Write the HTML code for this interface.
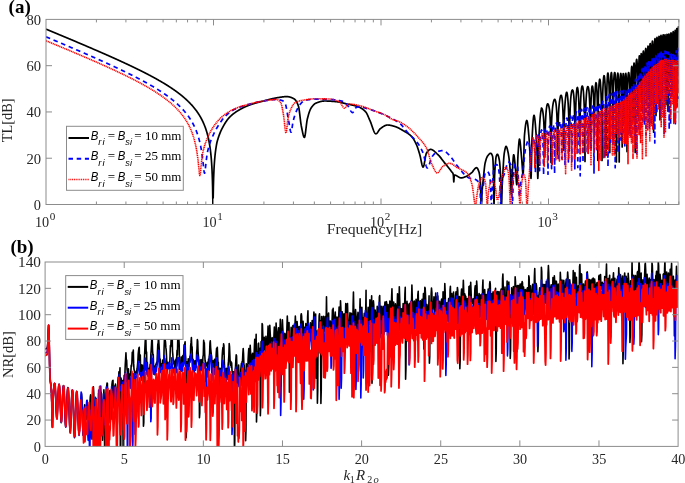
<!DOCTYPE html>
<html><head><meta charset="utf-8"><style>html,body{margin:0;padding:0;background:#fff;overflow:hidden}svg{display:block}</style></head><body>
<svg width="685" height="483" viewBox="0 0 685 483">
<defs><clipPath id="ca"><rect x="46.0" y="19.4" width="632.9" height="185.1"/></clipPath>
<clipPath id="cb"><rect x="45.1" y="262.0" width="633.0" height="184.4"/></clipPath></defs>
<rect width="685" height="483" fill="#fff"/>
<g clip-path="url(#ca)" fill="none" stroke-linejoin="round">
<polyline stroke="#000" stroke-width="1.7" points="46.00,29.09 46.20,29.17 46.40,29.26 46.60,29.34 46.80,29.42 47.00,29.51 47.20,29.59 47.40,29.67 47.60,29.76 47.80,29.84 48.00,29.92 48.20,30.01 48.40,30.09 48.60,30.17 48.80,30.26 49.00,30.34 49.20,30.42 49.40,30.51 49.60,30.59 49.80,30.67 50.00,30.76 50.20,30.84 50.40,30.92 50.60,31.01 50.80,31.09 51.00,31.17 51.20,31.26 51.40,31.34 51.60,31.42 51.80,31.51 52.00,31.59 52.20,31.67 52.40,31.76 52.60,31.84 52.80,31.92 53.00,32.01 53.20,32.09 53.40,32.17 53.60,32.26 53.80,32.34 54.00,32.42 54.20,32.51 54.40,32.59 54.60,32.67 54.80,32.76 55.00,32.84 55.20,32.92 55.40,33.01 55.60,33.09 55.80,33.18 56.00,33.26 56.20,33.34 56.40,33.43 56.60,33.51 56.80,33.59 57.00,33.68 57.20,33.76 57.40,33.84 57.60,33.93 57.80,34.01 58.00,34.09 58.20,34.18 58.40,34.26 58.60,34.35 58.80,34.43 59.00,34.51 59.20,34.60 59.40,34.68 59.60,34.76 59.80,34.85 60.00,34.93 60.20,35.02 60.40,35.10 60.60,35.18 60.80,35.27 61.00,35.35 61.20,35.43 61.40,35.52 61.60,35.60 61.80,35.69 62.00,35.77 62.20,35.85 62.40,35.94 62.60,36.02 62.80,36.10 63.00,36.19 63.20,36.27 63.40,36.36 63.60,36.44 63.80,36.52 64.00,36.61 64.20,36.69 64.40,36.78 64.60,36.86 64.80,36.94 65.00,37.03 65.20,37.11 65.40,37.20 65.60,37.28 65.80,37.36 66.00,37.45 66.20,37.53 66.40,37.62 66.60,37.70 66.80,37.78 67.00,37.87 67.20,37.95 67.40,38.04 67.60,38.12 67.80,38.20 68.00,38.29 68.20,38.37 68.40,38.46 68.60,38.54 68.80,38.63 69.00,38.71 69.20,38.79 69.40,38.88 69.60,38.96 69.80,39.05 70.00,39.13 70.20,39.22 70.40,39.30 70.60,39.38 70.80,39.47 71.00,39.55 71.20,39.64 71.40,39.72 71.60,39.81 71.80,39.89 72.00,39.97 72.20,40.06 72.40,40.14 72.60,40.23 72.80,40.31 73.00,40.40 73.20,40.48 73.40,40.57 73.60,40.65 73.80,40.73 74.00,40.82 74.20,40.90 74.40,40.99 74.60,41.07 74.80,41.16 75.00,41.24 75.20,41.33 75.40,41.41 75.60,41.50 75.80,41.58 76.00,41.66 76.20,41.75 76.40,41.83 76.60,41.92 76.80,42.00 77.00,42.09 77.20,42.17 77.40,42.26 77.60,42.34 77.80,42.43 78.00,42.51 78.20,42.60 78.40,42.68 78.60,42.77 78.80,42.85 79.00,42.94 79.20,43.02 79.40,43.11 79.60,43.19 79.80,43.28 80.00,43.36 80.20,43.45 80.40,43.53 80.60,43.62 80.80,43.70 81.00,43.79 81.20,43.87 81.40,43.96 81.60,44.04 81.80,44.13 82.00,44.21 82.20,44.30 82.40,44.38 82.60,44.47 82.80,44.55 83.00,44.64 83.20,44.72 83.40,44.81 83.60,44.89 83.80,44.98 84.00,45.06 84.20,45.15 84.40,45.23 84.60,45.32 84.80,45.41 85.00,45.49 85.20,45.58 85.40,45.66 85.60,45.75 85.80,45.83 86.00,45.92 86.20,46.00 86.40,46.09 86.60,46.18 86.80,46.26 87.00,46.35 87.20,46.43 87.40,46.52 87.60,46.60 87.80,46.69 88.00,46.77 88.20,46.86 88.40,46.95 88.60,47.03 88.80,47.12 89.00,47.20 89.20,47.29 89.40,47.38 89.60,47.46 89.80,47.55 90.00,47.63 90.20,47.72 90.40,47.80 90.60,47.89 90.80,47.98 91.00,48.06 91.20,48.15 91.40,48.24 91.60,48.32 91.80,48.41 92.00,48.49 92.20,48.58 92.40,48.67 92.60,48.75 92.80,48.84 93.00,48.92 93.20,49.01 93.40,49.10 93.60,49.18 93.80,49.27 94.00,49.36 94.20,49.44 94.40,49.53 94.60,49.62 94.80,49.70 95.00,49.79 95.20,49.88 95.40,49.96 95.60,50.05 95.80,50.14 96.00,50.22 96.20,50.31 96.40,50.40 96.60,50.48 96.80,50.57 97.00,50.66 97.20,50.74 97.40,50.83 97.60,50.92 97.80,51.00 98.00,51.09 98.20,51.18 98.40,51.26 98.60,51.35 98.80,51.44 99.00,51.52 99.20,51.61 99.40,51.70 99.60,51.79 99.80,51.87 100.00,51.96 100.20,52.05 100.40,52.14 100.60,52.22 100.80,52.31 101.00,52.40 101.20,52.48 101.40,52.57 101.60,52.66 101.80,52.75 102.00,52.83 102.20,52.92 102.40,53.01 102.60,53.10 102.80,53.18 103.00,53.27 103.20,53.36 103.40,53.45 103.60,53.54 103.80,53.62 104.00,53.71 104.20,53.80 104.40,53.89 104.60,53.98 104.80,54.06 105.00,54.15 105.20,54.24 105.40,54.33 105.60,54.42 105.80,54.50 106.00,54.59 106.20,54.68 106.40,54.77 106.60,54.86 106.80,54.94 107.00,55.03 107.20,55.12 107.40,55.21 107.60,55.30 107.80,55.39 108.00,55.48 108.20,55.56 108.40,55.65 108.60,55.74 108.80,55.83 109.00,55.92 109.20,56.01 109.40,56.10 109.60,56.19 109.80,56.27 110.00,56.36 110.20,56.45 110.40,56.54 110.60,56.63 110.80,56.72 111.00,56.81 111.20,56.90 111.40,56.99 111.60,57.08 111.80,57.17 112.00,57.26 112.20,57.34 112.40,57.43 112.60,57.52 112.80,57.61 113.00,57.70 113.20,57.79 113.40,57.88 113.60,57.97 113.80,58.06 114.00,58.15 114.20,58.24 114.40,58.33 114.60,58.42 114.80,58.51 115.00,58.60 115.20,58.69 115.40,58.78 115.60,58.87 115.80,58.96 116.00,59.05 116.20,59.14 116.40,59.23 116.60,59.32 116.80,59.41 117.00,59.50 117.20,59.59 117.40,59.69 117.60,59.78 117.80,59.87 118.00,59.96 118.20,60.05 118.40,60.14 118.60,60.23 118.80,60.32 119.00,60.41 119.20,60.50 119.40,60.59 119.60,60.69 119.80,60.78 120.00,60.87 120.20,60.96 120.40,61.05 120.60,61.14 120.80,61.23 121.00,61.33 121.20,61.42 121.40,61.51 121.60,61.60 121.80,61.69 122.00,61.78 122.20,61.88 122.40,61.97 122.60,62.06 122.80,62.15 123.00,62.24 123.20,62.34 123.40,62.43 123.60,62.52 123.80,62.61 124.00,62.71 124.20,62.80 124.40,62.89 124.60,62.98 124.80,63.08 125.00,63.17 125.20,63.26 125.40,63.36 125.60,63.45 125.80,63.54 126.00,63.64 126.20,63.73 126.40,63.82 126.60,63.91 126.80,64.01 127.00,64.10 127.20,64.20 127.40,64.29 127.60,64.38 127.80,64.48 128.00,64.57 128.20,64.66 128.40,64.76 128.60,64.85 128.80,64.95 129.00,65.04 129.20,65.13 129.40,65.23 129.60,65.32 129.80,65.42 130.00,65.51 130.20,65.61 130.40,65.70 130.60,65.80 130.80,65.89 131.00,65.99 131.20,66.08 131.40,66.18 131.60,66.27 131.80,66.37 132.00,66.46 132.20,66.56 132.40,66.65 132.60,66.75 132.80,66.85 133.00,66.94 133.20,67.04 133.40,67.13 133.60,67.23 133.80,67.33 134.00,67.42 134.20,67.52 134.40,67.61 134.60,67.71 134.80,67.81 135.00,67.90 135.20,68.00 135.40,68.10 135.60,68.19 135.80,68.29 136.00,68.39 136.20,68.49 136.40,68.58 136.60,68.68 136.80,68.78 137.00,68.88 137.20,68.97 137.40,69.07 137.60,69.17 137.80,69.27 138.00,69.37 138.20,69.46 138.40,69.56 138.60,69.66 138.80,69.76 139.00,69.86 139.20,69.96 139.40,70.05 139.60,70.15 139.80,70.25 140.00,70.35 140.20,70.45 140.40,70.55 140.60,70.65 140.80,70.75 141.00,70.85 141.20,70.95 141.40,71.05 141.60,71.15 141.80,71.25 142.00,71.35 142.20,71.45 142.40,71.55 142.60,71.65 142.80,71.75 143.00,71.85 143.20,71.95 143.40,72.06 143.60,72.16 143.80,72.26 144.00,72.36 144.20,72.46 144.40,72.56 144.60,72.66 144.80,72.77 145.00,72.87 145.20,72.97 145.40,73.07 145.60,73.18 145.80,73.28 146.00,73.38 146.20,73.48 146.40,73.59 146.60,73.69 146.80,73.79 147.00,73.90 147.20,74.00 147.40,74.10 147.60,74.21 147.80,74.31 148.00,74.42 148.20,74.52 148.40,74.63 148.60,74.73 148.80,74.84 149.00,74.94 149.20,75.05 149.40,75.15 149.60,75.26 149.80,75.36 150.00,75.47 150.20,75.57 150.40,75.68 150.60,75.79 150.80,75.89 151.00,76.00 151.20,76.11 151.40,76.21 151.60,76.32 151.80,76.43 152.00,76.53 152.20,76.64 152.40,76.75 152.60,76.86 152.80,76.96 153.00,77.07 153.20,77.18 153.40,77.29 153.60,77.40 153.80,77.51 154.00,77.62 154.20,77.73 154.40,77.84 154.60,77.95 154.80,78.06 155.00,78.17 155.20,78.28 155.40,78.39 155.60,78.50 155.80,78.61 156.00,78.72 156.20,78.83 156.40,78.94 156.60,79.05 156.80,79.17 157.00,79.28 157.20,79.39 157.40,79.50 157.60,79.62 157.80,79.73 158.00,79.84 158.20,79.96 158.40,80.07 158.60,80.18 158.80,80.30 159.00,80.41 159.20,80.53 159.40,80.64 159.60,80.76 159.80,80.87 160.00,80.99 160.20,81.10 160.40,81.22 160.60,81.33 160.80,81.45 161.00,81.57 161.20,81.68 161.40,81.80 161.60,81.92 161.80,82.04 162.00,82.15 162.20,82.27 162.40,82.39 162.60,82.51 162.80,82.63 163.00,82.75 163.20,82.87 163.40,82.99 163.60,83.11 163.80,83.23 164.00,83.35 164.20,83.47 164.40,83.59 164.60,83.71 164.80,83.84 165.00,83.96 165.20,84.08 165.40,84.20 165.60,84.33 165.80,84.45 166.00,84.57 166.20,84.70 166.40,84.82 166.60,84.95 166.80,85.07 167.00,85.20 167.20,85.32 167.40,85.45 167.60,85.58 167.80,85.70 168.00,85.83 168.20,85.96 168.40,86.08 168.60,86.21 168.80,86.34 169.00,86.47 169.20,86.60 169.40,86.73 169.60,86.86 169.80,86.99 170.00,87.12 170.20,87.25 170.40,87.38 170.60,87.51 170.80,87.65 171.00,87.78 171.20,87.91 171.40,88.05 171.60,88.18 171.80,88.31 172.00,88.45 172.20,88.58 172.40,88.72 172.60,88.86 172.80,88.99 173.00,89.13 173.20,89.27 173.40,89.40 173.60,89.54 173.80,89.68 174.00,89.82 174.20,89.96 174.40,90.10 174.60,90.24 174.80,90.38 175.00,90.53 175.20,90.67 175.40,90.81 175.60,90.95 175.80,91.10 176.00,91.24 176.20,91.39 176.40,91.53 176.60,91.68 176.80,91.83 177.00,91.97 177.20,92.12 177.40,92.27 177.60,92.42 177.80,92.57 178.00,92.72 178.20,92.87 178.40,93.02 178.60,93.17 178.80,93.32 179.00,93.48 179.20,93.63 179.40,93.79 179.60,93.94 179.80,94.10 180.00,94.25 180.20,94.41 180.40,94.57 180.60,94.73 180.80,94.89 181.00,95.05 181.20,95.21 181.40,95.37 181.60,95.53 181.80,95.69 182.00,95.86 182.20,96.02 182.40,96.19 182.60,96.35 182.80,96.52 183.00,96.69 183.20,96.86 183.40,97.03 183.60,97.20 183.80,97.37 184.00,97.54 184.20,97.71 184.40,97.89 184.60,98.06 184.80,98.24 185.00,98.42 185.20,98.59 185.40,98.77 185.60,98.95 185.80,99.13 186.00,99.32 186.20,99.50 186.40,99.68 186.60,99.87 186.80,100.05 187.00,100.24 187.20,100.43 187.40,100.62 187.60,100.81 187.80,101.00 188.00,101.20 188.20,101.39 188.40,101.59 188.60,101.78 188.80,101.98 189.00,102.18 189.20,102.38 189.40,102.59 189.60,102.79 189.80,102.99 190.00,103.20 190.20,103.41 190.40,103.62 190.60,103.83 190.80,104.04 191.00,104.26 191.20,104.47 191.40,104.69 191.60,104.91 191.80,105.13 192.00,105.35 192.20,105.58 192.40,105.80 192.60,106.03 192.80,106.26 193.00,106.49 193.20,106.73 193.40,106.96 193.60,107.20 193.80,107.44 194.00,107.68 194.20,107.93 194.40,108.18 194.60,108.42 194.80,108.68 195.00,108.93 195.20,109.18 195.40,109.44 195.60,109.70 195.80,109.97 196.00,110.23 196.20,110.50 196.40,110.78 196.60,111.05 196.80,111.33 197.00,111.61 197.20,111.89 197.40,112.18 197.60,112.47 197.80,112.76 198.00,113.06 198.20,113.36 198.40,113.66 198.60,113.97 198.80,114.28 199.00,114.60 199.20,114.92 199.40,115.24 199.60,115.57 199.80,115.90 200.00,116.24 200.20,116.58 200.40,116.93 200.60,117.28 200.80,117.64 201.00,118.00 201.20,118.37 201.40,118.74 201.60,119.12 201.80,119.51 202.00,119.90 202.20,120.30 202.40,120.70 202.60,121.12 202.80,121.54 203.00,121.96 203.20,122.40 203.40,122.84 203.60,123.30 203.80,123.76 204.00,124.23 204.20,124.71 204.40,125.20 204.60,125.70 204.80,126.22 205.00,126.74 205.20,127.28 205.40,127.83 205.60,128.40 205.80,128.98 206.00,129.57 206.20,130.18 206.40,130.81 206.60,131.46 206.80,132.13 207.00,132.82 207.20,133.53 207.40,134.26 207.60,135.02 207.80,135.81 208.00,136.63 208.20,137.48 208.40,138.36 208.60,139.28 208.80,140.25 209.00,141.26 209.20,142.32 209.40,143.43 209.60,144.61 209.80,145.86 210.00,147.18 210.20,148.60 210.40,150.12 210.60,151.76 210.80,153.53 211.00,155.48 211.20,157.62 211.40,160.01 211.60,162.72 211.80,165.83 212.00,169.49 212.20,173.94 212.40,179.58 212.60,187.23 212.80,198.40 213.00,208.30 213.20,197.01 213.40,186.36 213.60,179.05 213.80,173.62 214.00,169.33 214.20,165.79 214.40,162.78 214.60,160.17 214.80,157.86 215.00,155.79 215.20,153.92 215.40,152.22 215.60,150.65 215.80,149.19 216.00,147.84 216.20,146.58 216.40,145.39 216.60,144.27 216.80,143.22 217.00,142.22 217.20,141.48 217.40,140.77 217.60,140.07 217.80,139.40 218.00,138.74 218.20,138.10 218.40,137.48 218.60,136.87 218.80,136.29 219.00,135.71 219.20,135.16 219.40,134.62 219.60,134.09 219.80,133.58 220.00,133.08 220.20,132.59 220.40,132.11 220.60,131.65 220.80,131.20 221.00,130.75 221.20,130.32 221.40,129.90 221.60,129.48 221.80,129.08 222.00,128.68 222.20,128.29 222.40,127.90 222.60,127.53 222.80,127.15 223.00,126.78 223.20,126.42 223.40,126.06 223.60,125.70 223.80,125.35 224.00,125.00 224.20,124.65 224.40,124.31 224.60,123.97 224.80,123.64 225.00,123.31 225.20,122.99 225.40,122.68 225.60,122.37 225.80,122.06 226.00,121.76 226.20,121.46 226.40,121.17 226.60,120.89 226.80,120.61 227.00,120.33 227.20,120.06 227.40,119.80 227.60,119.54 227.80,119.28 228.00,119.03 228.20,118.79 228.40,118.54 228.60,118.31 228.80,118.08 229.00,117.85 229.20,117.63 229.40,117.42 229.60,117.21 229.80,117.00 230.00,116.80 230.20,116.60 230.40,116.40 230.60,116.21 230.80,116.02 231.00,115.83 231.20,115.65 231.40,115.46 231.60,115.29 231.80,115.11 232.00,114.93 232.20,114.76 232.40,114.59 232.60,114.43 232.80,114.26 233.00,114.10 233.20,113.94 233.40,113.78 233.60,113.63 233.80,113.47 234.00,113.32 234.20,113.17 234.40,113.03 234.60,112.88 234.80,112.74 235.00,112.59 235.20,112.45 235.40,112.32 235.60,112.18 235.80,112.04 236.00,111.91 236.20,111.78 236.40,111.65 236.60,111.52 236.80,111.39 237.00,111.26 237.20,111.14 237.40,111.01 237.60,110.89 237.80,110.77 238.00,110.64 238.20,110.52 238.40,110.40 238.60,110.28 238.80,110.16 239.00,110.04 239.20,109.93 239.40,109.81 239.60,109.69 239.80,109.58 240.00,109.47 240.20,109.35 240.40,109.24 240.60,109.13 240.80,109.02 241.00,108.91 241.20,108.80 241.40,108.69 241.60,108.58 241.80,108.48 242.00,108.37 242.20,108.27 242.40,108.16 242.60,108.06 242.80,107.96 243.00,107.86 243.20,107.76 243.40,107.66 243.60,107.56 243.80,107.46 244.00,107.36 244.20,107.27 244.40,107.17 244.60,107.08 244.80,106.98 245.00,106.89 245.20,106.80 245.40,106.71 245.60,106.62 245.80,106.53 246.00,106.44 246.20,106.35 246.40,106.27 246.60,106.18 246.80,106.10 247.00,106.01 247.20,105.93 247.40,105.85 247.60,105.77 247.80,105.69 248.00,105.61 248.20,105.53 248.40,105.45 248.60,105.38 248.80,105.30 249.00,105.23 249.20,105.15 249.40,105.08 249.60,105.01 249.80,104.93 250.00,104.86 250.20,104.79 250.40,104.72 250.60,104.65 250.80,104.58 251.00,104.51 251.20,104.45 251.40,104.38 251.60,104.31 251.80,104.25 252.00,104.18 252.20,104.12 252.40,104.05 252.60,103.99 252.80,103.92 253.00,103.86 253.20,103.80 253.40,103.74 253.60,103.67 253.80,103.61 254.00,103.55 254.20,103.49 254.40,103.43 254.60,103.37 254.80,103.31 255.00,103.26 255.20,103.20 255.40,103.14 255.60,103.08 255.80,103.02 256.00,102.97 256.20,102.91 256.40,102.85 256.60,102.80 256.80,102.74 257.00,102.69 257.20,102.63 257.40,102.58 257.60,102.52 257.80,102.47 258.00,102.41 258.20,102.36 258.40,102.31 258.60,102.25 258.80,102.20 259.00,102.15 259.20,102.09 259.40,102.04 259.60,101.99 259.80,101.94 260.00,101.88 260.20,101.83 260.40,101.78 260.60,101.73 260.80,101.67 261.00,101.62 261.20,101.57 261.40,101.52 261.60,101.47 261.80,101.41 262.00,101.36 262.20,101.31 262.40,101.26 262.60,101.21 262.80,101.16 263.00,101.10 263.20,101.05 263.40,101.00 263.60,100.95 263.80,100.90 264.00,100.84 264.20,100.79 264.40,100.74 264.60,100.69 264.80,100.63 265.00,100.58 265.20,100.53 265.40,100.47 265.60,100.42 265.80,100.37 266.00,100.31 266.20,100.26 266.40,100.21 266.60,100.16 266.80,100.10 267.00,100.05 267.20,100.00 267.40,99.94 267.60,99.89 267.80,99.84 268.00,99.79 268.20,99.73 268.40,99.68 268.60,99.63 268.80,99.58 269.00,99.53 269.20,99.47 269.40,99.42 269.60,99.37 269.80,99.32 270.00,99.27 270.20,99.22 270.40,99.17 270.60,99.12 270.80,99.07 271.00,99.02 271.20,98.97 271.40,98.93 271.60,98.88 271.80,98.83 272.00,98.78 272.20,98.74 272.40,98.69 272.60,98.64 272.80,98.60 273.00,98.55 273.20,98.51 273.40,98.46 273.60,98.42 273.80,98.37 274.00,98.33 274.20,98.29 274.40,98.25 274.60,98.21 274.80,98.17 275.00,98.13 275.20,98.09 275.40,98.05 275.60,98.01 275.80,97.97 276.00,97.93 276.20,97.90 276.40,97.86 276.60,97.83 276.80,97.79 277.00,97.76 277.20,97.72 277.40,97.69 277.60,97.66 277.80,97.63 278.00,97.60 278.20,97.57 278.40,97.54 278.60,97.51 278.80,97.48 279.00,97.45 279.20,97.42 279.40,97.39 279.60,97.35 279.80,97.32 280.00,97.29 280.20,97.26 280.40,97.23 280.60,97.20 280.80,97.17 281.00,97.14 281.20,97.11 281.40,97.08 281.60,97.05 281.80,97.02 282.00,96.99 282.20,96.96 282.40,96.94 282.60,96.91 282.80,96.88 283.00,96.86 283.20,96.84 283.40,96.81 283.60,96.79 283.80,96.77 284.00,96.75 284.20,96.73 284.40,96.71 284.60,96.69 284.80,96.68 285.00,96.66 285.20,96.65 285.40,96.64 285.60,96.63 285.80,96.62 286.00,96.61 286.20,96.61 286.40,96.60 286.60,96.60 286.80,96.60 287.00,96.60 287.20,96.61 287.40,96.62 287.60,96.63 287.80,96.65 288.00,96.67 288.20,96.70 288.40,96.73 288.60,96.76 288.80,96.80 289.00,96.84 289.20,96.88 289.40,96.93 289.60,96.98 289.80,97.03 290.00,97.09 290.20,97.15 290.40,97.21 290.60,97.28 290.80,97.34 291.00,97.42 291.20,97.49 291.40,97.57 291.60,97.65 291.80,97.73 292.00,97.82 292.20,97.90 292.40,97.99 292.60,98.09 292.80,98.18 293.00,98.28 293.20,98.38 293.40,98.48 293.60,98.59 293.80,98.69 294.00,98.80 294.20,98.92 294.40,99.06 294.60,99.21 294.80,99.39 295.00,99.59 295.20,99.81 295.40,100.04 295.60,100.30 295.80,100.58 296.00,100.87 296.20,101.19 296.40,101.53 296.60,101.88 296.80,102.26 297.00,102.65 297.20,103.07 297.40,103.51 297.60,103.97 297.80,104.44 298.00,104.94 298.20,105.46 298.40,106.00 298.60,106.68 298.80,107.60 299.00,108.73 299.20,110.04 299.40,111.48 299.60,113.04 299.80,114.67 300.00,116.34 300.20,118.03 300.40,119.69 300.60,121.29 300.80,122.81 301.00,124.21 301.20,125.45 301.40,126.50 301.60,127.47 301.80,128.46 302.00,129.46 302.20,130.45 302.40,131.43 302.60,132.39 302.80,133.30 303.00,134.15 303.20,134.93 303.40,135.63 303.60,136.23 303.80,136.72 304.00,137.09 304.20,137.32 304.40,137.40 304.60,137.20 304.80,136.65 305.00,135.79 305.20,134.66 305.40,133.33 305.60,131.82 305.80,130.20 306.00,128.51 306.20,126.80 306.40,125.12 306.60,123.52 306.80,122.04 307.00,120.73 307.20,119.65 307.40,118.79 307.60,117.99 307.80,117.21 308.00,116.45 308.20,115.71 308.40,115.00 308.60,114.30 308.80,113.63 309.00,112.99 309.20,112.38 309.40,111.79 309.60,111.23 309.80,110.70 310.00,110.20 310.20,109.73 310.40,109.30 310.60,108.90 310.80,108.53 311.00,108.20 311.20,107.89 311.40,107.59 311.60,107.30 311.80,107.02 312.00,106.74 312.20,106.47 312.40,106.21 312.60,105.96 312.80,105.72 313.00,105.48 313.20,105.26 313.40,105.04 313.60,104.83 313.80,104.63 314.00,104.44 314.20,104.26 314.40,104.09 314.60,103.93 314.80,103.78 315.00,103.64 315.20,103.51 315.40,103.39 315.60,103.29 315.80,103.19 316.00,103.10 316.20,103.02 316.40,102.94 316.60,102.86 316.80,102.78 317.00,102.70 317.20,102.63 317.40,102.55 317.60,102.48 317.80,102.41 318.00,102.33 318.20,102.26 318.40,102.20 318.60,102.13 318.80,102.06 319.00,102.00 319.20,101.94 319.40,101.88 319.60,101.82 319.80,101.76 320.00,101.70 320.20,101.65 320.40,101.60 320.60,101.55 320.80,101.50 321.00,101.45 321.20,101.41 321.40,101.37 321.60,101.33 321.80,101.29 322.00,101.25 322.20,101.22 322.40,101.19 322.60,101.16 322.80,101.13 323.00,101.11 323.20,101.09 323.40,101.07 323.60,101.05 323.80,101.03 324.00,101.02 324.20,101.01 324.40,101.01 324.60,101.00 324.80,101.00 325.00,101.00 325.20,101.00 325.40,101.00 325.60,101.00 325.80,101.01 326.00,101.01 326.20,101.01 326.40,101.02 326.60,101.02 326.80,101.03 327.00,101.03 327.20,101.04 327.40,101.05 327.60,101.05 327.80,101.06 328.00,101.07 328.20,101.08 328.40,101.09 328.60,101.09 328.80,101.10 329.00,101.11 329.20,101.12 329.40,101.14 329.60,101.15 329.80,101.16 330.00,101.17 330.20,101.18 330.40,101.19 330.60,101.21 330.80,101.22 331.00,101.23 331.20,101.25 331.40,101.26 331.60,101.28 331.80,101.29 332.00,101.31 332.20,101.32 332.40,101.34 332.60,101.35 332.80,101.37 333.00,101.39 333.20,101.40 333.40,101.42 333.60,101.44 333.80,101.45 334.00,101.47 334.20,101.49 334.40,101.51 334.60,101.52 334.80,101.54 335.00,101.56 335.20,101.58 335.40,101.60 335.60,101.62 335.80,101.63 336.00,101.65 336.20,101.67 336.40,101.69 336.60,101.71 336.80,101.73 337.00,101.75 337.20,101.78 337.40,101.80 337.60,101.83 337.80,101.86 338.00,101.89 338.20,101.92 338.40,101.95 338.60,101.99 338.80,102.02 339.00,102.06 339.20,102.10 339.40,102.14 339.60,102.18 339.80,102.22 340.00,102.26 340.20,102.30 340.40,102.35 340.60,102.39 340.80,102.44 341.00,102.48 341.20,102.53 341.40,102.58 341.60,102.63 341.80,102.68 342.00,102.73 342.20,102.77 342.40,102.82 342.60,102.88 342.80,102.93 343.00,102.98 343.20,103.03 343.40,103.08 343.60,103.13 343.80,103.18 344.00,103.23 344.20,103.28 344.40,103.34 344.60,103.39 344.80,103.44 345.00,103.49 345.20,103.54 345.40,103.59 345.60,103.64 345.80,103.69 346.00,103.73 346.20,103.78 346.40,103.83 346.60,103.88 346.80,103.92 347.00,103.97 347.20,104.01 347.40,104.06 347.60,104.10 347.80,104.14 348.00,104.19 348.20,104.23 348.40,104.27 348.60,104.31 348.80,104.35 349.00,104.40 349.20,104.44 349.40,104.48 349.60,104.52 349.80,104.56 350.00,104.60 350.20,104.64 350.40,104.68 350.60,104.72 350.80,104.76 351.00,104.80 351.20,104.84 351.40,104.89 351.60,104.93 351.80,104.97 352.00,105.01 352.20,105.06 352.40,105.10 352.60,105.14 352.80,105.19 353.00,105.23 353.20,105.28 353.40,105.32 353.60,105.37 353.80,105.42 354.00,105.47 354.20,105.51 354.40,105.56 354.60,105.61 354.80,105.67 355.00,105.72 355.20,105.77 355.40,105.83 355.60,105.88 355.80,105.94 356.00,106.00 356.20,106.06 356.40,106.12 356.60,106.18 356.80,106.24 357.00,106.31 357.20,106.37 357.40,106.44 357.60,106.51 357.80,106.58 358.00,106.65 358.20,106.72 358.40,106.80 358.60,106.88 358.80,106.96 359.00,107.04 359.20,107.13 359.40,107.22 359.60,107.31 359.80,107.40 360.00,107.50 360.20,107.60 360.40,107.71 360.60,107.81 360.80,107.93 361.00,108.04 361.20,108.16 361.40,108.28 361.60,108.41 361.80,108.54 362.00,108.67 362.20,108.81 362.40,108.95 362.60,109.09 362.80,109.24 363.00,109.40 363.20,109.55 363.40,109.72 363.60,109.88 363.80,110.05 364.00,110.23 364.20,110.41 364.40,110.59 364.60,110.78 364.80,110.97 365.00,111.17 365.20,111.37 365.40,111.58 365.60,111.79 365.80,112.01 366.00,112.26 366.20,112.54 366.40,112.85 366.60,113.19 366.80,113.55 367.00,113.93 367.20,114.33 367.40,114.75 367.60,115.18 367.80,115.63 368.00,116.08 368.20,116.55 368.40,117.02 368.60,117.49 368.80,117.96 369.00,118.44 369.20,118.90 369.40,119.37 369.60,119.82 369.80,120.27 370.00,120.70 370.20,121.14 370.40,121.61 370.60,122.11 370.80,122.63 371.00,123.17 371.20,123.72 371.40,124.29 371.60,124.87 371.80,125.46 372.00,126.05 372.20,126.64 372.40,127.23 372.60,127.82 372.80,128.39 373.00,128.96 373.20,129.50 373.40,130.03 373.60,130.54 373.80,131.03 374.00,131.48 374.20,131.91 374.40,132.29 374.60,132.65 374.80,132.96 375.00,133.23 375.20,133.45 375.40,133.62 375.60,133.73 375.80,133.79 376.00,133.79 376.20,133.75 376.40,133.65 376.60,133.52 376.80,133.35 377.00,133.15 377.20,132.92 377.40,132.67 377.60,132.40 377.80,132.11 378.00,131.81 378.20,131.49 378.40,131.18 378.60,130.86 378.80,130.55 379.00,130.24 379.20,129.95 379.40,129.67 379.60,129.41 379.80,129.17 380.00,128.96 380.20,128.78 380.40,128.63 380.60,128.48 380.80,128.33 381.00,128.19 381.20,128.04 381.40,127.89 381.60,127.75 381.80,127.61 382.00,127.46 382.20,127.32 382.40,127.18 382.60,127.04 382.80,126.91 383.00,126.77 383.20,126.64 383.40,126.52 383.60,126.39 383.80,126.27 384.00,126.16 384.20,126.04 384.40,125.94 384.60,125.83 384.80,125.73 385.00,125.64 385.20,125.55 385.40,125.47 385.60,125.39 385.80,125.32 386.00,125.26 386.20,125.20 386.40,125.15 386.60,125.10 386.80,125.07 387.00,125.04 387.20,125.02 387.40,125.00 387.60,125.00 387.80,125.00 388.00,125.01 388.20,125.02 388.40,125.03 388.60,125.04 388.80,125.06 389.00,125.08 389.20,125.11 389.40,125.13 389.60,125.16 389.80,125.19 390.00,125.23 390.20,125.26 390.40,125.30 390.60,125.34 390.80,125.38 391.00,125.43 391.20,125.48 391.40,125.52 391.60,125.57 391.80,125.62 392.00,125.67 392.20,125.73 392.40,125.78 392.60,125.84 392.80,125.89 393.00,125.95 393.20,126.01 393.40,126.06 393.60,126.12 393.80,126.18 394.00,126.24 394.20,126.30 394.40,126.35 394.60,126.41 394.80,126.47 395.00,126.53 395.20,126.59 395.40,126.65 395.60,126.72 395.80,126.79 396.00,126.86 396.20,126.94 396.40,127.02 396.60,127.10 396.80,127.18 397.00,127.27 397.20,127.36 397.40,127.45 397.60,127.54 397.80,127.63 398.00,127.73 398.20,127.83 398.40,127.93 398.60,128.03 398.80,128.13 399.00,128.24 399.20,128.34 399.40,128.45 399.60,128.56 399.80,128.67 400.00,128.78 400.20,128.89 400.40,129.01 400.60,129.12 400.80,129.24 401.00,129.35 401.20,129.47 401.40,129.59 401.60,129.70 401.80,129.82 402.00,129.94 402.20,130.05 402.40,130.17 402.60,130.29 402.80,130.41 403.00,130.52 403.20,130.64 403.40,130.76 403.60,130.87 403.80,130.99 404.00,131.10 404.20,131.22 404.40,131.33 404.60,131.45 404.80,131.56 405.00,131.67 405.20,131.79 405.40,131.90 405.60,132.02 405.80,132.13 406.00,132.25 406.20,132.37 406.40,132.49 406.60,132.61 406.80,132.73 407.00,132.85 407.20,132.98 407.40,133.11 407.60,133.24 407.80,133.37 408.00,133.50 408.20,133.64 408.40,133.78 408.60,133.92 408.80,134.07 409.00,134.22 409.20,134.37 409.40,134.52 409.60,134.68 409.80,134.85 410.00,135.01 410.20,135.18 410.40,135.36 410.60,135.54 410.80,135.72 411.00,135.91 411.20,136.10 411.40,136.30 411.60,136.50 411.80,136.71 412.00,136.94 412.20,137.17 412.40,137.43 412.60,137.69 412.80,137.96 413.00,138.25 413.20,138.55 413.40,138.85 413.60,139.17 413.80,139.50 414.00,139.84 414.20,140.19 414.40,140.55 414.60,140.92 414.80,141.29 415.00,141.68 415.20,142.07 415.40,142.47 415.60,142.88 415.80,143.29 416.00,143.72 416.20,144.15 416.40,144.58 416.60,145.02 416.80,145.49 417.00,145.99 417.20,146.52 417.40,147.06 417.60,147.63 417.80,148.22 418.00,148.82 418.20,149.44 418.40,150.07 418.60,150.72 418.80,151.37 419.00,152.03 419.20,152.69 419.40,153.36 419.60,154.03 419.80,154.70 420.00,155.42 420.20,156.23 420.40,157.12 420.60,158.06 420.80,159.05 421.00,160.05 421.20,161.05 421.40,162.03 421.60,162.98 421.80,163.88 422.00,164.70 422.20,165.43 422.40,166.05 422.60,166.55 422.80,166.89 423.00,167.08 423.20,167.07 423.40,166.83 423.60,166.37 423.80,165.72 424.00,164.92 424.20,163.98 424.40,162.95 424.60,161.84 424.80,160.68 425.00,159.50 425.20,158.34 425.40,157.22 425.60,156.16 425.80,155.20 426.00,154.36 426.20,153.68 426.40,153.18 426.60,152.85 426.80,152.56 427.00,152.28 427.20,152.01 427.40,151.74 427.60,151.49 427.80,151.25 428.00,151.01 428.20,150.79 428.40,150.59 428.60,150.40 428.80,150.22 429.00,150.05 429.20,149.91 429.40,149.78 429.60,149.67 429.80,149.57 430.00,149.50 430.20,149.44 430.40,149.41 430.60,149.40 430.80,149.41 431.00,149.43 431.20,149.46 431.40,149.50 431.60,149.56 431.80,149.62 432.00,149.70 432.20,149.79 432.40,149.89 432.60,149.99 432.80,150.11 433.00,150.23 433.20,150.36 433.40,150.50 433.60,150.65 433.80,150.80 434.00,150.96 434.20,151.12 434.40,151.29 434.60,151.47 434.80,151.64 435.00,151.83 435.20,152.01 435.40,152.20 435.60,152.39 435.80,152.58 436.00,152.78 436.20,152.97 436.40,153.17 436.60,153.36 436.80,153.56 437.00,153.75 437.20,153.95 437.40,154.14 437.60,154.33 437.80,154.52 438.00,154.70 438.20,154.89 438.40,155.08 438.60,155.28 438.80,155.49 439.00,155.70 439.20,155.92 439.40,156.15 439.60,156.38 439.80,156.61 440.00,156.85 440.20,157.10 440.40,157.34 440.60,157.60 440.80,157.85 441.00,158.11 441.20,158.37 441.40,158.63 441.60,158.90 441.80,159.17 442.00,159.43 442.20,159.70 442.40,159.97 442.60,160.24 442.80,160.51 443.00,160.78 443.20,161.05 443.40,161.32 443.60,161.58 443.80,161.84 444.00,162.11 444.20,162.37 444.40,162.62 444.60,162.87 444.80,163.12 445.00,163.37 445.20,163.62 445.40,163.86 445.60,164.11 445.80,164.35 446.00,164.59 446.20,164.83 446.40,165.07 446.60,165.31 446.80,165.55 447.00,165.79 447.20,166.03 447.40,166.27 447.60,166.51 447.80,166.75 448.00,166.99 448.20,167.24 448.40,167.48 448.60,167.73 448.80,167.98 449.00,168.23 449.20,168.48 449.40,168.73 449.60,168.99 449.80,169.25 450.00,169.51 450.20,169.78 450.40,170.05 450.60,170.32 450.80,170.59 451.00,170.87 451.20,171.16 451.40,171.44 451.60,171.67 451.80,171.88 452.00,172.08 452.20,172.28 452.40,172.52 452.60,172.81 452.80,173.17 453.00,173.61 453.20,174.17 453.40,175.50 453.60,179.53 453.80,182.00 454.00,179.54 454.20,175.73 454.40,175.00 454.60,175.02 454.80,175.04 455.00,175.08 455.20,175.14 455.40,175.20 455.60,175.27 455.80,175.35 456.00,175.44 456.20,175.54 456.40,175.64 456.60,175.75 456.80,175.87 457.00,175.98 457.20,176.11 457.40,176.23 457.60,176.36 457.80,176.48 458.00,176.61 458.20,176.73 458.40,176.85 458.60,176.98 458.80,177.09 459.00,177.20 459.20,177.31 459.40,177.41 459.60,177.50 459.80,177.59 460.00,177.67 460.20,177.73 460.40,177.79 460.60,177.84 460.80,177.87 461.00,177.89 461.20,177.90 461.40,177.90 461.60,177.88 461.80,177.87 462.00,177.84 462.20,177.81 462.40,177.77 462.60,177.73 462.80,177.68 463.00,177.63 463.20,177.57 463.40,177.51 463.60,177.44 463.80,177.37 464.00,177.30 464.20,177.23 464.40,177.15 464.60,177.07 464.80,176.99 465.00,176.91 465.20,176.83 465.40,176.75 465.60,176.66 465.80,176.58 466.00,176.50 466.20,176.42 466.40,176.33 466.60,176.23 466.80,176.13 467.00,176.03 467.20,175.92 467.40,175.80 467.60,175.68 467.80,175.56 468.00,175.43 468.20,175.30 468.40,175.17 468.60,175.03 468.80,174.89 469.00,174.75 469.20,174.60 469.40,174.45 469.60,174.30 469.80,174.15 470.00,174.00 470.20,173.84 470.40,173.68 470.60,173.52 470.80,173.36 471.00,173.20 471.20,173.04 471.40,172.88 471.60,172.72 471.80,172.53 472.00,172.33 472.20,172.12 472.40,171.89 472.60,171.64 472.80,171.39 473.00,171.13 473.20,170.87 473.40,170.60 473.60,170.33 473.80,170.06 474.00,169.80 474.20,169.54 474.40,169.29 474.60,169.05 474.80,168.83 475.00,168.61 475.20,168.42 475.40,168.24 475.60,168.08 475.80,167.95 476.00,167.84 476.20,167.77 476.40,167.72 476.60,167.70 476.80,167.74 477.00,167.86 477.20,168.04 477.40,168.30 477.60,168.61 477.80,168.98 478.00,169.40 478.20,169.87 478.40,170.38 478.60,170.92 478.80,171.50 479.00,172.10 479.20,172.82 479.40,173.76 479.60,174.93 479.80,176.34 480.00,178.00 480.20,179.93 480.40,182.59 480.60,188.02 480.80,194.88 481.00,201.29 481.20,205.40 481.40,205.58 481.60,202.71 481.80,198.25 482.00,193.57 482.20,190.00 482.40,187.64 482.60,185.60 482.80,183.75 483.00,181.93 483.20,180.04 483.40,178.03 483.60,175.96 483.80,173.87 484.00,171.82 484.20,169.84 484.40,167.99 484.60,166.31 484.80,164.86 485.00,163.68 485.20,162.77 485.40,161.95 485.60,161.18 485.80,160.46 486.00,159.78 486.20,159.15 486.40,158.57 486.60,158.03 486.80,157.53 487.00,157.08 487.20,156.67 487.40,156.31 487.60,155.98 487.80,155.70 488.00,155.44 488.20,155.18 488.40,154.93 488.60,154.69 488.80,154.46 489.00,154.24 489.20,154.04 489.40,153.86 489.60,153.70 489.80,153.56 490.00,153.45 490.20,153.37 490.40,153.32 490.60,153.30 490.80,153.33 491.00,153.42 491.20,153.56 491.40,153.77 491.60,154.04 491.80,154.38 492.00,154.78 492.20,155.25 492.40,155.79 492.60,156.40 492.80,157.87 493.00,160.80 493.20,164.93 493.40,170.00 493.60,181.75 493.80,197.88 494.00,206.00 494.20,199.30 494.40,185.93 494.60,176.00 494.80,171.84 495.00,168.72 495.20,166.19 495.40,163.79 495.60,161.37 495.80,159.18 496.00,157.44 496.20,156.40 496.40,155.82 496.60,155.31 496.80,154.89 497.00,154.57 497.20,154.37 497.40,154.30 497.60,154.38 497.80,154.60 498.00,154.97 498.20,155.46 498.40,156.07 498.60,156.79 498.80,157.60 499.00,158.49 499.20,159.46 499.40,160.50 499.60,161.88 499.80,163.87 500.00,166.41 500.20,169.45 500.40,172.92 500.60,176.79 500.80,181.00 501.00,188.18 501.20,197.76 501.40,204.88 501.60,205.10 501.80,199.32 502.00,191.37 502.20,185.00 502.40,181.25 502.60,178.00 502.80,174.57 503.00,170.96 503.20,167.32 503.40,163.80 503.60,160.53 503.80,157.66 504.00,155.34 504.20,153.70 504.40,152.48 504.60,151.31 504.80,150.22 505.00,149.23 505.20,148.36 505.40,147.63 505.60,147.05 505.80,146.64 506.00,146.43 506.20,146.42 506.40,146.61 506.60,146.95 506.80,147.44 507.00,148.04 507.20,148.74 507.40,149.50 507.60,150.32 507.80,151.16 508.00,152.00 508.20,152.93 508.40,154.02 508.60,155.28 508.80,156.67 509.00,158.18 509.20,159.80 509.40,161.53 509.60,163.43 509.80,165.53 510.00,167.86 510.20,170.48 510.40,173.41 510.60,177.12 510.80,183.25 511.00,189.83 511.20,194.32 511.40,194.48 511.60,190.96 511.80,185.46 512.00,179.60 512.20,175.00 512.40,171.43 512.60,167.75 512.80,164.15 513.00,160.85 513.20,158.06 513.40,155.99 513.60,154.85 513.80,154.78 514.00,155.38 514.20,156.49 514.40,158.00 514.60,159.80 514.80,161.81 515.00,163.91 515.20,166.01 515.40,168.00 515.60,170.32 515.80,173.25 516.00,176.44 516.20,179.52 516.40,182.17 516.60,184.01 516.80,184.70 517.00,182.92 517.20,178.34 517.40,172.11 517.60,165.38 517.80,159.29 518.00,155.00 518.20,151.96 518.40,148.97 518.60,146.15 518.80,143.63 519.00,141.55 519.20,140.03 519.40,139.21 519.60,139.18 519.80,139.77 520.00,140.88 520.20,142.41 520.40,144.28 520.60,146.40 520.80,148.69 521.00,151.06 521.20,153.43 521.40,155.70 521.60,157.80 521.80,160.09 522.00,162.82 522.20,165.75 522.40,168.60 522.60,171.12 522.80,173.06 523.00,174.15 523.20,173.80 523.40,170.21 523.60,164.09 523.80,156.55 524.00,148.70 524.20,141.65 524.40,136.51 524.60,133.93 524.80,131.86 525.00,129.92 525.20,128.11 525.40,126.46 525.60,124.97 525.80,123.67 526.00,122.57 526.20,121.69 526.40,121.04 526.60,120.64 526.80,120.50 527.00,120.70 527.20,121.26 527.40,122.17 527.60,123.37 527.80,124.85 528.00,126.57 528.20,128.49 528.40,130.58 528.60,132.81 528.80,135.15 529.00,137.55 529.20,140.00 529.40,142.96 529.60,146.74 529.80,151.04 530.00,155.56 530.20,160.00 530.40,165.31 530.60,171.40 530.80,176.42 531.00,178.50 531.20,175.13 531.40,166.85 531.60,156.41 531.80,146.54 532.00,140.00 532.20,136.10 532.40,132.35 532.60,128.83 532.80,125.59 533.00,122.69 533.20,120.19 533.40,118.14 533.60,116.60 533.80,115.63 534.00,115.30 534.20,115.54 534.40,116.21 534.60,117.30 534.80,118.74 535.00,120.51 535.20,122.56 535.40,124.85 535.60,127.35 535.80,130.00 536.00,132.78 536.20,135.64 536.40,138.55 536.60,141.56 536.80,145.28 537.00,149.77 537.20,155.00 537.40,163.57 537.60,173.65 537.80,178.50 538.00,175.13 538.20,166.84 538.40,156.39 538.60,146.53 538.80,140.00 539.00,136.12 539.20,132.38 539.40,128.82 539.60,125.47 539.80,122.37 540.00,119.54 540.20,117.02 540.40,114.84 540.60,113.04 540.80,111.63 541.00,110.66 541.20,110.16 541.40,108.07 541.60,108.14 541.80,108.32 542.00,108.61 542.20,109.00 542.40,109.57 542.60,110.46 542.80,111.52 543.00,112.85 543.20,114.46 543.40,116.32 543.60,118.80 543.80,122.04 544.00,126.37 544.20,131.53 544.40,138.75 544.60,151.34 544.80,157.33 545.00,139.70 545.20,130.52 545.40,124.36 545.60,119.80 545.80,115.96 546.00,113.06 546.20,110.72 546.40,108.76 546.60,107.31 546.80,106.18 547.00,105.25 547.20,104.54 547.40,104.09 547.60,103.87 547.80,103.83 548.00,103.98 548.20,104.27 548.40,104.70 548.60,105.32 548.80,106.11 549.00,107.03 549.20,108.05 549.40,109.22 549.60,110.88 549.80,112.94 550.00,115.72 550.20,119.59 550.40,125.00 550.60,132.51 550.80,144.90 551.00,162.28 551.20,139.34 551.40,128.68 551.60,122.27 551.80,117.56 552.00,114.27 552.20,111.57 552.40,109.20 552.60,107.26 552.80,105.64 553.00,104.35 553.20,103.18 553.40,102.25 553.60,101.50 553.80,100.76 554.00,100.17 554.20,99.78 554.40,99.51 554.60,99.36 554.80,99.37 555.00,99.53 555.20,99.90 555.40,100.51 555.60,101.26 555.80,102.25 556.00,103.66 556.20,105.44 556.40,107.40 556.60,110.12 556.80,113.37 557.00,117.97 557.20,124.47 557.40,135.05 557.60,154.18 557.80,148.13 558.00,132.23 558.20,122.27 558.40,116.39 558.60,112.17 558.80,108.93 559.00,106.36 559.20,104.15 559.40,102.32 559.60,100.83 559.80,99.49 560.00,98.37 560.20,97.33 560.40,96.48 560.60,95.85 560.80,95.44 561.00,95.24 561.20,95.25 561.40,95.54 561.60,96.10 561.80,96.90 562.00,97.97 562.20,99.37 562.40,101.44 562.60,104.26 562.80,108.24 563.00,112.99 563.20,119.71 563.40,129.69 563.60,150.52 563.80,146.07 564.00,128.90 564.20,119.91 564.40,114.37 564.60,110.58 564.80,107.19 565.00,104.31 565.20,101.72 565.40,99.39 565.60,97.29 565.80,95.65 566.00,94.40 566.20,93.34 566.40,92.60 566.60,92.25 566.80,92.33 567.00,92.81 567.20,93.58 567.40,94.82 567.60,96.51 567.80,98.69 568.00,101.21 568.20,104.34 568.40,107.90 568.60,112.46 568.80,118.77 569.00,129.97 569.20,151.18 569.40,145.19 569.60,128.77 569.80,119.69 570.00,113.28 570.20,108.04 570.40,103.79 570.60,100.43 570.80,97.98 571.00,95.92 571.20,94.29 571.40,92.92 571.60,91.76 571.80,90.94 572.00,90.41 572.20,90.08 572.40,89.94 572.60,89.99 572.80,90.21 573.00,90.68 573.20,91.44 573.40,92.54 573.60,94.20 573.80,96.18 574.00,98.93 574.20,102.44 574.40,106.84 574.60,113.12 574.80,122.96 575.00,141.43 575.20,147.02 575.40,125.32 575.60,113.71 575.80,106.45 576.00,100.94 576.20,96.92 576.40,93.69 576.60,91.26 576.80,89.43 577.00,88.24 577.20,87.63 577.40,87.50 577.60,87.87 577.80,88.73 578.00,90.19 578.20,92.10 578.40,94.75 578.60,97.80 578.80,101.97 579.00,107.50 579.20,114.80 579.40,125.04 579.60,143.28 579.80,145.43 580.00,124.74 580.20,114.75 580.40,107.55 580.60,102.13 580.80,97.81 581.00,94.30 581.20,91.54 581.40,89.46 581.60,87.89 581.80,86.92 582.00,86.30 582.20,86.04 582.40,86.11 582.60,86.50 582.80,87.16 583.00,88.17 583.20,89.63 583.40,91.45 583.60,94.02 583.80,97.18 584.00,101.21 584.20,105.92 584.40,112.14 584.60,120.29 584.80,132.88 585.00,161.46 585.20,133.42 585.40,119.38 585.60,111.64 585.80,105.93 586.00,101.38 586.20,97.97 586.40,94.79 586.60,92.33 586.80,90.44 587.00,89.08 587.20,88.11 587.40,87.30 587.60,86.82 587.80,86.58 588.00,86.60 588.20,86.90 588.40,87.46 588.60,88.40 588.80,89.69 589.00,91.58 589.20,94.08 589.40,97.37 589.60,101.33 589.80,106.31 590.00,114.79 590.20,129.87 590.40,148.70 590.60,121.02 590.80,110.00 591.00,102.37 591.20,96.98 591.40,92.87 591.60,89.90 591.80,87.96 592.00,86.73 592.20,86.06 592.40,86.00 592.60,86.56 592.80,87.55 593.00,89.08 593.20,91.22 593.40,94.28 593.60,98.50 593.80,105.28 594.00,115.54 594.20,136.92 594.40,133.35 594.60,112.89 594.80,102.12 595.00,95.13 595.20,90.23 595.40,86.86 595.60,84.68 595.80,83.32 596.00,82.73 596.20,82.97 596.40,84.00 596.60,85.93 596.80,89.02 597.00,92.89 597.20,98.40 597.40,107.26 597.60,121.43 597.80,160.30 598.00,122.97 598.20,107.63 598.40,98.36 598.60,92.69 598.80,88.18 599.00,84.62 599.20,82.26 599.40,80.45 599.60,79.47 599.80,79.17 600.00,79.58 600.20,80.58 600.40,82.34 600.60,85.10 600.80,88.37 601.00,92.66 601.20,97.93 601.40,104.92 601.60,113.11 601.80,124.91 602.00,160.40 602.20,124.82 602.40,109.38 602.60,98.90 602.80,91.45 603.00,86.48 603.20,82.86 603.40,79.91 603.60,77.68 603.80,76.32 604.00,75.70 604.20,75.82 604.40,76.58 604.60,77.99 604.80,80.27 605.00,83.56 605.20,87.76 605.40,93.05 605.60,99.75 605.80,108.42 606.00,124.07 606.20,155.35 606.40,116.78 606.60,101.38 606.80,91.89 607.00,84.80 607.20,79.77 607.40,76.31 607.60,74.02 607.80,73.08 608.00,73.16 608.20,73.96 608.40,75.37 608.60,77.83 608.80,81.09 609.00,85.15 609.20,91.55 609.40,99.71 609.60,113.58 609.80,152.57 610.00,110.62 610.20,95.55 610.40,87.17 610.60,81.16 610.80,77.04 611.00,74.46 611.20,72.91 611.40,72.53 611.60,73.37 611.80,75.32 612.00,78.75 612.20,83.92 612.40,91.57 612.60,104.85 612.80,138.88 613.00,117.47 613.20,99.83 613.40,90.73 613.60,84.47 613.80,79.81 614.00,76.55 614.20,74.44 614.40,73.20 614.60,72.59 614.80,72.56 615.00,73.09 615.20,74.50 615.40,77.04 615.60,80.68 615.80,85.90 616.00,94.70 616.20,111.26 616.40,161.97 616.60,110.73 616.80,94.61 617.00,85.49 617.20,79.81 617.40,76.11 617.60,73.87 617.80,73.10 618.00,73.67 618.20,75.68 618.40,79.10 618.60,84.64 618.80,93.35 619.00,109.14 619.20,162.00 619.40,112.18 619.60,96.77 619.80,88.35 620.00,82.24 620.20,77.75 620.40,75.08 620.60,73.81 620.80,73.51 621.00,74.20 621.20,76.09 621.40,79.29 621.60,84.93 621.80,93.94 622.00,110.77 622.20,146.93 622.40,102.29 622.60,87.63 622.80,79.93 623.00,75.73 623.20,73.64 623.40,73.70 623.60,75.85 623.80,79.87 624.00,86.65 624.20,98.24 624.40,122.58 624.60,121.95 624.80,97.30 625.00,86.17 625.20,79.73 625.40,76.10 625.60,73.82 625.80,73.28 626.00,74.42 626.20,77.40 626.40,82.68 626.60,91.63 626.80,106.80 627.00,151.57 627.20,109.46 627.40,94.20 627.60,86.10 627.80,80.67 628.00,76.91 628.20,74.60 628.40,73.21 628.60,72.64 628.80,72.88 629.00,73.89 629.20,75.77 629.40,79.00 629.60,83.73 629.80,90.14 630.00,100.64 630.20,120.44 630.40,128.58 630.60,102.11 630.80,87.72 631.00,78.80 631.20,73.21 631.40,69.50 631.60,67.14 631.80,66.40 632.00,67.53 632.20,70.82 632.40,76.89 632.60,87.40 632.80,109.40 633.00,117.97 633.20,87.87 633.40,75.75 633.60,68.96 633.80,65.13 634.00,63.12 634.20,63.25 634.40,65.81 634.60,71.51 634.80,80.40 635.00,96.57 635.20,152.42 635.40,96.51 635.60,79.19 635.80,70.77 636.00,65.92 636.20,62.55 636.40,60.52 636.60,59.38 636.80,59.61 637.00,61.14 637.20,64.07 637.40,68.73 637.60,76.77 637.80,89.50 638.00,115.83 638.20,108.97 638.40,85.75 638.60,73.99 638.80,65.89 639.00,60.04 639.20,56.77 639.40,55.78 639.60,57.40 639.80,62.71 640.00,74.17 640.20,100.45 640.40,97.23 640.60,72.39 640.80,61.45 641.00,55.97 641.20,53.65 641.40,53.93 641.60,56.89 641.80,63.15 642.00,75.73 642.20,107.44 642.40,91.88 642.60,71.12 642.80,60.75 643.00,54.88 643.20,51.73 643.40,51.12 643.60,52.63 643.80,56.56 644.00,63.99 644.20,77.08 644.40,107.00 644.60,96.13 644.80,72.60 645.00,61.82 645.20,55.18 645.40,51.24 645.60,49.01 645.80,48.47 646.00,49.90 646.20,53.91 646.40,61.64 646.60,74.72 646.80,104.83 647.00,92.24 647.20,68.34 647.40,57.16 647.60,51.31 647.80,47.70 648.00,46.04 648.20,46.41 648.40,49.07 648.60,54.85 648.80,66.24 649.00,88.97 649.20,96.49 649.40,66.68 649.60,53.91 649.80,47.45 650.00,44.24 650.20,43.59 650.40,45.45 650.60,49.80 650.80,58.31 651.00,72.48 651.20,104.60 651.40,86.38 651.60,64.50 651.80,53.33 652.00,46.37 652.20,42.72 652.40,41.02 652.60,41.41 652.80,44.60 653.00,51.29 653.20,60.66 653.40,75.99 653.60,132.24 653.80,79.87 654.00,61.97 654.20,51.61 654.40,45.95 654.60,42.30 654.80,39.64 655.00,38.62 655.20,40.11 655.40,44.13 655.60,52.12 655.80,67.13 656.00,115.57 656.20,67.32 656.40,50.20 656.60,42.56 656.80,38.67 657.00,37.28 657.20,38.37 657.40,42.55 657.60,50.87 657.80,65.25 658.00,100.46 658.20,79.40 658.40,55.86 658.60,44.71 658.80,38.73 659.00,36.29 659.20,36.70 659.40,40.40 659.60,48.47 659.80,63.82 660.00,119.80 660.20,65.18 660.40,47.95 660.60,39.95 660.80,36.27 661.00,35.31 661.20,36.42 661.40,40.13 661.60,46.81 661.80,59.91 662.00,95.13 662.20,73.38 662.40,54.49 662.60,44.33 662.80,38.25 663.00,35.43 663.20,34.81 663.40,36.72 663.60,41.61 663.80,51.05 664.00,74.92 664.20,74.80 664.40,50.08 664.60,39.91 664.80,35.20 665.00,34.79 665.20,37.37 665.40,43.37 665.60,54.04 665.80,73.06 666.00,104.70 666.20,63.09 666.40,48.99 666.60,41.41 666.80,36.83 667.00,34.38 667.20,34.68 667.40,38.04 667.60,45.63 667.80,61.02 668.00,111.23 668.20,59.08 668.40,43.71 668.60,36.76 668.80,33.99 669.00,34.18 669.20,36.76 669.40,42.48 669.60,53.74 669.80,77.42 670.00,76.78 670.20,53.31 670.40,42.96 670.60,37.44 670.80,34.11 671.00,32.83 671.20,33.26 671.40,35.20 671.60,38.88 671.80,45.07 672.00,56.55 672.20,90.95 672.40,62.20 672.60,44.91 672.80,36.54 673.00,32.60 673.20,31.56 673.40,32.87 673.60,36.52 673.80,42.99 674.00,55.27 674.20,86.96 674.40,67.83 674.60,48.46 674.80,38.62 675.00,32.93 675.20,30.23 675.40,30.71 675.60,35.34 675.80,46.03 676.00,78.15 676.20,58.33 676.40,39.28 676.60,30.79 676.80,28.59 677.00,31.95 677.20,42.32 677.40,64.63 677.60,75.09 677.80,46.89 678.00,35.28 678.20,29.23 678.40,26.84 678.60,26.99 678.80,29.57"/>
<polyline stroke="#0000ff" stroke-width="1.7" stroke-dasharray="4.5 3.7" points="46.00,36.78 46.20,36.87 46.40,36.95 46.60,37.03 46.80,37.12 47.00,37.20 47.20,37.29 47.40,37.37 47.60,37.46 47.80,37.54 48.00,37.63 48.20,37.71 48.40,37.80 48.60,37.88 48.80,37.97 49.00,38.05 49.20,38.13 49.40,38.22 49.60,38.30 49.80,38.39 50.00,38.47 50.20,38.56 50.40,38.64 50.60,38.73 50.80,38.81 51.00,38.90 51.20,38.98 51.40,39.07 51.60,39.15 51.80,39.24 52.00,39.32 52.20,39.41 52.40,39.49 52.60,39.58 52.80,39.66 53.00,39.75 53.20,39.83 53.40,39.92 53.60,40.00 53.80,40.09 54.00,40.17 54.20,40.26 54.40,40.34 54.60,40.43 54.80,40.51 55.00,40.60 55.20,40.68 55.40,40.77 55.60,40.85 55.80,40.94 56.00,41.02 56.20,41.11 56.40,41.19 56.60,41.28 56.80,41.36 57.00,41.45 57.20,41.53 57.40,41.62 57.60,41.70 57.80,41.79 58.00,41.87 58.20,41.96 58.40,42.04 58.60,42.13 58.80,42.21 59.00,42.30 59.20,42.38 59.40,42.47 59.60,42.55 59.80,42.64 60.00,42.72 60.20,42.81 60.40,42.89 60.60,42.98 60.80,43.07 61.00,43.15 61.20,43.24 61.40,43.32 61.60,43.41 61.80,43.49 62.00,43.58 62.20,43.66 62.40,43.75 62.60,43.83 62.80,43.92 63.00,44.00 63.20,44.09 63.40,44.18 63.60,44.26 63.80,44.35 64.00,44.43 64.20,44.52 64.40,44.60 64.60,44.69 64.80,44.77 65.00,44.86 65.20,44.95 65.40,45.03 65.60,45.12 65.80,45.20 66.00,45.29 66.20,45.37 66.40,45.46 66.60,45.54 66.80,45.63 67.00,45.72 67.20,45.80 67.40,45.89 67.60,45.97 67.80,46.06 68.00,46.15 68.20,46.23 68.40,46.32 68.60,46.40 68.80,46.49 69.00,46.57 69.20,46.66 69.40,46.75 69.60,46.83 69.80,46.92 70.00,47.00 70.20,47.09 70.40,47.18 70.60,47.26 70.80,47.35 71.00,47.43 71.20,47.52 71.40,47.61 71.60,47.69 71.80,47.78 72.00,47.86 72.20,47.95 72.40,48.04 72.60,48.12 72.80,48.21 73.00,48.30 73.20,48.38 73.40,48.47 73.60,48.55 73.80,48.64 74.00,48.73 74.20,48.81 74.40,48.90 74.60,48.99 74.80,49.07 75.00,49.16 75.20,49.24 75.40,49.33 75.60,49.42 75.80,49.50 76.00,49.59 76.20,49.68 76.40,49.76 76.60,49.85 76.80,49.94 77.00,50.02 77.20,50.11 77.40,50.20 77.60,50.28 77.80,50.37 78.00,50.46 78.20,50.54 78.40,50.63 78.60,50.72 78.80,50.80 79.00,50.89 79.20,50.98 79.40,51.06 79.60,51.15 79.80,51.24 80.00,51.32 80.20,51.41 80.40,51.50 80.60,51.58 80.80,51.67 81.00,51.76 81.20,51.85 81.40,51.93 81.60,52.02 81.80,52.11 82.00,52.19 82.20,52.28 82.40,52.37 82.60,52.46 82.80,52.54 83.00,52.63 83.20,52.72 83.40,52.80 83.60,52.89 83.80,52.98 84.00,53.07 84.20,53.15 84.40,53.24 84.60,53.33 84.80,53.42 85.00,53.50 85.20,53.59 85.40,53.68 85.60,53.77 85.80,53.85 86.00,53.94 86.20,54.03 86.40,54.12 86.60,54.20 86.80,54.29 87.00,54.38 87.20,54.47 87.40,54.55 87.60,54.64 87.80,54.73 88.00,54.82 88.20,54.91 88.40,54.99 88.60,55.08 88.80,55.17 89.00,55.26 89.20,55.34 89.40,55.43 89.60,55.52 89.80,55.61 90.00,55.70 90.20,55.79 90.40,55.87 90.60,55.96 90.80,56.05 91.00,56.14 91.20,56.23 91.40,56.31 91.60,56.40 91.80,56.49 92.00,56.58 92.20,56.67 92.40,56.76 92.60,56.84 92.80,56.93 93.00,57.02 93.20,57.11 93.40,57.20 93.60,57.29 93.80,57.38 94.00,57.47 94.20,57.55 94.40,57.64 94.60,57.73 94.80,57.82 95.00,57.91 95.20,58.00 95.40,58.09 95.60,58.18 95.80,58.26 96.00,58.35 96.20,58.44 96.40,58.53 96.60,58.62 96.80,58.71 97.00,58.80 97.20,58.89 97.40,58.98 97.60,59.07 97.80,59.16 98.00,59.25 98.20,59.34 98.40,59.42 98.60,59.51 98.80,59.60 99.00,59.69 99.20,59.78 99.40,59.87 99.60,59.96 99.80,60.05 100.00,60.14 100.20,60.23 100.40,60.32 100.60,60.41 100.80,60.50 101.00,60.59 101.20,60.68 101.40,60.77 101.60,60.86 101.80,60.95 102.00,61.04 102.20,61.13 102.40,61.22 102.60,61.31 102.80,61.40 103.00,61.49 103.20,61.58 103.40,61.67 103.60,61.76 103.80,61.85 104.00,61.95 104.20,62.04 104.40,62.13 104.60,62.22 104.80,62.31 105.00,62.40 105.20,62.49 105.40,62.58 105.60,62.67 105.80,62.76 106.00,62.85 106.20,62.94 106.40,63.04 106.60,63.13 106.80,63.22 107.00,63.31 107.20,63.40 107.40,63.49 107.60,63.58 107.80,63.67 108.00,63.77 108.20,63.86 108.40,63.95 108.60,64.04 108.80,64.13 109.00,64.22 109.20,64.32 109.40,64.41 109.60,64.50 109.80,64.59 110.00,64.68 110.20,64.78 110.40,64.87 110.60,64.96 110.80,65.05 111.00,65.14 111.20,65.24 111.40,65.33 111.60,65.42 111.80,65.51 112.00,65.61 112.20,65.70 112.40,65.79 112.60,65.88 112.80,65.98 113.00,66.07 113.20,66.16 113.40,66.26 113.60,66.35 113.80,66.44 114.00,66.54 114.20,66.63 114.40,66.72 114.60,66.82 114.80,66.91 115.00,67.00 115.20,67.10 115.40,67.19 115.60,67.28 115.80,67.38 116.00,67.47 116.20,67.56 116.40,67.66 116.60,67.75 116.80,67.85 117.00,67.94 117.20,68.03 117.40,68.13 117.60,68.22 117.80,68.32 118.00,68.41 118.20,68.51 118.40,68.60 118.60,68.69 118.80,68.79 119.00,68.88 119.20,68.98 119.40,69.07 119.60,69.17 119.80,69.26 120.00,69.36 120.20,69.45 120.40,69.55 120.60,69.64 120.80,69.74 121.00,69.84 121.20,69.93 121.40,70.03 121.60,70.12 121.80,70.22 122.00,70.31 122.20,70.41 122.40,70.51 122.60,70.60 122.80,70.70 123.00,70.79 123.20,70.89 123.40,70.99 123.60,71.08 123.80,71.18 124.00,71.28 124.20,71.37 124.40,71.47 124.60,71.57 124.80,71.66 125.00,71.76 125.20,71.86 125.40,71.96 125.60,72.05 125.80,72.15 126.00,72.25 126.20,72.35 126.40,72.44 126.60,72.54 126.80,72.64 127.00,72.74 127.20,72.84 127.40,72.93 127.60,73.03 127.80,73.13 128.00,73.23 128.20,73.33 128.40,73.43 128.60,73.52 128.80,73.62 129.00,73.72 129.20,73.82 129.40,73.92 129.60,74.02 129.80,74.12 130.00,74.22 130.20,74.32 130.40,74.42 130.60,74.52 130.80,74.62 131.00,74.72 131.20,74.82 131.40,74.92 131.60,75.02 131.80,75.12 132.00,75.22 132.20,75.32 132.40,75.42 132.60,75.52 132.80,75.62 133.00,75.72 133.20,75.82 133.40,75.93 133.60,76.03 133.80,76.13 134.00,76.23 134.20,76.33 134.40,76.43 134.60,76.54 134.80,76.64 135.00,76.74 135.20,76.84 135.40,76.94 135.60,77.05 135.80,77.15 136.00,77.25 136.20,77.36 136.40,77.46 136.60,77.56 136.80,77.67 137.00,77.77 137.20,77.87 137.40,77.98 137.60,78.08 137.80,78.18 138.00,78.29 138.20,78.39 138.40,78.50 138.60,78.60 138.80,78.71 139.00,78.81 139.20,78.92 139.40,79.02 139.60,79.13 139.80,79.23 140.00,79.34 140.20,79.44 140.40,79.55 140.60,79.66 140.80,79.76 141.00,79.87 141.20,79.98 141.40,80.08 141.60,80.19 141.80,80.30 142.00,80.40 142.20,80.51 142.40,80.62 142.60,80.73 142.80,80.83 143.00,80.94 143.20,81.05 143.40,81.16 143.60,81.27 143.80,81.38 144.00,81.48 144.20,81.59 144.40,81.70 144.60,81.81 144.80,81.92 145.00,82.03 145.20,82.14 145.40,82.25 145.60,82.36 145.80,82.47 146.00,82.58 146.20,82.69 146.40,82.80 146.60,82.92 146.80,83.03 147.00,83.14 147.20,83.25 147.40,83.36 147.60,83.48 147.80,83.59 148.00,83.70 148.20,83.81 148.40,83.93 148.60,84.04 148.80,84.15 149.00,84.27 149.20,84.38 149.40,84.49 149.60,84.61 149.80,84.72 150.00,84.84 150.20,84.95 150.40,85.07 150.60,85.18 150.80,85.30 151.00,85.42 151.20,85.53 151.40,85.65 151.60,85.77 151.80,85.88 152.00,86.00 152.20,86.12 152.40,86.23 152.60,86.35 152.80,86.47 153.00,86.59 153.20,86.71 153.40,86.83 153.60,86.95 153.80,87.06 154.00,87.18 154.20,87.30 154.40,87.42 154.60,87.54 154.80,87.67 155.00,87.79 155.20,87.91 155.40,88.03 155.60,88.15 155.80,88.27 156.00,88.40 156.20,88.52 156.40,88.64 156.60,88.77 156.80,88.89 157.00,89.01 157.20,89.14 157.40,89.26 157.60,89.39 157.80,89.51 158.00,89.64 158.20,89.76 158.40,89.89 158.60,90.02 158.80,90.14 159.00,90.27 159.20,90.40 159.40,90.53 159.60,90.65 159.80,90.78 160.00,90.91 160.20,91.04 160.40,91.17 160.60,91.30 160.80,91.43 161.00,91.56 161.20,91.69 161.40,91.82 161.60,91.96 161.80,92.09 162.00,92.22 162.20,92.35 162.40,92.49 162.60,92.62 162.80,92.76 163.00,92.89 163.20,93.03 163.40,93.16 163.60,93.30 163.80,93.43 164.00,93.57 164.20,93.71 164.40,93.85 164.60,93.98 164.80,94.12 165.00,94.26 165.20,94.40 165.40,94.54 165.60,94.68 165.80,94.82 166.00,94.96 166.20,95.11 166.40,95.25 166.60,95.39 166.80,95.53 167.00,95.68 167.20,95.82 167.40,95.97 167.60,96.11 167.80,96.26 168.00,96.41 168.20,96.55 168.40,96.70 168.60,96.85 168.80,97.00 169.00,97.15 169.20,97.30 169.40,97.45 169.60,97.60 169.80,97.75 170.00,97.90 170.20,98.06 170.40,98.21 170.60,98.37 170.80,98.52 171.00,98.68 171.20,98.83 171.40,98.99 171.60,99.15 171.80,99.31 172.00,99.47 172.20,99.63 172.40,99.79 172.60,99.95 172.80,100.11 173.00,100.27 173.20,100.44 173.40,100.60 173.60,100.76 173.80,100.93 174.00,101.10 174.20,101.26 174.40,101.43 174.60,101.60 174.80,101.77 175.00,101.94 175.20,102.11 175.40,102.29 175.60,102.46 175.80,102.63 176.00,102.81 176.20,102.99 176.40,103.16 176.60,103.34 176.80,103.52 177.00,103.70 177.20,103.88 177.40,104.06 177.60,104.25 177.80,104.43 178.00,104.62 178.20,104.80 178.40,104.99 178.60,105.18 178.80,105.37 179.00,105.56 179.20,105.75 179.40,105.94 179.60,106.14 179.80,106.33 180.00,106.53 180.20,106.73 180.40,106.93 180.60,107.13 180.80,107.33 181.00,107.54 181.20,107.74 181.40,107.95 181.60,108.16 181.80,108.36 182.00,108.58 182.20,108.79 182.40,109.00 182.60,109.22 182.80,109.43 183.00,109.65 183.20,109.87 183.40,110.10 183.60,110.32 183.80,110.54 184.00,110.77 184.20,111.00 184.40,111.23 184.60,111.47 184.80,111.70 185.00,111.94 185.20,112.18 185.40,112.42 185.60,112.66 185.80,112.91 186.00,113.15 186.20,113.40 186.40,113.66 186.60,113.91 186.80,114.17 187.00,114.43 187.20,114.69 187.40,114.95 187.60,115.22 187.80,115.49 188.00,115.76 188.20,116.04 188.40,116.32 188.60,116.60 188.80,116.88 189.00,117.17 189.20,117.46 189.40,117.76 189.60,118.06 189.80,118.36 190.00,118.66 190.20,118.97 190.40,119.28 190.60,119.60 190.80,119.92 191.00,120.24 191.20,120.57 191.40,120.90 191.60,121.24 191.80,121.58 192.00,121.93 192.20,122.28 192.40,122.64 192.60,123.00 192.80,123.37 193.00,123.74 193.20,124.12 193.40,124.51 193.60,124.90 193.80,125.30 194.00,125.70 194.20,126.12 194.40,126.54 194.60,126.96 194.80,127.40 195.00,127.84 195.20,128.29 195.40,128.75 195.60,129.22 195.80,129.70 196.00,130.19 196.20,130.69 196.40,131.20 196.60,131.72 196.80,132.25 197.00,132.80 197.20,133.36 197.40,133.93 197.60,134.52 197.80,135.12 198.00,135.74 198.20,136.38 198.40,137.04 198.60,137.71 198.80,138.41 199.00,139.13 199.20,139.87 199.40,140.64 199.60,141.43 199.80,142.25 200.00,143.10 200.20,143.99 200.40,144.91 200.60,145.87 200.80,146.87 201.00,147.92 201.20,149.02 201.40,150.17 201.60,151.37 201.80,152.64 202.00,153.98 202.20,155.40 202.40,156.89 202.60,158.46 202.80,160.13 203.00,161.87 203.20,163.70 203.40,165.58 203.60,167.48 203.80,169.31 204.00,170.97 204.20,172.29 204.40,173.08 204.60,173.21 204.80,172.67 205.00,171.55 205.20,170.04 205.40,168.30 205.60,166.46 205.80,164.63 206.00,162.84 206.20,161.12 206.40,159.49 206.60,157.94 206.80,156.48 207.00,155.10 207.20,153.79 207.40,152.56 207.60,151.53 207.80,150.67 208.00,149.85 208.20,149.05 208.40,148.28 208.60,147.54 208.80,146.81 209.00,146.12 209.20,145.44 209.40,144.79 209.60,144.15 209.80,143.54 210.00,142.94 210.20,142.36 210.40,141.80 210.60,141.26 210.80,140.72 211.00,140.21 211.20,139.70 211.40,139.20 211.60,138.72 211.80,138.25 212.00,137.78 212.20,137.32 212.40,136.87 212.60,136.42 212.80,135.98 213.00,135.54 213.20,135.10 213.40,134.67 213.60,134.23 213.80,133.80 214.00,133.37 214.20,132.94 214.40,132.53 214.60,132.12 214.80,131.72 215.00,131.32 215.20,130.93 215.40,130.55 215.60,130.18 215.80,129.81 216.00,129.44 216.20,129.08 216.40,128.73 216.60,128.38 216.80,128.04 217.00,127.70 217.20,127.37 217.40,127.03 217.60,126.71 217.80,126.38 218.00,126.06 218.20,125.75 218.40,125.43 218.60,125.12 218.80,124.81 219.00,124.51 219.20,124.20 219.40,123.90 219.60,123.60 219.80,123.30 220.00,123.00 220.20,122.70 220.40,122.41 220.60,122.11 220.80,121.82 221.00,121.53 221.20,121.24 221.40,120.95 221.60,120.67 221.80,120.39 222.00,120.11 222.20,119.84 222.40,119.57 222.60,119.30 222.80,119.04 223.00,118.78 223.20,118.53 223.40,118.28 223.60,118.04 223.80,117.80 224.00,117.57 224.20,117.34 224.40,117.12 224.60,116.91 224.80,116.70 225.00,116.50 225.20,116.30 225.40,116.11 225.60,115.92 225.80,115.72 226.00,115.53 226.20,115.35 226.40,115.16 226.60,114.97 226.80,114.79 227.00,114.61 227.20,114.43 227.40,114.25 227.60,114.08 227.80,113.90 228.00,113.73 228.20,113.56 228.40,113.40 228.60,113.23 228.80,113.07 229.00,112.90 229.20,112.74 229.40,112.59 229.60,112.43 229.80,112.28 230.00,112.13 230.20,111.98 230.40,111.83 230.60,111.69 230.80,111.55 231.00,111.41 231.20,111.27 231.40,111.13 231.60,111.00 231.80,110.87 232.00,110.74 232.20,110.62 232.40,110.49 232.60,110.37 232.80,110.25 233.00,110.14 233.20,110.03 233.40,109.92 233.60,109.81 233.80,109.70 234.00,109.60 234.20,109.50 234.40,109.40 234.60,109.31 234.80,109.21 235.00,109.12 235.20,109.02 235.40,108.93 235.60,108.84 235.80,108.75 236.00,108.66 236.20,108.57 236.40,108.48 236.60,108.40 236.80,108.31 237.00,108.23 237.20,108.15 237.40,108.06 237.60,107.98 237.80,107.90 238.00,107.82 238.20,107.74 238.40,107.67 238.60,107.59 238.80,107.51 239.00,107.44 239.20,107.36 239.40,107.29 239.60,107.22 239.80,107.15 240.00,107.07 240.20,107.00 240.40,106.93 240.60,106.86 240.80,106.80 241.00,106.73 241.20,106.66 241.40,106.59 241.60,106.53 241.80,106.46 242.00,106.40 242.20,106.33 242.40,106.27 242.60,106.21 242.80,106.14 243.00,106.08 243.20,106.02 243.40,105.96 243.60,105.89 243.80,105.83 244.00,105.77 244.20,105.71 244.40,105.65 244.60,105.59 244.80,105.54 245.00,105.48 245.20,105.42 245.40,105.36 245.60,105.30 245.80,105.25 246.00,105.19 246.20,105.13 246.40,105.07 246.60,105.02 246.80,104.96 247.00,104.90 247.20,104.85 247.40,104.79 247.60,104.74 247.80,104.68 248.00,104.62 248.20,104.57 248.40,104.51 248.60,104.46 248.80,104.40 249.00,104.34 249.20,104.29 249.40,104.23 249.60,104.18 249.80,104.12 250.00,104.07 250.20,104.01 250.40,103.96 250.60,103.90 250.80,103.85 251.00,103.79 251.20,103.74 251.40,103.68 251.60,103.63 251.80,103.57 252.00,103.52 252.20,103.47 252.40,103.41 252.60,103.36 252.80,103.31 253.00,103.25 253.20,103.20 253.40,103.15 253.60,103.10 253.80,103.04 254.00,102.99 254.20,102.94 254.40,102.89 254.60,102.84 254.80,102.79 255.00,102.74 255.20,102.69 255.40,102.64 255.60,102.59 255.80,102.54 256.00,102.49 256.20,102.44 256.40,102.40 256.60,102.35 256.80,102.30 257.00,102.25 257.20,102.21 257.40,102.16 257.60,102.12 257.80,102.07 258.00,102.03 258.20,101.98 258.40,101.94 258.60,101.89 258.80,101.85 259.00,101.81 259.20,101.77 259.40,101.73 259.60,101.68 259.80,101.64 260.00,101.60 260.20,101.56 260.40,101.52 260.60,101.48 260.80,101.45 261.00,101.41 261.20,101.37 261.40,101.34 261.60,101.30 261.80,101.26 262.00,101.23 262.20,101.19 262.40,101.16 262.60,101.13 262.80,101.09 263.00,101.06 263.20,101.03 263.40,101.00 263.60,100.97 263.80,100.94 264.00,100.91 264.20,100.88 264.40,100.84 264.60,100.81 264.80,100.78 265.00,100.75 265.20,100.72 265.40,100.69 265.60,100.65 265.80,100.62 266.00,100.59 266.20,100.56 266.40,100.53 266.60,100.50 266.80,100.46 267.00,100.43 267.20,100.40 267.40,100.37 267.60,100.34 267.80,100.31 268.00,100.28 268.20,100.25 268.40,100.22 268.60,100.19 268.80,100.16 269.00,100.13 269.20,100.10 269.40,100.08 269.60,100.05 269.80,100.02 270.00,99.99 270.20,99.97 270.40,99.94 270.60,99.92 270.80,99.89 271.00,99.87 271.20,99.84 271.40,99.82 271.60,99.80 271.80,99.78 272.00,99.75 272.20,99.73 272.40,99.71 272.60,99.70 272.80,99.68 273.00,99.66 273.20,99.64 273.40,99.63 273.60,99.61 273.80,99.60 274.00,99.58 274.20,99.57 274.40,99.56 274.60,99.55 274.80,99.54 275.00,99.53 275.20,99.52 275.40,99.52 275.60,99.51 275.80,99.51 276.00,99.50 276.20,99.50 276.40,99.50 276.60,99.50 276.80,99.50 277.00,99.51 277.20,99.52 277.40,99.53 277.60,99.55 277.80,99.57 278.00,99.59 278.20,99.61 278.40,99.64 278.60,99.67 278.80,99.70 279.00,99.73 279.20,99.77 279.40,99.81 279.60,99.85 279.80,99.90 280.00,99.94 280.20,99.99 280.40,100.04 280.60,100.09 280.80,100.14 281.00,100.20 281.20,100.26 281.40,100.32 281.60,100.38 281.80,100.44 282.00,100.50 282.20,100.57 282.40,100.65 282.60,100.75 282.80,100.86 283.00,100.98 283.20,101.12 283.40,101.27 283.60,101.43 283.80,101.61 284.00,101.80 284.20,102.01 284.40,102.23 284.60,102.47 284.80,102.73 285.00,103.00 285.20,103.36 285.40,103.86 285.60,104.49 285.80,105.25 286.00,106.11 286.20,107.05 286.40,108.08 286.60,109.17 286.80,110.30 287.00,111.48 287.20,112.67 287.40,113.87 287.60,115.07 287.80,116.24 288.00,117.38 288.20,118.48 288.40,119.51 288.60,120.50 288.80,121.58 289.00,122.75 289.20,123.99 289.40,125.24 289.60,126.50 289.80,127.71 290.00,128.84 290.20,129.87 290.40,130.77 290.60,131.48 290.80,131.99 291.00,132.26 291.20,132.24 291.40,131.78 291.60,130.95 291.80,129.83 292.00,128.51 292.20,127.08 292.40,125.63 292.60,124.24 292.80,123.00 293.00,122.00 293.20,121.16 293.40,120.35 293.60,119.56 293.80,118.80 294.00,118.06 294.20,117.35 294.40,116.67 294.60,116.02 294.80,115.39 295.00,114.78 295.20,114.21 295.40,113.66 295.60,113.14 295.80,112.63 296.00,112.13 296.20,111.63 296.40,111.14 296.60,110.66 296.80,110.20 297.00,109.74 297.20,109.29 297.40,108.85 297.60,108.43 297.80,108.02 298.00,107.62 298.20,107.24 298.40,106.87 298.60,106.51 298.80,106.17 299.00,105.85 299.20,105.54 299.40,105.25 299.60,104.97 299.80,104.72 300.00,104.48 300.20,104.25 300.40,104.02 300.60,103.79 300.80,103.56 301.00,103.34 301.20,103.13 301.40,102.91 301.60,102.71 301.80,102.51 302.00,102.31 302.20,102.12 302.40,101.94 302.60,101.76 302.80,101.60 303.00,101.44 303.20,101.29 303.40,101.15 303.60,101.01 303.80,100.89 304.00,100.78 304.20,100.68 304.40,100.59 304.60,100.52 304.80,100.45 305.00,100.40 305.20,100.35 305.40,100.31 305.60,100.27 305.80,100.22 306.00,100.18 306.20,100.14 306.40,100.10 306.60,100.06 306.80,100.02 307.00,99.98 307.20,99.95 307.40,99.91 307.60,99.87 307.80,99.84 308.00,99.81 308.20,99.77 308.40,99.74 308.60,99.71 308.80,99.68 309.00,99.65 309.20,99.62 309.40,99.59 309.60,99.57 309.80,99.54 310.00,99.52 310.20,99.49 310.40,99.47 310.60,99.45 310.80,99.42 311.00,99.40 311.20,99.38 311.40,99.37 311.60,99.35 311.80,99.33 312.00,99.32 312.20,99.30 312.40,99.29 312.60,99.27 312.80,99.26 313.00,99.25 313.20,99.24 313.40,99.23 313.60,99.23 313.80,99.22 314.00,99.21 314.20,99.21 314.40,99.20 314.60,99.20 314.80,99.20 315.00,99.20 315.20,99.20 315.40,99.20 315.60,99.20 315.80,99.20 316.00,99.20 316.20,99.20 316.40,99.20 316.60,99.20 316.80,99.21 317.00,99.21 317.20,99.21 317.40,99.21 317.60,99.21 317.80,99.21 318.00,99.21 318.20,99.22 318.40,99.22 318.60,99.22 318.80,99.22 319.00,99.22 319.20,99.23 319.40,99.23 319.60,99.23 319.80,99.23 320.00,99.24 320.20,99.24 320.40,99.24 320.60,99.25 320.80,99.25 321.00,99.25 321.20,99.26 321.40,99.26 321.60,99.26 321.80,99.27 322.00,99.27 322.20,99.28 322.40,99.28 322.60,99.28 322.80,99.29 323.00,99.29 323.20,99.30 323.40,99.30 323.60,99.31 323.80,99.31 324.00,99.32 324.20,99.32 324.40,99.33 324.60,99.33 324.80,99.34 325.00,99.34 325.20,99.35 325.40,99.35 325.60,99.36 325.80,99.36 326.00,99.37 326.20,99.38 326.40,99.38 326.60,99.39 326.80,99.39 327.00,99.40 327.20,99.41 327.40,99.41 327.60,99.42 327.80,99.42 328.00,99.43 328.20,99.44 328.40,99.44 328.60,99.45 328.80,99.46 329.00,99.46 329.20,99.47 329.40,99.48 329.60,99.49 329.80,99.49 330.00,99.50 330.20,99.51 330.40,99.52 330.60,99.52 330.80,99.53 331.00,99.54 331.20,99.55 331.40,99.56 331.60,99.57 331.80,99.59 332.00,99.60 332.20,99.61 332.40,99.63 332.60,99.64 332.80,99.66 333.00,99.67 333.20,99.69 333.40,99.70 333.60,99.72 333.80,99.74 334.00,99.76 334.20,99.78 334.40,99.80 334.60,99.82 334.80,99.84 335.00,99.86 335.20,99.89 335.40,99.91 335.60,99.94 335.80,99.96 336.00,99.99 336.20,100.01 336.40,100.04 336.60,100.07 336.80,100.10 337.00,100.13 337.20,100.16 337.40,100.19 337.60,100.23 337.80,100.26 338.00,100.29 338.20,100.33 338.40,100.36 338.60,100.40 338.80,100.44 339.00,100.48 339.20,100.52 339.40,100.56 339.60,100.60 339.80,100.64 340.00,100.69 340.20,100.73 340.40,100.78 340.60,100.82 340.80,100.87 341.00,100.92 341.20,100.97 341.40,101.02 341.60,101.07 341.80,101.12 342.00,101.17 342.20,101.23 342.40,101.28 342.60,101.34 342.80,101.40 343.00,101.46 343.20,101.51 343.40,101.58 343.60,101.64 343.80,101.70 344.00,101.78 344.20,101.87 344.40,101.99 344.60,102.13 344.80,102.28 345.00,102.45 345.20,102.64 345.40,102.84 345.60,103.05 345.80,103.28 346.00,103.51 346.20,103.75 346.40,103.99 346.60,104.24 346.80,104.50 347.00,104.75 347.20,105.01 347.40,105.26 347.60,105.51 347.80,105.76 348.00,106.00 348.20,106.25 348.40,106.54 348.60,106.85 348.80,107.18 349.00,107.53 349.20,107.89 349.40,108.27 349.60,108.65 349.80,109.04 350.00,109.42 350.20,109.80 350.40,110.17 350.60,110.53 350.80,110.87 351.00,111.19 351.20,111.49 351.40,111.76 351.60,112.00 351.80,112.21 352.00,112.37 352.20,112.50 352.40,112.57 352.60,112.60 352.80,112.55 353.00,112.39 353.20,112.16 353.40,111.85 353.60,111.48 353.80,111.08 354.00,110.65 354.20,110.20 354.40,109.76 354.60,109.34 354.80,108.94 355.00,108.59 355.20,108.30 355.40,108.08 355.60,107.93 355.80,107.81 356.00,107.68 356.20,107.56 356.40,107.44 356.60,107.33 356.80,107.23 357.00,107.14 357.20,107.06 357.40,106.98 357.60,106.92 357.80,106.87 358.00,106.83 358.20,106.81 358.40,106.80 358.60,106.80 358.80,106.81 359.00,106.81 359.20,106.82 359.40,106.83 359.60,106.85 359.80,106.87 360.00,106.89 360.20,106.91 360.40,106.93 360.60,106.96 360.80,106.99 361.00,107.02 361.20,107.05 361.40,107.09 361.60,107.12 361.80,107.16 362.00,107.20 362.20,107.24 362.40,107.29 362.60,107.33 362.80,107.38 363.00,107.43 363.20,107.48 363.40,107.53 363.60,107.58 363.80,107.63 364.00,107.69 364.20,107.74 364.40,107.80 364.60,107.86 364.80,107.91 365.00,107.97 365.20,108.03 365.40,108.09 365.60,108.15 365.80,108.21 366.00,108.28 366.20,108.34 366.40,108.40 366.60,108.46 366.80,108.53 367.00,108.59 367.20,108.65 367.40,108.71 367.60,108.78 367.80,108.84 368.00,108.90 368.20,108.96 368.40,109.03 368.60,109.09 368.80,109.15 369.00,109.21 369.20,109.27 369.40,109.33 369.60,109.39 369.80,109.44 370.00,109.50 370.20,109.56 370.40,109.61 370.60,109.67 370.80,109.73 371.00,109.79 371.20,109.85 371.40,109.91 371.60,109.97 371.80,110.03 372.00,110.10 372.20,110.16 372.40,110.23 372.60,110.29 372.80,110.36 373.00,110.42 373.20,110.49 373.40,110.55 373.60,110.62 373.80,110.69 374.00,110.76 374.20,110.83 374.40,110.90 374.60,110.97 374.80,111.04 375.00,111.11 375.20,111.18 375.40,111.25 375.60,111.32 375.80,111.40 376.00,111.47 376.20,111.54 376.40,111.62 376.60,111.69 376.80,111.77 377.00,111.84 377.20,111.92 377.40,111.99 377.60,112.07 377.80,112.15 378.00,112.22 378.20,112.30 378.40,112.38 378.60,112.45 378.80,112.53 379.00,112.61 379.20,112.69 379.40,112.76 379.60,112.84 379.80,112.92 380.00,113.00 380.20,113.08 380.40,113.16 380.60,113.24 380.80,113.32 381.00,113.40 381.20,113.48 381.40,113.56 381.60,113.64 381.80,113.72 382.00,113.81 382.20,113.89 382.40,113.97 382.60,114.06 382.80,114.14 383.00,114.22 383.20,114.31 383.40,114.39 383.60,114.48 383.80,114.57 384.00,114.65 384.20,114.74 384.40,114.83 384.60,114.92 384.80,115.01 385.00,115.09 385.20,115.18 385.40,115.27 385.60,115.37 385.80,115.46 386.00,115.55 386.20,115.64 386.40,115.73 386.60,115.83 386.80,115.92 387.00,116.01 387.20,116.11 387.40,116.21 387.60,116.30 387.80,116.40 388.00,116.50 388.20,116.59 388.40,116.69 388.60,116.79 388.80,116.89 389.00,116.99 389.20,117.09 389.40,117.19 389.60,117.29 389.80,117.40 390.00,117.50 390.20,117.60 390.40,117.71 390.60,117.81 390.80,117.91 391.00,118.02 391.20,118.12 391.40,118.22 391.60,118.33 391.80,118.43 392.00,118.54 392.20,118.64 392.40,118.75 392.60,118.85 392.80,118.96 393.00,119.07 393.20,119.18 393.40,119.28 393.60,119.39 393.80,119.50 394.00,119.61 394.20,119.73 394.40,119.84 394.60,119.95 394.80,120.07 395.00,120.18 395.20,120.30 395.40,120.42 395.60,120.54 395.80,120.66 396.00,120.78 396.20,120.91 396.40,121.03 396.60,121.16 396.80,121.29 397.00,121.42 397.20,121.55 397.40,121.68 397.60,121.82 397.80,121.95 398.00,122.09 398.20,122.23 398.40,122.38 398.60,122.52 398.80,122.67 399.00,122.82 399.20,122.97 399.40,123.12 399.60,123.28 399.80,123.44 400.00,123.60 400.20,123.77 400.40,123.94 400.60,124.12 400.80,124.31 401.00,124.50 401.20,124.70 401.40,124.91 401.60,125.12 401.80,125.34 402.00,125.56 402.20,125.79 402.40,126.02 402.60,126.26 402.80,126.50 403.00,126.74 403.20,126.99 403.40,127.24 403.60,127.49 403.80,127.74 404.00,128.00 404.20,128.25 404.40,128.51 404.60,128.77 404.80,129.03 405.00,129.29 405.20,129.55 405.40,129.81 405.60,130.06 405.80,130.32 406.00,130.58 406.20,130.83 406.40,131.08 406.60,131.33 406.80,131.58 407.00,131.82 407.20,132.06 407.40,132.30 407.60,132.53 407.80,132.76 408.00,132.98 408.20,133.20 408.40,133.41 408.60,133.62 408.80,133.83 409.00,134.03 409.20,134.23 409.40,134.43 409.60,134.62 409.80,134.81 410.00,135.00 410.20,135.19 410.40,135.37 410.60,135.56 410.80,135.74 411.00,135.92 411.20,136.10 411.40,136.28 411.60,136.46 411.80,136.64 412.00,136.82 412.20,137.00 412.40,137.18 412.60,137.37 412.80,137.55 413.00,137.73 413.20,137.92 413.40,138.11 413.60,138.30 413.80,138.50 414.00,138.69 414.20,138.90 414.40,139.10 414.60,139.31 414.80,139.52 415.00,139.73 415.20,139.95 415.40,140.17 415.60,140.40 415.80,140.64 416.00,140.88 416.20,141.12 416.40,141.37 416.60,141.63 416.80,141.89 417.00,142.15 417.20,142.42 417.40,142.69 417.60,142.97 417.80,143.24 418.00,143.53 418.20,143.82 418.40,144.11 418.60,144.41 418.80,144.71 419.00,145.02 419.20,145.34 419.40,145.66 419.60,145.99 419.80,146.33 420.00,146.67 420.20,147.02 420.40,147.37 420.60,147.74 420.80,148.11 421.00,148.49 421.20,148.87 421.40,149.27 421.60,149.67 421.80,150.09 422.00,150.51 422.20,150.94 422.40,151.38 422.60,151.83 422.80,152.29 423.00,152.76 423.20,153.25 423.40,153.84 423.60,154.52 423.80,155.28 424.00,156.11 424.20,156.99 424.40,157.91 424.60,158.86 424.80,159.83 425.00,160.80 425.20,161.76 425.40,162.70 425.60,163.60 425.80,164.45 426.00,165.25 426.20,165.96 426.40,166.59 426.60,167.12 426.80,167.54 427.00,167.83 427.20,167.98 427.40,167.99 427.60,167.90 427.80,167.73 428.00,167.49 428.20,167.18 428.40,166.81 428.60,166.38 428.80,165.90 429.00,165.38 429.20,164.82 429.40,164.24 429.60,163.63 429.80,163.00 430.00,162.37 430.20,161.73 430.40,161.09 430.60,160.46 430.80,159.85 431.00,159.26 431.20,158.70 431.40,158.17 431.60,157.68 431.80,157.25 432.00,156.86 432.20,156.54 432.40,156.27 432.60,156.02 432.80,155.77 433.00,155.52 433.20,155.28 433.40,155.04 433.60,154.80 433.80,154.57 434.00,154.35 434.20,154.13 434.40,153.92 434.60,153.71 434.80,153.51 435.00,153.32 435.20,153.13 435.40,152.95 435.60,152.78 435.80,152.61 436.00,152.45 436.20,152.31 436.40,152.17 436.60,152.04 436.80,151.91 437.00,151.80 437.20,151.70 437.40,151.61 437.60,151.53 437.80,151.46 438.00,151.40 438.20,151.35 438.40,151.30 438.60,151.24 438.80,151.19 439.00,151.15 439.20,151.10 439.40,151.05 439.60,151.01 439.80,150.97 440.00,150.93 440.20,150.89 440.40,150.85 440.60,150.82 440.80,150.78 441.00,150.75 441.20,150.73 441.40,150.70 441.60,150.68 441.80,150.66 442.00,150.64 442.20,150.63 442.40,150.61 442.60,150.61 442.80,150.60 443.00,150.60 443.20,150.61 443.40,150.63 443.60,150.67 443.80,150.72 444.00,150.78 444.20,150.86 444.40,150.94 444.60,151.04 444.80,151.15 445.00,151.27 445.20,151.40 445.40,151.54 445.60,151.69 445.80,151.84 446.00,152.00 446.20,152.17 446.40,152.35 446.60,152.53 446.80,152.71 447.00,152.90 447.20,153.10 447.40,153.29 447.60,153.49 447.80,153.69 448.00,153.89 448.20,154.10 448.40,154.30 448.60,154.51 448.80,154.71 449.00,154.91 449.20,155.11 449.40,155.31 449.60,155.50 449.80,155.70 450.00,155.90 450.20,156.12 450.40,156.35 450.60,156.58 450.80,156.82 451.00,157.07 451.20,157.32 451.40,157.59 451.60,157.85 451.80,158.13 452.00,158.40 452.20,158.69 452.40,158.97 452.60,159.26 452.80,159.55 453.00,159.85 453.20,160.15 453.40,160.44 453.60,160.74 453.80,161.04 454.00,161.34 454.20,161.64 454.40,161.93 454.60,162.23 454.80,162.52 455.00,162.81 455.20,163.10 455.40,163.38 455.60,163.66 455.80,163.94 456.00,164.21 456.20,164.47 456.40,164.73 456.60,164.99 456.80,165.24 457.00,165.50 457.20,165.75 457.40,166.01 457.60,166.27 457.80,166.52 458.00,166.77 458.20,167.03 458.40,167.28 458.60,167.53 458.80,167.78 459.00,168.03 459.20,168.28 459.40,168.53 459.60,168.78 459.80,169.03 460.00,169.28 460.20,169.53 460.40,169.77 460.60,170.02 460.80,170.26 461.00,170.50 461.20,170.75 461.40,170.99 461.60,171.23 461.80,171.47 462.00,171.71 462.20,171.94 462.40,172.18 462.60,172.42 462.80,172.65 463.00,172.88 463.20,173.12 463.40,173.35 463.60,173.58 463.80,173.81 464.00,174.04 464.20,174.26 464.40,174.49 464.60,174.71 464.80,174.95 465.00,175.18 465.20,175.42 465.40,175.64 465.60,175.85 465.80,176.04 466.00,176.20 466.20,176.34 466.40,176.49 466.60,176.62 466.80,176.76 467.00,176.88 467.20,177.01 467.40,177.13 467.60,177.25 467.80,177.36 468.00,177.47 468.20,177.57 468.40,177.67 468.60,177.76 468.80,177.85 469.00,177.93 469.20,178.01 469.40,178.09 469.60,178.15 469.80,178.22 470.00,178.27 470.20,178.32 470.40,178.37 470.60,178.41 470.80,178.45 471.00,178.49 471.20,178.52 471.40,178.55 471.60,178.57 471.80,178.60 472.00,178.62 472.20,178.65 472.40,178.67 472.60,178.70 472.80,178.73 473.00,178.76 473.20,178.79 473.40,178.82 473.60,178.86 473.80,178.90 474.00,178.95 474.20,179.00 474.40,179.06 474.60,179.12 474.80,179.19 475.00,179.27 475.20,179.36 475.40,179.45 475.60,179.55 475.80,179.66 476.00,179.77 476.20,179.90 476.40,180.03 476.60,180.17 476.80,180.32 477.00,180.48 477.20,180.64 477.40,180.82 477.60,181.00 477.80,181.19 478.00,181.40 478.20,181.64 478.40,181.90 478.60,182.21 478.80,182.56 479.00,182.98 479.20,183.46 479.40,184.01 479.60,184.65 479.80,185.66 480.00,188.48 480.20,192.62 480.40,197.25 480.60,201.57 480.80,204.76 481.00,206.00 481.20,204.98 481.40,202.37 481.60,198.88 481.80,195.19 482.00,192.00 482.20,190.00 482.40,189.01 482.60,188.28 482.80,187.65 483.00,186.93 483.20,185.99 483.40,184.75 483.60,183.31 483.80,181.72 484.00,180.08 484.20,178.45 484.40,176.93 484.60,175.58 484.80,174.49 485.00,173.73 485.20,173.33 485.40,173.00 485.60,172.69 485.80,172.41 486.00,172.16 486.20,171.94 486.40,171.75 486.60,171.60 486.80,171.49 487.00,171.42 487.20,171.40 487.40,171.43 487.60,171.53 487.80,171.69 488.00,171.91 488.20,172.18 488.40,172.50 488.60,172.87 488.80,173.28 489.00,173.72 489.20,174.20 489.40,174.84 489.60,175.77 489.80,177.00 490.00,178.54 490.20,180.38 490.40,182.53 490.60,185.00 490.80,190.50 491.00,198.70 491.20,205.00 491.40,205.60 491.60,202.85 491.80,198.53 492.00,193.84 492.20,190.00 492.40,186.88 492.60,183.63 492.80,180.37 493.00,177.21 493.20,174.28 493.40,171.70 493.60,169.60 493.80,168.09 494.00,167.30 494.20,166.92 494.40,166.57 494.60,166.25 494.80,165.95 495.00,165.68 495.20,165.45 495.40,165.24 495.60,165.06 495.80,164.91 496.00,164.79 496.20,164.70 496.40,164.63 496.60,164.60 496.80,164.61 497.00,164.73 497.20,164.96 497.40,165.29 497.60,165.72 497.80,166.24 498.00,166.84 498.20,167.53 498.40,168.29 498.60,169.11 498.80,170.00 499.00,171.31 499.20,173.32 499.40,175.91 499.60,178.96 499.80,182.35 500.00,185.96 500.20,190.17 500.40,196.78 500.60,203.15 500.80,206.00 501.00,204.14 501.20,199.70 501.40,194.42 501.60,190.00 501.80,186.43 502.00,183.13 502.20,181.00 502.40,179.85 502.60,178.88 502.80,178.07 503.00,177.38 503.20,176.79 503.40,176.26 503.60,175.76 503.80,175.27 504.00,174.76 504.20,174.20 504.40,173.63 504.60,173.09 504.80,172.56 505.00,172.00 505.20,171.37 505.40,170.66 505.60,169.88 505.80,169.06 506.00,168.21 506.20,167.35 506.40,166.49 506.60,165.66 506.80,164.88 507.00,164.15 507.20,163.50 507.40,162.94 507.60,162.50 507.80,162.19 508.00,162.02 508.20,162.00 508.40,162.02 508.60,162.07 508.80,162.14 509.00,162.24 509.20,162.37 509.40,162.53 509.60,162.73 509.80,162.96 510.00,163.23 510.20,163.53 510.40,163.88 510.60,164.27 510.80,164.71 511.00,165.19 511.20,165.72 511.40,167.35 511.60,175.07 511.80,186.36 512.00,197.54 512.20,204.91 512.40,205.47 512.60,201.71 512.80,195.55 513.00,188.35 513.20,181.52 513.40,176.44 513.60,174.02 513.80,172.15 514.00,170.42 514.20,168.85 514.40,167.46 514.60,166.27 514.80,165.31 515.00,164.60 515.20,164.15 515.40,164.00 515.60,164.02 515.80,164.07 516.00,164.16 516.20,164.28 516.40,164.44 516.60,164.64 516.80,164.87 517.00,165.15 517.20,165.46 517.40,165.81 517.60,166.42 517.80,168.43 518.00,171.61 518.20,175.47 518.40,179.55 518.60,183.35 518.80,186.69 519.00,190.60 519.20,194.28 519.40,196.65 519.60,196.74 519.80,194.92 520.00,192.02 520.20,188.79 520.40,186.00 520.60,184.21 520.80,182.77 521.00,181.48 521.20,180.32 521.40,179.25 521.60,178.24 521.80,177.26 522.00,176.27 522.20,175.24 522.40,174.15 522.60,172.95 522.80,171.61 523.00,170.12 523.20,168.49 523.40,166.76 523.60,164.94 523.80,163.07 524.00,161.17 524.20,159.28 524.40,157.41 524.60,155.59 524.80,153.86 525.00,152.24 525.20,150.76 525.40,149.44 525.60,148.31 525.80,147.40 526.00,146.61 526.20,145.83 526.40,145.07 526.60,144.34 526.80,143.64 527.00,142.98 527.20,142.37 527.40,141.83 527.60,141.34 527.80,140.93 528.00,140.61 528.20,140.37 528.40,140.23 528.60,142.56 528.80,142.74 529.00,143.18 529.20,143.91 529.40,144.87 529.60,146.26 529.80,148.18 530.00,150.78 530.20,154.33 530.40,160.47 530.60,171.53 530.80,169.12 531.00,159.12 531.20,152.58 531.40,148.26 531.60,145.21 531.80,143.08 532.00,141.45 532.20,140.17 532.40,139.12 532.60,138.40 532.80,137.95 533.00,137.75 533.20,137.79 533.40,138.13 533.60,138.69 533.80,139.58 534.00,140.81 534.20,142.29 534.40,144.13 534.60,146.88 534.80,150.88 535.00,157.46 535.20,168.05 535.40,172.37 535.60,158.22 535.80,150.69 536.00,145.23 536.20,141.61 536.40,138.96 536.60,137.06 536.80,135.67 537.00,134.55 537.20,133.72 537.40,133.16 537.60,132.96 537.80,133.06 538.00,133.53 538.20,134.34 538.40,135.61 538.60,137.47 538.80,140.18 539.00,143.71 539.20,148.51 539.40,155.91 539.60,170.66 539.80,163.07 540.00,151.05 540.20,144.01 540.40,139.32 540.60,136.09 540.80,133.59 541.00,131.97 541.20,130.80 541.40,130.18 541.60,130.00 541.80,130.24 542.00,130.88 542.20,131.87 542.40,133.50 542.60,135.71 542.80,139.14 543.00,143.56 543.20,150.45 543.40,162.79 543.60,174.83 543.80,158.86 544.00,150.00 544.20,144.46 544.40,139.73 544.60,136.55 544.80,133.80 545.00,131.72 545.20,130.03 545.40,128.81 545.60,128.08 545.80,127.76 546.00,127.78 546.20,128.04 546.40,128.55 546.60,129.35 546.80,130.52 547.00,132.11 547.20,134.60 547.40,138.37 547.60,143.98 547.80,153.39 548.00,174.12 548.20,154.55 548.40,143.70 548.60,137.36 548.80,133.03 549.00,130.20 549.20,128.21 549.40,126.95 549.60,126.18 549.80,125.98 550.00,126.31 550.20,127.19 550.40,128.65 550.60,130.69 550.80,133.85 551.00,138.34 551.20,145.41 551.40,157.87 551.60,168.75 551.80,150.34 552.00,141.71 552.20,136.08 552.40,131.69 552.60,128.51 552.80,126.35 553.00,124.97 553.20,124.41 553.40,124.79 553.60,126.19 553.80,128.80 554.00,133.27 554.20,140.02 554.40,151.42 554.60,173.76 554.80,148.97 555.00,139.46 555.20,134.47 555.40,130.83 555.60,127.94 555.80,126.03 556.00,124.56 556.20,123.56 556.40,123.02 556.60,122.90 556.80,123.28 557.00,124.33 557.20,126.10 557.40,128.54 557.60,132.37 557.80,137.87 558.00,145.65 558.20,160.93 558.40,159.83 558.60,145.01 558.80,136.79 559.00,131.42 559.20,127.69 559.40,125.06 559.60,123.31 559.80,122.13 560.00,121.49 560.20,121.30 560.40,121.65 560.60,122.66 560.80,124.44 561.00,126.72 561.20,129.77 561.40,134.67 561.60,142.57 561.80,157.84 562.00,158.83 562.20,143.01 562.40,135.12 562.60,129.82 562.80,125.57 563.00,122.54 563.20,120.74 563.40,119.89 563.60,119.83 563.80,120.71 564.00,122.51 564.20,125.44 564.40,129.81 564.60,135.42 564.80,144.46 565.00,164.52 565.20,154.63 565.40,140.93 565.60,132.94 565.80,127.81 566.00,124.19 566.20,121.59 566.40,119.57 566.60,118.49 566.80,118.02 567.00,118.07 567.20,118.79 567.40,120.30 567.60,122.90 567.80,126.55 568.00,132.18 568.20,142.08 568.40,161.89 568.60,149.65 568.80,136.41 569.00,129.46 569.20,124.74 569.40,121.56 569.60,119.29 569.80,117.69 570.00,116.63 570.20,115.97 570.40,115.79 570.60,116.15 570.80,117.27 571.00,119.21 571.20,122.49 571.40,128.13 571.60,137.79 571.80,162.70 572.00,145.47 572.20,130.88 572.40,122.73 572.60,118.24 572.80,115.56 573.00,114.21 573.20,114.02 573.40,114.90 573.60,116.73 573.80,119.43 574.00,122.91 574.20,127.50 574.40,135.16 574.60,149.50 574.80,168.76 575.00,140.80 575.20,129.78 575.40,123.11 575.60,119.01 575.80,115.77 576.00,113.53 576.20,112.28 576.40,111.92 576.60,112.46 576.80,113.87 577.00,116.61 577.20,121.00 577.40,128.63 577.60,142.19 577.80,167.46 578.00,138.29 578.20,125.67 578.40,118.43 578.60,113.82 578.80,111.40 579.00,110.47 579.20,111.06 579.40,113.49 579.60,118.20 579.80,125.87 580.00,138.82 580.20,175.79 580.40,141.05 580.60,126.97 580.80,119.47 581.00,114.19 581.20,111.20 581.40,109.65 581.60,109.41 581.80,110.29 582.00,112.27 582.20,115.61 582.40,121.14 582.60,130.01 582.80,144.30 583.00,162.67 583.20,137.42 583.40,125.33 583.60,118.14 583.80,113.42 584.00,110.38 584.20,108.72 584.40,108.40 584.60,109.39 584.80,111.77 585.00,115.82 585.20,122.00 585.40,132.35 585.60,153.12 585.80,149.16 586.00,131.37 586.20,120.66 586.40,114.00 586.60,110.00 586.80,107.93 587.00,107.67 587.20,109.27 587.40,112.76 587.60,119.20 587.80,129.89 588.00,147.95 588.20,153.20 588.40,132.42 588.60,122.01 588.80,115.71 589.00,111.53 589.20,108.63 589.40,107.24 589.60,106.83 589.80,107.50 590.00,109.26 590.20,112.37 590.40,116.47 590.60,122.86 590.80,132.29 591.00,150.08 591.20,149.88 591.40,132.02 591.60,123.11 591.80,116.73 592.00,112.24 592.20,109.05 592.40,107.07 592.60,106.03 592.80,106.10 593.00,107.42 593.20,109.95 593.40,114.61 593.60,122.37 593.80,134.35 594.00,172.90 594.20,135.53 594.40,122.30 594.60,114.76 594.80,110.13 595.00,107.11 595.20,105.49 595.40,105.05 595.60,105.82 595.80,107.65 596.00,111.04 596.20,116.57 596.40,126.33 596.60,149.60 596.80,141.07 597.00,122.43 597.20,113.49 597.40,107.69 597.60,104.68 597.80,104.14 598.00,105.74 598.20,109.51 598.40,116.18 598.60,128.58 598.80,160.46 599.00,132.83 599.20,119.98 599.40,112.66 599.60,107.86 599.80,104.97 600.00,103.28 600.20,102.94 600.40,103.61 600.60,105.27 600.80,107.90 601.00,113.25 601.20,121.68 601.40,137.46 601.60,146.32 601.80,126.65 602.00,116.56 602.20,110.04 602.40,105.77 602.60,102.73 602.80,101.29 603.00,100.58 603.20,100.63 603.40,101.25 603.60,102.72 603.80,105.07 604.00,108.53 604.20,113.67 604.40,121.36 604.60,137.69 604.80,158.01 605.00,132.77 605.20,119.85 605.40,112.01 605.60,107.26 605.80,103.40 606.00,100.47 606.20,98.28 606.40,97.13 606.60,96.70 606.80,97.11 607.00,98.58 607.20,101.87 607.40,108.33 607.60,118.35 607.80,134.31 608.00,166.87 608.20,134.19 608.40,116.81 608.60,106.67 608.80,100.53 609.00,96.84 609.20,94.92 609.40,94.34 609.60,95.48 609.80,99.04 610.00,105.82 610.20,116.90 610.40,138.71 610.60,142.10 610.80,117.06 611.00,105.52 611.20,99.01 611.40,95.23 611.60,93.45 611.80,93.60 612.00,95.53 612.20,99.10 612.40,105.72 612.60,115.81 612.80,135.67 613.00,145.21 613.20,119.39 613.40,108.44 613.60,101.26 613.80,96.18 614.00,93.41 614.20,92.47 614.40,93.79 614.60,97.95 614.80,106.35 615.00,120.92 615.20,167.70 615.40,120.76 615.60,106.77 615.80,98.89 616.00,94.75 616.20,92.72 616.40,91.89 616.60,92.10 616.80,93.42 617.00,95.70 617.20,99.29 617.40,104.69 617.60,111.90 617.80,124.48 618.00,152.70 618.20,133.32 618.40,117.77 618.60,109.03 618.80,102.85 619.00,98.30 619.20,95.45 619.40,92.90 619.60,91.54 619.80,91.05 620.00,91.79 620.20,94.02 620.40,98.67 620.60,108.33 620.80,127.58 621.00,140.03 621.20,112.77 621.40,100.29 621.60,93.93 621.80,91.12 622.00,90.86 622.20,93.52 622.40,98.95 622.60,110.11 622.80,135.68 623.00,127.36 623.20,106.47 623.40,96.31 623.60,91.35 623.80,90.41 624.00,92.23 624.20,96.91 624.40,105.60 624.60,123.53 624.80,145.83 625.00,113.58 625.20,101.28 625.40,95.18 625.60,91.32 625.80,90.08 626.00,91.50 626.20,95.75 626.40,102.74 626.60,114.49 626.80,139.67 627.00,135.44 627.20,112.46 627.40,101.06 627.60,94.54 627.80,91.14 628.00,89.71 628.20,90.08 628.40,92.62 628.60,98.28 628.80,108.92 629.00,134.12 629.20,132.44 629.40,108.32 629.60,96.47 629.80,90.73 630.00,89.00 630.20,90.81 630.40,96.17 630.60,106.48 630.80,127.77 631.00,137.53 631.20,106.76 631.40,94.30 631.60,88.35 631.80,86.85 632.00,90.00 632.20,99.11 632.40,121.43 632.60,129.32 632.80,102.47 633.00,91.38 633.20,85.84 633.40,83.37 633.60,83.43 633.80,85.93 634.00,91.29 634.20,100.67 634.40,120.64 634.60,136.08 634.80,106.23 635.00,92.64 635.20,85.01 635.40,80.69 635.60,79.02 635.80,79.70 636.00,82.97 636.20,89.09 636.40,99.42 636.60,120.76 636.80,153.63 637.00,109.78 637.20,94.52 637.40,84.66 637.60,78.60 637.80,75.63 638.00,75.51 638.20,78.56 638.40,85.02 638.60,99.06 638.80,130.71 639.00,116.56 639.20,93.56 639.40,81.73 639.60,75.04 639.80,72.36 640.00,72.20 640.20,74.78 640.40,81.96 640.60,96.66 640.80,129.33 641.00,112.17 641.20,88.63 641.40,77.18 641.60,70.90 641.80,69.19 642.00,71.51 642.20,77.66 642.40,89.93 642.60,123.30 642.80,108.26 643.00,83.28 643.20,72.04 643.40,67.44 643.60,67.44 643.80,72.79 644.00,85.97 644.20,113.07 644.40,124.02 644.60,91.58 644.80,76.19 645.00,68.23 645.20,64.83 645.40,66.26 645.60,73.22 645.80,88.09 646.00,134.97 646.20,98.74 646.40,76.97 646.60,67.69 646.80,63.55 647.00,63.09 647.20,65.54 647.40,70.34 647.60,81.05 647.80,102.82 648.00,121.58 648.20,82.22 648.40,68.15 648.60,61.98 648.80,61.81 649.00,67.66 649.20,83.67 649.40,127.90 649.60,93.42 649.80,73.65 650.00,64.63 650.20,60.20 650.40,59.98 650.60,63.23 650.80,71.47 651.00,86.26 651.20,123.50 651.40,112.25 651.60,82.86 651.80,68.95 652.00,61.49 652.20,58.19 652.40,58.73 652.60,64.05 652.80,76.13 653.00,103.56 653.20,104.25 653.40,73.72 653.60,61.61 653.80,57.18 654.00,57.42 654.20,61.87 654.40,70.18 654.60,86.78 654.80,142.90 655.00,92.57 655.20,73.45 655.40,63.54 655.60,57.87 655.80,55.60 656.00,56.37 656.20,60.75 656.40,69.95 656.60,83.74 656.80,112.49 657.00,107.75 657.20,80.77 657.40,67.57 657.60,59.72 657.80,55.45 658.00,53.99 658.20,55.92 658.40,61.95 658.60,72.94 658.80,97.06 659.00,106.61 659.20,73.10 659.40,58.88 659.60,53.47 659.80,53.44 660.00,58.99 660.20,72.79 660.40,116.14 660.60,86.34 660.80,64.18 661.00,54.43 661.20,52.05 661.40,54.83 661.60,62.82 661.80,76.68 662.00,110.11 662.20,98.50 662.40,73.63 662.60,61.47 662.80,55.53 663.00,52.46 663.20,51.27 663.40,52.35 663.60,56.29 663.80,63.78 664.00,79.89 664.20,134.71 664.40,83.22 664.60,62.96 664.80,53.40 665.00,51.02 665.20,54.49 665.40,66.03 665.60,96.98 665.80,95.75 666.00,67.83 666.20,56.31 666.40,51.90 666.60,52.10 666.80,57.59 667.00,69.72 667.20,101.18 667.40,94.95 667.60,68.50 667.80,57.18 668.00,53.11 668.20,52.41 668.40,54.24 668.60,58.70 668.80,67.22 669.00,82.15 669.20,129.76 669.40,84.22 669.60,65.00 669.80,55.70 670.00,53.48 670.20,58.01 670.40,72.00 670.60,124.76 670.80,76.45 671.00,60.66 671.20,54.87 671.40,54.23 671.60,58.66 671.80,70.19 672.00,97.98 672.20,94.38 672.40,70.97 672.60,61.17 672.80,55.68 673.00,53.80 673.20,55.17 673.40,59.78 673.60,68.64 673.80,90.95 674.00,97.58 674.20,70.32 674.40,57.92 674.60,53.02 674.80,53.61 675.00,60.11 675.20,74.84 675.40,123.69 675.60,80.67 675.80,63.50 676.00,54.26 676.20,50.90 676.40,51.51 676.60,56.56 676.80,69.59 677.00,106.54 677.20,81.88 677.40,60.87 677.60,51.52 677.80,48.45 678.00,48.44 678.20,51.63 678.40,58.41 678.60,69.65 678.80,98.96"/>
<polyline stroke="#ff0000" stroke-width="1.6" stroke-dasharray="1.2 0.6" points="46.00,40.75 46.20,40.83 46.40,40.92 46.60,41.00 46.80,41.08 47.00,41.16 47.20,41.25 47.40,41.33 47.60,41.41 47.80,41.50 48.00,41.58 48.20,41.66 48.40,41.74 48.60,41.83 48.80,41.91 49.00,41.99 49.20,42.08 49.40,42.16 49.60,42.24 49.80,42.33 50.00,42.41 50.20,42.49 50.40,42.57 50.60,42.66 50.80,42.74 51.00,42.82 51.20,42.91 51.40,42.99 51.60,43.07 51.80,43.16 52.00,43.24 52.20,43.32 52.40,43.41 52.60,43.49 52.80,43.57 53.00,43.66 53.20,43.74 53.40,43.82 53.60,43.91 53.80,43.99 54.00,44.07 54.20,44.15 54.40,44.24 54.60,44.32 54.80,44.40 55.00,44.49 55.20,44.57 55.40,44.65 55.60,44.74 55.80,44.82 56.00,44.90 56.20,44.99 56.40,45.07 56.60,45.16 56.80,45.24 57.00,45.32 57.20,45.41 57.40,45.49 57.60,45.57 57.80,45.66 58.00,45.74 58.20,45.82 58.40,45.91 58.60,45.99 58.80,46.07 59.00,46.16 59.20,46.24 59.40,46.32 59.60,46.41 59.80,46.49 60.00,46.57 60.20,46.66 60.40,46.74 60.60,46.83 60.80,46.91 61.00,46.99 61.20,47.08 61.40,47.16 61.60,47.24 61.80,47.33 62.00,47.41 62.20,47.50 62.40,47.58 62.60,47.66 62.80,47.75 63.00,47.83 63.20,47.91 63.40,48.00 63.60,48.08 63.80,48.17 64.00,48.25 64.20,48.33 64.40,48.42 64.60,48.50 64.80,48.59 65.00,48.67 65.20,48.75 65.40,48.84 65.60,48.92 65.80,49.01 66.00,49.09 66.20,49.17 66.40,49.26 66.60,49.34 66.80,49.43 67.00,49.51 67.20,49.60 67.40,49.68 67.60,49.76 67.80,49.85 68.00,49.93 68.20,50.02 68.40,50.10 68.60,50.18 68.80,50.27 69.00,50.35 69.20,50.44 69.40,50.52 69.60,50.61 69.80,50.69 70.00,50.78 70.20,50.86 70.40,50.94 70.60,51.03 70.80,51.11 71.00,51.20 71.20,51.28 71.40,51.37 71.60,51.45 71.80,51.54 72.00,51.62 72.20,51.71 72.40,51.79 72.60,51.87 72.80,51.96 73.00,52.04 73.20,52.13 73.40,52.21 73.60,52.30 73.80,52.38 74.00,52.47 74.20,52.55 74.40,52.64 74.60,52.72 74.80,52.81 75.00,52.89 75.20,52.98 75.40,53.06 75.60,53.15 75.80,53.23 76.00,53.32 76.20,53.40 76.40,53.49 76.60,53.57 76.80,53.66 77.00,53.74 77.20,53.83 77.40,53.91 77.60,54.00 77.80,54.08 78.00,54.17 78.20,54.25 78.40,54.34 78.60,54.42 78.80,54.51 79.00,54.59 79.20,54.68 79.40,54.77 79.60,54.85 79.80,54.94 80.00,55.02 80.20,55.11 80.40,55.19 80.60,55.28 80.80,55.36 81.00,55.45 81.20,55.53 81.40,55.62 81.60,55.71 81.80,55.79 82.00,55.88 82.20,55.96 82.40,56.05 82.60,56.13 82.80,56.22 83.00,56.31 83.20,56.39 83.40,56.48 83.60,56.56 83.80,56.65 84.00,56.74 84.20,56.82 84.40,56.91 84.60,56.99 84.80,57.08 85.00,57.17 85.20,57.25 85.40,57.34 85.60,57.42 85.80,57.51 86.00,57.60 86.20,57.68 86.40,57.77 86.60,57.86 86.80,57.94 87.00,58.03 87.20,58.12 87.40,58.20 87.60,58.29 87.80,58.38 88.00,58.46 88.20,58.55 88.40,58.63 88.60,58.72 88.80,58.81 89.00,58.89 89.20,58.98 89.40,59.07 89.60,59.16 89.80,59.24 90.00,59.33 90.20,59.42 90.40,59.50 90.60,59.59 90.80,59.68 91.00,59.76 91.20,59.85 91.40,59.94 91.60,60.03 91.80,60.11 92.00,60.20 92.20,60.29 92.40,60.37 92.60,60.46 92.80,60.55 93.00,60.64 93.20,60.72 93.40,60.81 93.60,60.90 93.80,60.99 94.00,61.07 94.20,61.16 94.40,61.25 94.60,61.34 94.80,61.42 95.00,61.51 95.20,61.60 95.40,61.69 95.60,61.78 95.80,61.86 96.00,61.95 96.20,62.04 96.40,62.13 96.60,62.22 96.80,62.30 97.00,62.39 97.20,62.48 97.40,62.57 97.60,62.66 97.80,62.74 98.00,62.83 98.20,62.92 98.40,63.01 98.60,63.10 98.80,63.19 99.00,63.28 99.20,63.36 99.40,63.45 99.60,63.54 99.80,63.63 100.00,63.72 100.20,63.81 100.40,63.90 100.60,63.99 100.80,64.07 101.00,64.16 101.20,64.25 101.40,64.34 101.60,64.43 101.80,64.52 102.00,64.61 102.20,64.70 102.40,64.79 102.60,64.88 102.80,64.97 103.00,65.06 103.20,65.15 103.40,65.24 103.60,65.32 103.80,65.41 104.00,65.50 104.20,65.59 104.40,65.68 104.60,65.77 104.80,65.86 105.00,65.95 105.20,66.04 105.40,66.13 105.60,66.22 105.80,66.31 106.00,66.40 106.20,66.49 106.40,66.58 106.60,66.68 106.80,66.77 107.00,66.86 107.20,66.95 107.40,67.04 107.60,67.13 107.80,67.22 108.00,67.31 108.20,67.40 108.40,67.49 108.60,67.58 108.80,67.67 109.00,67.76 109.20,67.86 109.40,67.95 109.60,68.04 109.80,68.13 110.00,68.22 110.20,68.31 110.40,68.40 110.60,68.50 110.80,68.59 111.00,68.68 111.20,68.77 111.40,68.86 111.60,68.95 111.80,69.05 112.00,69.14 112.20,69.23 112.40,69.32 112.60,69.41 112.80,69.51 113.00,69.60 113.20,69.69 113.40,69.78 113.60,69.88 113.80,69.97 114.00,70.06 114.20,70.15 114.40,70.25 114.60,70.34 114.80,70.43 115.00,70.53 115.20,70.62 115.40,70.71 115.60,70.81 115.80,70.90 116.00,70.99 116.20,71.09 116.40,71.18 116.60,71.27 116.80,71.37 117.00,71.46 117.20,71.56 117.40,71.65 117.60,71.74 117.80,71.84 118.00,71.93 118.20,72.03 118.40,72.12 118.60,72.21 118.80,72.31 119.00,72.40 119.20,72.50 119.40,72.59 119.60,72.69 119.80,72.78 120.00,72.88 120.20,72.97 120.40,73.07 120.60,73.16 120.80,73.26 121.00,73.35 121.20,73.45 121.40,73.55 121.60,73.64 121.80,73.74 122.00,73.83 122.20,73.93 122.40,74.02 122.60,74.12 122.80,74.22 123.00,74.31 123.20,74.41 123.40,74.51 123.60,74.60 123.80,74.70 124.00,74.80 124.20,74.89 124.40,74.99 124.60,75.09 124.80,75.19 125.00,75.28 125.20,75.38 125.40,75.48 125.60,75.58 125.80,75.67 126.00,75.77 126.20,75.87 126.40,75.97 126.60,76.07 126.80,76.16 127.00,76.26 127.20,76.36 127.40,76.46 127.60,76.56 127.80,76.66 128.00,76.76 128.20,76.85 128.40,76.95 128.60,77.05 128.80,77.15 129.00,77.25 129.20,77.35 129.40,77.45 129.60,77.55 129.80,77.65 130.00,77.75 130.20,77.85 130.40,77.95 130.60,78.05 130.80,78.15 131.00,78.25 131.20,78.35 131.40,78.46 131.60,78.56 131.80,78.66 132.00,78.76 132.20,78.86 132.40,78.96 132.60,79.06 132.80,79.17 133.00,79.27 133.20,79.37 133.40,79.47 133.60,79.58 133.80,79.68 134.00,79.78 134.20,79.88 134.40,79.99 134.60,80.09 134.80,80.19 135.00,80.30 135.20,80.40 135.40,80.50 135.60,80.61 135.80,80.71 136.00,80.82 136.20,80.92 136.40,81.02 136.60,81.13 136.80,81.23 137.00,81.34 137.20,81.44 137.40,81.55 137.60,81.66 137.80,81.76 138.00,81.87 138.20,81.97 138.40,82.08 138.60,82.19 138.80,82.29 139.00,82.40 139.20,82.51 139.40,82.61 139.60,82.72 139.80,82.83 140.00,82.93 140.20,83.04 140.40,83.15 140.60,83.26 140.80,83.37 141.00,83.47 141.20,83.58 141.40,83.69 141.60,83.80 141.80,83.91 142.00,84.02 142.20,84.13 142.40,84.24 142.60,84.35 142.80,84.46 143.00,84.57 143.20,84.68 143.40,84.79 143.60,84.90 143.80,85.01 144.00,85.12 144.20,85.24 144.40,85.35 144.60,85.46 144.80,85.57 145.00,85.68 145.20,85.80 145.40,85.91 145.60,86.02 145.80,86.14 146.00,86.25 146.20,86.36 146.40,86.48 146.60,86.59 146.80,86.71 147.00,86.82 147.20,86.94 147.40,87.05 147.60,87.17 147.80,87.28 148.00,87.40 148.20,87.52 148.40,87.63 148.60,87.75 148.80,87.87 149.00,87.98 149.20,88.10 149.40,88.22 149.60,88.34 149.80,88.46 150.00,88.57 150.20,88.69 150.40,88.81 150.60,88.93 150.80,89.05 151.00,89.17 151.20,89.29 151.40,89.41 151.60,89.53 151.80,89.66 152.00,89.78 152.20,89.90 152.40,90.02 152.60,90.14 152.80,90.27 153.00,90.39 153.20,90.51 153.40,90.64 153.60,90.76 153.80,90.88 154.00,91.01 154.20,91.13 154.40,91.26 154.60,91.39 154.80,91.51 155.00,91.64 155.20,91.76 155.40,91.89 155.60,92.02 155.80,92.15 156.00,92.28 156.20,92.40 156.40,92.53 156.60,92.66 156.80,92.79 157.00,92.92 157.20,93.05 157.40,93.18 157.60,93.32 157.80,93.45 158.00,93.58 158.20,93.71 158.40,93.84 158.60,93.98 158.80,94.11 159.00,94.25 159.20,94.38 159.40,94.52 159.60,94.65 159.80,94.79 160.00,94.92 160.20,95.06 160.40,95.20 160.60,95.34 160.80,95.47 161.00,95.61 161.20,95.75 161.40,95.89 161.60,96.03 161.80,96.17 162.00,96.31 162.20,96.46 162.40,96.60 162.60,96.74 162.80,96.88 163.00,97.03 163.20,97.17 163.40,97.32 163.60,97.46 163.80,97.61 164.00,97.75 164.20,97.90 164.40,98.05 164.60,98.20 164.80,98.35 165.00,98.50 165.20,98.65 165.40,98.80 165.60,98.95 165.80,99.10 166.00,99.25 166.20,99.41 166.40,99.56 166.60,99.72 166.80,99.87 167.00,100.03 167.20,100.18 167.40,100.34 167.60,100.50 167.80,100.66 168.00,100.82 168.20,100.98 168.40,101.14 168.60,101.30 168.80,101.46 169.00,101.63 169.20,101.79 169.40,101.96 169.60,102.12 169.80,102.29 170.00,102.46 170.20,102.63 170.40,102.79 170.60,102.96 170.80,103.14 171.00,103.31 171.20,103.48 171.40,103.65 171.60,103.83 171.80,104.00 172.00,104.18 172.20,104.36 172.40,104.54 172.60,104.72 172.80,104.90 173.00,105.08 173.20,105.26 173.40,105.45 173.60,105.63 173.80,105.82 174.00,106.00 174.20,106.19 174.40,106.38 174.60,106.57 174.80,106.76 175.00,106.96 175.20,107.15 175.40,107.35 175.60,107.54 175.80,107.74 176.00,107.94 176.20,108.14 176.40,108.34 176.60,108.55 176.80,108.75 177.00,108.96 177.20,109.17 177.40,109.38 177.60,109.59 177.80,109.80 178.00,110.01 178.20,110.23 178.40,110.45 178.60,110.67 178.80,110.89 179.00,111.11 179.20,111.33 179.40,111.56 179.60,111.79 179.80,112.02 180.00,112.25 180.20,112.48 180.40,112.72 180.60,112.96 180.80,113.20 181.00,113.44 181.20,113.68 181.40,113.93 181.60,114.18 181.80,114.43 182.00,114.69 182.20,114.94 182.40,115.20 182.60,115.46 182.80,115.72 183.00,115.99 183.20,116.26 183.40,116.53 183.60,116.81 183.80,117.09 184.00,117.37 184.20,117.65 184.40,117.94 184.60,118.23 184.80,118.52 185.00,118.82 185.20,119.12 185.40,119.42 185.60,119.73 185.80,120.05 186.00,120.36 186.20,120.68 186.40,121.01 186.60,121.33 186.80,121.67 187.00,122.00 187.20,122.35 187.40,122.69 187.60,123.05 187.80,123.40 188.00,123.77 188.20,124.14 188.40,124.51 188.60,124.89 188.80,125.28 189.00,125.67 189.20,126.07 189.40,126.47 189.60,126.89 189.80,127.31 190.00,127.74 190.20,128.17 190.40,128.62 190.60,129.07 190.80,129.53 191.00,130.00 191.20,130.49 191.40,130.98 191.60,131.48 191.80,131.99 192.00,132.52 192.20,133.06 192.40,133.61 192.60,134.17 192.80,134.75 193.00,135.35 193.20,135.96 193.40,136.58 193.60,137.23 193.80,137.89 194.00,138.58 194.20,139.28 194.40,140.01 194.60,140.76 194.80,141.54 195.00,142.35 195.20,143.19 195.40,144.06 195.60,144.96 195.80,145.91 196.00,146.89 196.20,147.92 196.40,148.99 196.60,150.12 196.80,151.31 197.00,152.56 197.20,153.88 197.40,155.28 197.60,156.76 197.80,158.33 198.00,160.00 198.20,161.77 198.40,163.64 198.60,165.61 198.80,167.65 199.00,169.72 199.20,171.72 199.40,173.49 199.60,174.82 199.80,175.49 200.00,175.34 200.20,174.42 200.40,172.93 200.60,171.08 200.80,169.09 201.00,167.08 201.20,165.11 201.40,163.24 201.60,161.46 201.80,159.79 202.00,158.21 202.20,156.73 202.40,155.34 202.60,154.03 202.80,152.79 203.00,151.62 203.20,150.78 203.40,149.96 203.60,149.17 203.80,148.41 204.00,147.67 204.20,146.96 204.40,146.27 204.60,145.60 204.80,144.95 205.00,144.32 205.20,143.71 205.40,143.12 205.60,142.55 205.80,141.99 206.00,141.45 206.20,140.93 206.40,140.42 206.60,139.92 206.80,139.43 207.00,138.96 207.20,138.49 207.40,138.03 207.60,137.59 207.80,137.15 208.00,136.72 208.20,136.29 208.40,135.87 208.60,135.45 208.80,135.03 209.00,134.62 209.20,134.21 209.40,133.80 209.60,133.39 209.80,132.99 210.00,132.60 210.20,132.21 210.40,131.83 210.60,131.46 210.80,131.09 211.00,130.73 211.20,130.37 211.40,130.02 211.60,129.68 211.80,129.34 212.00,129.01 212.20,128.68 212.40,128.36 212.60,128.04 212.80,127.73 213.00,127.42 213.20,127.12 213.40,126.82 213.60,126.52 213.80,126.23 214.00,125.95 214.20,125.66 214.40,125.38 214.60,125.11 214.80,124.84 215.00,124.57 215.20,124.30 215.40,124.04 215.60,123.77 215.80,123.51 216.00,123.26 216.20,123.00 216.40,122.75 216.60,122.50 216.80,122.25 217.00,122.00 217.20,121.76 217.40,121.51 217.60,121.27 217.80,121.04 218.00,120.80 218.20,120.57 218.40,120.34 218.60,120.11 218.80,119.89 219.00,119.67 219.20,119.45 219.40,119.23 219.60,119.02 219.80,118.81 220.00,118.61 220.20,118.40 220.40,118.20 220.60,118.00 220.80,117.81 221.00,117.62 221.20,117.43 221.40,117.25 221.60,117.07 221.80,116.89 222.00,116.72 222.20,116.55 222.40,116.38 222.60,116.22 222.80,116.06 223.00,115.90 223.20,115.74 223.40,115.58 223.60,115.43 223.80,115.27 224.00,115.12 224.20,114.97 224.40,114.81 224.60,114.67 224.80,114.52 225.00,114.37 225.20,114.22 225.40,114.08 225.60,113.94 225.80,113.79 226.00,113.65 226.20,113.51 226.40,113.38 226.60,113.24 226.80,113.10 227.00,112.97 227.20,112.84 227.40,112.71 227.60,112.58 227.80,112.45 228.00,112.32 228.20,112.19 228.40,112.07 228.60,111.94 228.80,111.82 229.00,111.70 229.20,111.58 229.40,111.46 229.60,111.34 229.80,111.23 230.00,111.11 230.20,111.00 230.40,110.89 230.60,110.78 230.80,110.67 231.00,110.56 231.20,110.45 231.40,110.35 231.60,110.24 231.80,110.14 232.00,110.04 232.20,109.94 232.40,109.84 232.60,109.74 232.80,109.64 233.00,109.55 233.20,109.45 233.40,109.36 233.60,109.27 233.80,109.18 234.00,109.09 234.20,109.00 234.40,108.91 234.60,108.83 234.80,108.74 235.00,108.66 235.20,108.57 235.40,108.49 235.60,108.41 235.80,108.33 236.00,108.25 236.20,108.17 236.40,108.09 236.60,108.01 236.80,107.93 237.00,107.86 237.20,107.78 237.40,107.70 237.60,107.63 237.80,107.55 238.00,107.48 238.20,107.41 238.40,107.33 238.60,107.26 238.80,107.19 239.00,107.12 239.20,107.05 239.40,106.98 239.60,106.91 239.80,106.84 240.00,106.78 240.20,106.71 240.40,106.64 240.60,106.58 240.80,106.51 241.00,106.45 241.20,106.38 241.40,106.32 241.60,106.25 241.80,106.19 242.00,106.13 242.20,106.06 242.40,106.00 242.60,105.94 242.80,105.88 243.00,105.82 243.20,105.76 243.40,105.70 243.60,105.64 243.80,105.58 244.00,105.52 244.20,105.46 244.40,105.41 244.60,105.35 244.80,105.29 245.00,105.23 245.20,105.18 245.40,105.12 245.60,105.07 245.80,105.01 246.00,104.95 246.20,104.90 246.40,104.84 246.60,104.79 246.80,104.73 247.00,104.68 247.20,104.63 247.40,104.57 247.60,104.52 247.80,104.46 248.00,104.41 248.20,104.36 248.40,104.31 248.60,104.25 248.80,104.20 249.00,104.15 249.20,104.10 249.40,104.04 249.60,103.99 249.80,103.94 250.00,103.89 250.20,103.83 250.40,103.78 250.60,103.73 250.80,103.68 251.00,103.63 251.20,103.58 251.40,103.53 251.60,103.48 251.80,103.43 252.00,103.37 252.20,103.32 252.40,103.27 252.60,103.23 252.80,103.18 253.00,103.13 253.20,103.08 253.40,103.03 253.60,102.98 253.80,102.93 254.00,102.88 254.20,102.83 254.40,102.79 254.60,102.74 254.80,102.69 255.00,102.65 255.20,102.60 255.40,102.55 255.60,102.51 255.80,102.46 256.00,102.42 256.20,102.37 256.40,102.33 256.60,102.28 256.80,102.24 257.00,102.19 257.20,102.15 257.40,102.11 257.60,102.06 257.80,102.02 258.00,101.98 258.20,101.94 258.40,101.90 258.60,101.86 258.80,101.81 259.00,101.77 259.20,101.73 259.40,101.70 259.60,101.66 259.80,101.62 260.00,101.58 260.20,101.54 260.40,101.50 260.60,101.47 260.80,101.43 261.00,101.39 261.20,101.36 261.40,101.32 261.60,101.29 261.80,101.26 262.00,101.22 262.20,101.19 262.40,101.16 262.60,101.12 262.80,101.09 263.00,101.06 263.20,101.03 263.40,101.00 263.60,100.97 263.80,100.94 264.00,100.91 264.20,100.88 264.40,100.85 264.60,100.82 264.80,100.79 265.00,100.75 265.20,100.72 265.40,100.69 265.60,100.66 265.80,100.63 266.00,100.60 266.20,100.56 266.40,100.53 266.60,100.50 266.80,100.47 267.00,100.44 267.20,100.41 267.40,100.38 267.60,100.35 267.80,100.32 268.00,100.29 268.20,100.26 268.40,100.23 268.60,100.20 268.80,100.17 269.00,100.14 269.20,100.11 269.40,100.08 269.60,100.05 269.80,100.03 270.00,100.00 270.20,99.97 270.40,99.95 270.60,99.92 270.80,99.90 271.00,99.87 271.20,99.85 271.40,99.82 271.60,99.80 271.80,99.78 272.00,99.76 272.20,99.74 272.40,99.72 272.60,99.70 272.80,99.68 273.00,99.66 273.20,99.64 273.40,99.63 273.60,99.61 273.80,99.60 274.00,99.59 274.20,99.57 274.40,99.56 274.60,99.55 274.80,99.54 275.00,99.53 275.20,99.52 275.40,99.52 275.60,99.51 275.80,99.51 276.00,99.50 276.20,99.50 276.40,99.50 276.60,99.50 276.80,99.52 277.00,99.55 277.20,99.61 277.40,99.67 277.60,99.76 277.80,99.86 278.00,99.97 278.20,100.10 278.40,100.25 278.60,100.40 278.80,100.58 279.00,100.76 279.20,100.96 279.40,101.17 279.60,101.39 279.80,101.62 280.00,101.87 280.20,102.12 280.40,102.39 280.60,102.67 280.80,102.95 281.00,103.27 281.20,103.71 281.40,104.30 281.60,105.00 281.80,105.82 282.00,106.72 282.20,107.71 282.40,108.76 282.60,109.85 282.80,110.99 283.00,112.14 283.20,113.29 283.40,114.44 283.60,115.60 283.80,117.02 284.00,118.67 284.20,120.48 284.40,122.38 284.60,124.32 284.80,126.22 285.00,128.01 285.20,129.63 285.40,131.00 285.60,132.07 285.80,132.76 286.00,133.00 286.20,132.66 286.40,131.73 286.60,130.35 286.80,128.64 287.00,126.75 287.20,124.80 287.40,122.94 287.60,121.30 287.80,120.00 288.00,118.94 288.20,117.90 288.40,116.91 288.60,115.96 288.80,115.06 289.00,114.23 289.20,113.46 289.40,112.77 289.60,112.17 289.80,111.65 290.00,111.14 290.20,110.65 290.40,110.17 290.60,109.70 290.80,109.24 291.00,108.79 291.20,108.35 291.40,107.93 291.60,107.51 291.80,107.11 292.00,106.73 292.20,106.35 292.40,105.99 292.60,105.64 292.80,105.31 293.00,104.99 293.20,104.69 293.40,104.40 293.60,104.13 293.80,103.88 294.00,103.64 294.20,103.42 294.40,103.21 294.60,103.02 294.80,102.85 295.00,102.70 295.20,102.57 295.40,102.45 295.60,102.35 295.80,102.26 296.00,102.17 296.20,102.08 296.40,101.99 296.60,101.91 296.80,101.83 297.00,101.75 297.20,101.68 297.40,101.60 297.60,101.53 297.80,101.46 298.00,101.40 298.20,101.33 298.40,101.27 298.60,101.21 298.80,101.15 299.00,101.09 299.20,101.03 299.40,100.98 299.60,100.93 299.80,100.88 300.00,100.83 300.20,100.78 300.40,100.73 300.60,100.69 300.80,100.64 301.00,100.60 301.20,100.56 301.40,100.52 301.60,100.48 301.80,100.44 302.00,100.40 302.20,100.37 302.40,100.33 302.60,100.29 302.80,100.26 303.00,100.22 303.20,100.19 303.40,100.16 303.60,100.12 303.80,100.09 304.00,100.06 304.20,100.03 304.40,100.00 304.60,99.96 304.80,99.93 305.00,99.90 305.20,99.87 305.40,99.84 305.60,99.80 305.80,99.77 306.00,99.74 306.20,99.71 306.40,99.67 306.60,99.64 306.80,99.61 307.00,99.58 307.20,99.54 307.40,99.51 307.60,99.48 307.80,99.45 308.00,99.42 308.20,99.39 308.40,99.36 308.60,99.33 308.80,99.30 309.00,99.27 309.20,99.24 309.40,99.21 309.60,99.19 309.80,99.16 310.00,99.13 310.20,99.11 310.40,99.08 310.60,99.06 310.80,99.04 311.00,99.01 311.20,98.99 311.40,98.97 311.60,98.95 311.80,98.93 312.00,98.92 312.20,98.90 312.40,98.88 312.60,98.87 312.80,98.86 313.00,98.85 313.20,98.84 313.40,98.83 313.60,98.82 313.80,98.81 314.00,98.81 314.20,98.80 314.40,98.80 314.60,98.80 314.80,98.80 315.00,98.80 315.20,98.80 315.40,98.80 315.60,98.80 315.80,98.80 316.00,98.80 316.20,98.80 316.40,98.80 316.60,98.80 316.80,98.80 317.00,98.81 317.20,98.81 317.40,98.81 317.60,98.81 317.80,98.81 318.00,98.81 318.20,98.81 318.40,98.81 318.60,98.81 318.80,98.82 319.00,98.82 319.20,98.82 319.40,98.82 319.60,98.82 319.80,98.83 320.00,98.83 320.20,98.83 320.40,98.83 320.60,98.83 320.80,98.84 321.00,98.84 321.20,98.84 321.40,98.84 321.60,98.85 321.80,98.85 322.00,98.85 322.20,98.85 322.40,98.86 322.60,98.86 322.80,98.86 323.00,98.87 323.20,98.87 323.40,98.87 323.60,98.88 323.80,98.88 324.00,98.88 324.20,98.89 324.40,98.89 324.60,98.89 324.80,98.90 325.00,98.90 325.20,98.91 325.40,98.91 325.60,98.91 325.80,98.92 326.00,98.92 326.20,98.93 326.40,98.93 326.60,98.93 326.80,98.94 327.00,98.94 327.20,98.95 327.40,98.95 327.60,98.96 327.80,98.96 328.00,98.97 328.20,98.97 328.40,98.98 328.60,98.98 328.80,98.99 329.00,98.99 329.20,99.00 329.40,99.01 329.60,99.02 329.80,99.03 330.00,99.04 330.20,99.05 330.40,99.07 330.60,99.09 330.80,99.11 331.00,99.13 331.20,99.16 331.40,99.18 331.60,99.21 331.80,99.24 332.00,99.28 332.20,99.31 332.40,99.35 332.60,99.38 332.80,99.42 333.00,99.47 333.20,99.51 333.40,99.56 333.60,99.60 333.80,99.65 334.00,99.70 334.20,99.76 334.40,99.81 334.60,99.87 334.80,99.92 335.00,99.98 335.20,100.04 335.40,100.11 335.60,100.17 335.80,100.24 336.00,100.31 336.20,100.38 336.40,100.45 336.60,100.52 336.80,100.59 337.00,100.67 337.20,100.75 337.40,100.83 337.60,100.91 337.80,100.99 338.00,101.07 338.20,101.16 338.40,101.25 338.60,101.33 338.80,101.42 339.00,101.51 339.20,101.61 339.40,101.70 339.60,101.82 339.80,101.97 340.00,102.17 340.20,102.40 340.40,102.66 340.60,102.94 340.80,103.25 341.00,103.57 341.20,103.91 341.40,104.26 341.60,104.62 341.80,104.98 342.00,105.34 342.20,105.70 342.40,106.04 342.60,106.38 342.80,106.69 343.00,106.99 343.20,107.27 343.40,107.51 343.60,107.73 343.80,107.91 344.00,108.05 344.20,108.14 344.40,108.19 344.60,108.19 344.80,108.12 345.00,107.99 345.20,107.80 345.40,107.56 345.60,107.29 345.80,106.98 346.00,106.65 346.20,106.31 346.40,105.96 346.60,105.62 346.80,105.28 347.00,104.96 347.20,104.67 347.40,104.42 347.60,104.20 347.80,104.04 348.00,103.94 348.20,103.90 348.40,103.90 348.60,103.90 348.80,103.91 349.00,103.91 349.20,103.92 349.40,103.93 349.60,103.94 349.80,103.95 350.00,103.96 350.20,103.98 350.40,103.99 350.60,104.01 350.80,104.03 351.00,104.05 351.20,104.07 351.40,104.09 351.60,104.12 351.80,104.14 352.00,104.17 352.20,104.19 352.40,104.22 352.60,104.25 352.80,104.28 353.00,104.31 353.20,104.34 353.40,104.38 353.60,104.41 353.80,104.44 354.00,104.48 354.20,104.52 354.40,104.55 354.60,104.59 354.80,104.63 355.00,104.67 355.20,104.71 355.40,104.75 355.60,104.79 355.80,104.83 356.00,104.87 356.20,104.92 356.40,104.96 356.60,105.00 356.80,105.05 357.00,105.09 357.20,105.14 357.40,105.18 357.60,105.23 357.80,105.28 358.00,105.32 358.20,105.37 358.40,105.42 358.60,105.46 358.80,105.51 359.00,105.56 359.20,105.60 359.40,105.65 359.60,105.70 359.80,105.75 360.00,105.79 360.20,105.84 360.40,105.89 360.60,105.94 360.80,105.98 361.00,106.03 361.20,106.08 361.40,106.12 361.60,106.17 361.80,106.22 362.00,106.27 362.20,106.33 362.40,106.38 362.60,106.44 362.80,106.50 363.00,106.56 363.20,106.62 363.40,106.68 363.60,106.74 363.80,106.81 364.00,106.87 364.20,106.94 364.40,107.01 364.60,107.08 364.80,107.15 365.00,107.22 365.20,107.30 365.40,107.37 365.60,107.44 365.80,107.52 366.00,107.59 366.20,107.67 366.40,107.75 366.60,107.83 366.80,107.91 367.00,107.99 367.20,108.07 367.40,108.15 367.60,108.23 367.80,108.31 368.00,108.39 368.20,108.47 368.40,108.55 368.60,108.64 368.80,108.72 369.00,108.80 369.20,108.88 369.40,108.97 369.60,109.05 369.80,109.13 370.00,109.21 370.20,109.30 370.40,109.38 370.60,109.46 370.80,109.54 371.00,109.62 371.20,109.70 371.40,109.78 371.60,109.86 371.80,109.94 372.00,110.02 372.20,110.10 372.40,110.17 372.60,110.25 372.80,110.33 373.00,110.40 373.20,110.47 373.40,110.55 373.60,110.62 373.80,110.69 374.00,110.76 374.20,110.84 374.40,110.91 374.60,110.98 374.80,111.05 375.00,111.12 375.20,111.19 375.40,111.26 375.60,111.33 375.80,111.40 376.00,111.47 376.20,111.54 376.40,111.60 376.60,111.67 376.80,111.74 377.00,111.81 377.20,111.88 377.40,111.95 377.60,112.02 377.80,112.09 378.00,112.16 378.20,112.23 378.40,112.30 378.60,112.37 378.80,112.44 379.00,112.51 379.20,112.58 379.40,112.65 379.60,112.72 379.80,112.79 380.00,112.87 380.20,112.94 380.40,113.01 380.60,113.09 380.80,113.16 381.00,113.24 381.20,113.32 381.40,113.39 381.60,113.47 381.80,113.55 382.00,113.63 382.20,113.71 382.40,113.79 382.60,113.87 382.80,113.96 383.00,114.04 383.20,114.13 383.40,114.21 383.60,114.30 383.80,114.39 384.00,114.48 384.20,114.57 384.40,114.66 384.60,114.75 384.80,114.85 385.00,114.95 385.20,115.05 385.40,115.16 385.60,115.27 385.80,115.38 386.00,115.50 386.20,115.62 386.40,115.74 386.60,115.86 386.80,115.99 387.00,116.12 387.20,116.25 387.40,116.38 387.60,116.51 387.80,116.65 388.00,116.78 388.20,116.91 388.40,117.05 388.60,117.18 388.80,117.32 389.00,117.45 389.20,117.58 389.40,117.71 389.60,117.84 389.80,117.97 390.00,118.10 390.20,118.22 390.40,118.34 390.60,118.46 390.80,118.58 391.00,118.69 391.20,118.80 391.40,118.91 391.60,119.01 391.80,119.11 392.00,119.20 392.20,119.29 392.40,119.38 392.60,119.46 392.80,119.54 393.00,119.62 393.20,119.70 393.40,119.77 393.60,119.85 393.80,119.92 394.00,119.99 394.20,120.06 394.40,120.13 394.60,120.19 394.80,120.26 395.00,120.32 395.20,120.39 395.40,120.45 395.60,120.51 395.80,120.58 396.00,120.64 396.20,120.70 396.40,120.77 396.60,120.83 396.80,120.89 397.00,120.96 397.20,121.02 397.40,121.09 397.60,121.16 397.80,121.23 398.00,121.30 398.20,121.37 398.40,121.44 398.60,121.51 398.80,121.59 399.00,121.67 399.20,121.75 399.40,121.83 399.60,121.92 399.80,122.01 400.00,122.10 400.20,122.19 400.40,122.29 400.60,122.39 400.80,122.49 401.00,122.59 401.20,122.70 401.40,122.80 401.60,122.91 401.80,123.02 402.00,123.14 402.20,123.25 402.40,123.37 402.60,123.49 402.80,123.61 403.00,123.73 403.20,123.85 403.40,123.98 403.60,124.10 403.80,124.23 404.00,124.36 404.20,124.50 404.40,124.63 404.60,124.76 404.80,124.90 405.00,125.04 405.20,125.18 405.40,125.32 405.60,125.46 405.80,125.60 406.00,125.75 406.20,125.89 406.40,126.04 406.60,126.18 406.80,126.33 407.00,126.48 407.20,126.63 407.40,126.79 407.60,126.94 407.80,127.09 408.00,127.25 408.20,127.40 408.40,127.56 408.60,127.72 408.80,127.88 409.00,128.04 409.20,128.20 409.40,128.37 409.60,128.54 409.80,128.71 410.00,128.89 410.20,129.06 410.40,129.24 410.60,129.42 410.80,129.60 411.00,129.78 411.20,129.97 411.40,130.16 411.60,130.34 411.80,130.53 412.00,130.73 412.20,130.92 412.40,131.11 412.60,131.31 412.80,131.51 413.00,131.71 413.20,131.91 413.40,132.11 413.60,132.32 413.80,132.52 414.00,132.73 414.20,132.93 414.40,133.14 414.60,133.35 414.80,133.57 415.00,133.78 415.20,133.99 415.40,134.21 415.60,134.42 415.80,134.64 416.00,134.86 416.20,135.07 416.40,135.29 416.60,135.51 416.80,135.73 417.00,135.96 417.20,136.18 417.40,136.40 417.60,136.62 417.80,136.85 418.00,137.07 418.20,137.30 418.40,137.52 418.60,137.75 418.80,137.97 419.00,138.19 419.20,138.41 419.40,138.62 419.60,138.84 419.80,139.06 420.00,139.27 420.20,139.49 420.40,139.71 420.60,139.93 420.80,140.14 421.00,140.36 421.20,140.59 421.40,140.81 421.60,141.04 421.80,141.27 422.00,141.50 422.20,141.73 422.40,141.97 422.60,142.22 422.80,142.46 423.00,142.71 423.20,142.97 423.40,143.23 423.60,143.49 423.80,143.76 424.00,144.04 424.20,144.32 424.40,144.61 424.60,144.91 424.80,145.21 425.00,145.52 425.20,145.84 425.40,146.16 425.60,146.49 425.80,146.84 426.00,147.19 426.20,147.54 426.40,147.91 426.60,148.30 426.80,148.72 427.00,149.19 427.20,149.71 427.40,150.26 427.60,150.84 427.80,151.46 428.00,152.09 428.20,152.76 428.40,153.43 428.60,154.13 428.80,154.83 429.00,155.53 429.20,156.24 429.40,156.95 429.60,157.65 429.80,158.34 430.00,159.01 430.20,159.67 430.40,160.30 430.60,160.91 430.80,161.49 431.00,162.03 431.20,162.54 431.40,163.00 431.60,163.45 431.80,163.90 432.00,164.36 432.20,164.82 432.40,165.29 432.60,165.76 432.80,166.23 433.00,166.69 433.20,167.16 433.40,167.61 433.60,168.06 433.80,168.50 434.00,168.93 434.20,169.34 434.40,169.75 434.60,170.13 434.80,170.50 435.00,170.85 435.20,171.18 435.40,171.48 435.60,171.76 435.80,172.01 436.00,172.24 436.20,172.43 436.40,172.60 436.60,172.73 436.80,172.82 437.00,172.88 437.20,172.90 437.40,172.88 437.60,172.83 437.80,172.74 438.00,172.62 438.20,172.47 438.40,172.30 438.60,172.10 438.80,171.88 439.00,171.64 439.20,171.38 439.40,171.11 439.60,170.83 439.80,170.53 440.00,170.23 440.20,169.92 440.40,169.61 440.60,169.30 440.80,168.98 441.00,168.68 441.20,168.37 441.40,168.08 441.60,167.80 441.80,167.53 442.00,167.27 442.20,167.03 442.40,166.81 442.60,166.62 442.80,166.45 443.00,166.30 443.20,166.17 443.40,166.04 443.60,165.91 443.80,165.77 444.00,165.64 444.20,165.51 444.40,165.38 444.60,165.25 444.80,165.13 445.00,165.00 445.20,164.88 445.40,164.76 445.60,164.64 445.80,164.53 446.00,164.42 446.20,164.31 446.40,164.21 446.60,164.11 446.80,164.01 447.00,163.92 447.20,163.84 447.40,163.76 447.60,163.68 447.80,163.61 448.00,163.55 448.20,163.49 448.40,163.44 448.60,163.40 448.80,163.37 449.00,163.34 449.20,163.32 449.40,163.30 449.60,163.30 449.80,163.31 450.00,163.32 450.20,163.35 450.40,163.39 450.60,163.43 450.80,163.49 451.00,163.55 451.20,163.62 451.40,163.70 451.60,163.79 451.80,163.89 452.00,163.99 452.20,164.10 452.40,164.21 452.60,164.33 452.80,164.45 453.00,164.58 453.20,164.71 453.40,164.85 453.60,164.99 453.80,165.13 454.00,165.28 454.20,165.42 454.40,165.57 454.60,165.72 454.80,165.87 455.00,166.02 455.20,166.17 455.40,166.33 455.60,166.47 455.80,166.62 456.00,166.77 456.20,166.91 456.40,167.06 456.60,167.20 456.80,167.33 457.00,167.46 457.20,167.59 457.40,167.71 457.60,167.83 457.80,167.95 458.00,168.05 458.20,168.16 458.40,168.26 458.60,168.36 458.80,168.45 459.00,168.54 459.20,168.64 459.40,168.73 459.60,168.81 459.80,168.90 460.00,168.99 460.20,169.07 460.40,169.15 460.60,169.24 460.80,169.32 461.00,169.40 461.20,169.49 461.40,169.57 461.60,169.65 461.80,169.74 462.00,169.83 462.20,169.91 462.40,170.00 462.60,170.09 462.80,170.18 463.00,170.28 463.20,170.38 463.40,170.47 463.60,170.58 463.80,170.68 464.00,170.79 464.20,170.90 464.40,171.02 464.60,171.14 464.80,171.26 465.00,171.39 465.20,171.52 465.40,171.66 465.60,171.80 465.80,171.95 466.00,172.10 466.20,172.26 466.40,172.44 466.60,172.63 466.80,172.84 467.00,173.06 467.20,173.30 467.40,173.55 467.60,173.81 467.80,174.09 468.00,174.38 468.20,174.68 468.40,175.00 468.60,175.33 468.80,175.67 469.00,176.04 469.20,176.44 469.40,176.86 469.60,177.31 469.80,177.78 470.00,178.28 470.20,178.81 470.40,179.36 470.60,179.93 470.80,180.53 471.00,181.16 471.20,181.80 471.40,182.47 471.60,183.17 471.80,183.88 472.00,184.62 472.20,185.41 472.40,186.39 472.60,187.56 472.80,188.89 473.00,190.34 473.20,191.89 473.40,193.49 473.60,195.13 473.80,196.76 474.00,198.36 474.20,199.89 474.40,201.32 474.60,202.61 474.80,203.75 475.00,204.68 475.20,205.39 475.40,205.84 475.60,206.00 475.80,205.55 476.00,204.36 476.20,202.65 476.40,200.63 476.60,198.54 476.80,196.58 477.00,195.00 477.20,193.66 477.40,192.31 477.60,190.97 477.80,189.66 478.00,188.40 478.20,187.22 478.40,186.14 478.60,185.18 478.80,184.36 479.00,183.70 479.20,183.13 479.40,182.58 479.60,182.04 479.80,181.51 480.00,181.01 480.20,180.52 480.40,180.07 480.60,179.64 480.80,179.24 481.00,178.88 481.20,178.56 481.40,178.28 481.60,178.04 481.80,177.85 482.00,177.72 482.20,177.63 482.40,177.60 482.60,177.62 482.80,177.68 483.00,177.78 483.20,177.91 483.40,178.09 483.60,178.30 483.80,178.55 484.00,178.83 484.20,179.15 484.40,179.50 484.60,179.89 484.80,180.31 485.00,180.76 485.20,181.33 485.40,182.43 485.60,184.06 485.80,186.08 486.00,188.40 486.20,190.89 486.40,193.44 486.60,196.25 486.80,200.37 487.00,204.27 487.20,206.00 487.40,205.28 487.60,203.40 487.80,200.79 488.00,197.88 488.20,195.07 488.40,192.80 488.60,191.34 488.80,190.05 489.00,188.81 489.20,187.64 489.40,186.54 489.60,185.54 489.80,184.64 490.00,183.86 490.20,183.22 490.40,182.73 490.60,182.40 490.80,182.17 491.00,181.95 491.20,181.74 491.40,181.56 491.60,181.40 491.80,181.26 492.00,181.15 492.20,181.07 492.40,181.02 492.60,181.00 492.80,181.05 493.00,181.20 493.20,181.44 493.40,181.77 493.60,182.17 493.80,182.63 494.00,183.15 494.20,183.73 494.40,184.35 494.60,185.00 494.80,185.68 495.00,186.38 495.20,187.09 495.40,187.80 495.60,188.72 495.80,189.98 496.00,191.48 496.20,193.12 496.40,194.79 496.60,196.39 496.80,197.81 497.00,198.96 497.20,199.72 497.40,200.00 497.60,199.87 497.80,199.52 498.00,198.99 498.20,198.32 498.40,197.57 498.60,196.78 498.80,196.00 499.00,195.12 499.20,194.03 499.40,192.77 499.60,191.38 499.80,189.89 500.00,188.33 500.20,186.75 500.40,185.17 500.60,183.64 500.80,182.20 501.00,180.87 501.20,179.69 501.40,178.71 501.60,177.93 501.80,177.25 502.00,176.62 502.20,176.05 502.40,175.52 502.60,175.02 502.80,174.54 503.00,174.06 503.20,173.57 503.40,173.06 503.60,172.52 503.80,171.90 504.00,171.23 504.20,170.54 504.40,169.85 504.60,169.18 504.80,168.58 505.00,168.06 505.20,167.66 505.40,167.39 505.60,167.30 505.80,167.32 506.00,167.37 506.20,167.45 506.40,167.55 506.60,167.68 506.80,167.83 507.00,168.00 507.20,168.27 507.40,168.74 507.60,169.39 507.80,170.21 508.00,171.19 508.20,172.31 508.40,173.56 508.60,174.94 508.80,176.42 509.00,178.00 509.20,180.58 509.40,184.66 509.60,189.61 509.80,194.81 510.00,199.64 510.20,203.48 510.40,205.69 510.60,205.85 510.80,204.75 511.00,202.80 511.20,200.29 511.40,197.48 511.60,194.64 511.80,192.06 512.00,190.00 512.20,188.27 512.40,186.53 512.60,184.81 512.80,183.14 513.00,181.55 513.20,180.08 513.40,178.75 513.60,177.61 513.80,176.68 514.00,176.00 514.20,175.46 514.40,174.94 514.60,174.45 514.80,173.99 515.00,173.56 515.20,173.18 515.40,172.84 515.60,172.55 515.80,172.32 516.00,172.14 516.20,172.04 516.40,172.00 516.60,172.09 516.80,172.36 517.00,172.79 517.20,173.38 517.40,174.10 517.60,174.95 517.80,175.91 518.00,176.98 518.20,178.13 518.40,179.36 518.60,180.90 518.80,183.95 519.00,188.18 519.20,192.99 519.40,197.78 519.60,201.95 519.80,204.89 520.00,206.00 520.20,205.15 520.40,202.90 520.60,199.68 520.80,195.93 521.00,192.10 521.20,188.61 521.40,185.92 521.60,184.26 521.80,182.79 522.00,181.37 522.20,180.02 522.40,178.75 522.60,177.60 522.80,176.59 523.00,175.73 523.20,175.05 523.40,174.58 523.60,174.33 523.80,174.32 524.00,174.49 524.20,174.83 524.40,175.31 524.60,175.92 524.80,176.65 525.00,177.50 525.20,178.44 525.40,179.46 525.60,180.81 525.80,183.75 526.00,187.96 526.20,192.79 526.40,197.64 526.60,201.87 526.80,204.86 527.00,206.00 527.20,205.29 527.40,203.35 527.60,200.52 527.80,197.09 528.00,193.39 528.20,189.73 528.40,186.42 528.60,183.66 528.80,180.92 529.00,178.13 529.20,175.33 529.40,172.57 529.60,169.89 529.80,167.33 530.00,164.94 530.20,162.77 530.40,160.85 530.60,159.19 530.80,157.60 531.00,156.05 531.20,154.56 531.40,153.12 531.60,151.77 531.80,150.50 532.00,149.32 532.20,148.26 532.40,147.31 532.60,146.49 532.80,145.82 533.00,137.85 533.20,138.07 533.40,138.55 533.60,139.30 533.80,140.43 534.00,142.24 534.20,145.03 534.40,148.95 534.60,154.77 534.80,167.24 535.00,157.18 535.20,149.99 535.40,145.58 535.60,142.78 535.80,140.88 536.00,139.43 536.20,138.23 536.40,137.20 536.60,136.49 536.80,135.98 537.00,135.60 537.20,135.43 537.40,135.48 537.60,135.74 537.80,136.23 538.00,137.01 538.20,137.95 538.40,139.21 538.60,140.91 538.80,143.04 539.00,145.52 539.20,149.23 539.40,154.59 539.60,164.63 539.80,162.27 540.00,153.86 540.20,148.44 540.40,144.52 540.60,141.88 540.80,139.63 541.00,137.94 541.20,136.51 541.40,135.35 541.60,134.59 541.80,134.05 542.00,133.77 542.20,133.69 542.40,133.84 542.60,134.24 542.80,134.91 543.00,135.86 543.20,137.06 543.40,139.04 543.60,141.87 543.80,146.59 544.00,154.40 544.20,166.32 544.40,149.99 544.60,143.26 544.80,139.18 545.00,136.28 545.20,134.49 545.40,133.38 545.60,132.84 545.80,132.73 546.00,133.00 546.20,133.62 546.40,134.69 546.60,136.31 546.80,138.34 547.00,141.38 547.20,145.52 547.40,151.72 547.60,162.91 547.80,157.27 548.00,148.81 548.20,144.09 548.40,140.97 548.60,138.40 548.80,136.62 549.00,135.19 549.20,133.92 549.40,132.96 549.60,132.30 549.80,131.86 550.00,131.62 550.20,131.61 550.40,131.89 550.60,132.50 550.80,133.46 551.00,134.63 551.20,136.29 551.40,138.50 551.60,141.56 551.80,145.91 552.00,152.62 552.20,164.37 552.40,159.71 552.60,150.02 552.80,143.98 553.00,139.85 553.20,136.54 553.40,134.14 553.60,132.50 553.80,131.26 554.00,130.52 554.20,130.32 554.40,130.65 554.60,131.58 554.80,133.15 555.00,135.21 555.20,137.88 555.40,142.06 555.60,148.35 555.80,159.96 556.00,158.23 556.20,146.51 556.40,140.60 556.60,136.53 556.80,133.65 557.00,131.64 557.20,130.34 557.40,129.57 557.60,129.21 557.80,129.27 558.00,129.66 558.20,130.51 558.40,131.86 558.60,133.96 558.80,137.28 559.00,142.77 559.20,154.06 559.40,161.08 559.60,145.48 559.80,137.95 560.00,133.65 560.20,130.91 560.40,129.21 560.60,128.35 560.80,128.29 561.00,128.99 561.20,130.34 561.40,132.73 561.60,136.49 561.80,142.40 562.00,154.31 562.20,160.38 562.40,145.60 562.60,139.02 562.80,134.84 563.00,131.54 563.20,129.56 563.40,128.29 563.60,127.50 563.80,127.20 564.00,127.27 564.20,127.79 564.40,128.92 564.60,130.86 564.80,133.37 565.00,136.88 565.20,142.20 565.40,150.97 565.60,173.74 565.80,151.98 566.00,142.42 566.20,136.73 566.40,133.13 566.60,130.27 566.80,128.06 567.00,126.81 567.20,126.13 567.40,126.01 567.60,126.55 567.80,127.68 568.00,129.42 568.20,132.12 568.40,136.32 568.60,143.25 568.80,158.97 569.00,149.23 569.20,137.61 569.40,132.11 569.60,128.74 569.80,126.58 570.00,125.34 570.20,124.92 570.40,125.20 570.60,126.13 570.80,127.97 571.00,130.56 571.20,135.23 571.40,143.89 571.60,170.81 571.80,146.81 572.00,137.42 572.20,132.05 572.40,128.65 572.60,126.42 572.80,124.93 573.00,124.07 573.20,123.73 573.40,123.89 573.60,124.76 573.80,126.19 574.00,128.45 574.20,132.68 574.40,140.56 574.60,159.54 574.80,149.19 575.00,136.04 575.20,129.53 575.40,125.76 575.60,123.60 575.80,122.67 576.00,122.83 576.20,124.09 576.40,126.53 576.60,130.80 576.80,138.14 577.00,153.48 577.20,146.24 577.40,134.45 577.60,128.49 577.80,124.80 578.00,122.97 578.20,121.93 578.40,121.50 578.60,121.59 578.80,122.13 579.00,123.02 579.20,124.57 579.40,126.93 579.60,130.26 579.80,136.09 580.00,147.56 580.20,154.61 580.40,138.88 580.60,130.95 580.80,125.99 581.00,122.82 581.20,121.07 581.40,120.23 581.60,120.13 581.80,120.87 582.00,122.48 582.20,124.70 582.40,127.92 582.60,132.38 582.80,139.20 583.00,153.50 583.20,151.32 583.40,138.04 583.60,130.57 583.80,125.41 584.00,121.70 584.20,119.54 584.40,118.72 584.60,119.17 584.80,121.09 585.00,124.77 585.20,131.33 585.40,144.61 585.60,151.74 585.80,135.51 586.00,127.88 586.20,123.20 586.40,120.14 586.60,118.45 586.80,117.60 587.00,117.73 587.20,118.80 587.40,120.99 587.60,125.14 587.80,131.83 588.00,145.41 588.20,153.54 588.40,134.93 588.60,126.87 588.80,122.04 589.00,118.92 589.20,117.20 589.40,116.35 589.60,116.36 589.80,117.22 590.00,119.20 590.20,122.06 590.40,126.67 590.60,133.58 590.80,144.94 591.00,164.75 591.20,140.78 591.40,130.07 591.60,123.78 591.80,119.94 592.00,117.08 592.20,115.52 592.40,114.77 592.60,115.04 592.80,116.45 593.00,119.06 593.20,123.21 593.40,130.54 593.60,145.85 593.80,152.35 594.00,130.97 594.20,122.26 594.40,117.46 594.60,114.73 594.80,113.53 595.00,113.56 595.20,114.59 595.40,116.56 595.60,119.63 595.80,122.70 596.00,126.40 596.20,133.39 596.40,148.23 596.60,149.03 596.80,131.40 597.00,122.05 597.20,116.34 597.40,113.24 597.60,111.95 597.80,112.55 598.00,114.92 598.20,119.10 598.40,125.80 598.60,137.87 598.80,170.38 599.00,137.81 599.20,127.02 599.40,120.17 599.60,115.36 599.80,112.35 600.00,110.81 600.20,111.01 600.40,113.41 600.60,119.07 600.80,129.28 601.00,160.13 601.20,133.87 601.40,121.96 601.60,115.55 601.80,112.17 602.00,110.48 602.20,109.74 602.40,109.73 602.60,110.47 602.80,111.92 603.00,114.21 603.20,117.94 603.40,123.53 603.60,133.34 603.80,157.80 604.00,140.96 604.20,126.15 604.40,117.83 604.60,112.79 604.80,109.88 605.00,108.59 605.20,108.91 605.40,110.94 605.60,114.54 605.80,119.26 606.00,126.45 606.20,138.85 606.40,155.16 606.60,129.38 606.80,119.42 607.00,113.62 607.20,110.30 607.40,108.12 607.60,107.60 607.80,109.02 608.00,112.73 608.20,119.43 608.40,133.16 608.60,150.26 608.80,126.20 609.00,116.07 609.20,110.80 609.40,107.68 609.60,106.77 609.80,107.86 610.00,111.43 610.20,118.54 610.40,134.90 610.60,139.21 610.80,119.33 611.00,110.78 611.20,107.15 611.40,106.08 611.60,107.19 611.80,110.51 612.00,116.34 612.20,128.32 612.40,154.94 612.60,126.90 612.80,115.78 613.00,109.32 613.20,106.04 613.40,105.36 613.60,107.29 613.80,112.63 614.00,123.15 614.20,154.99 614.40,123.24 614.60,111.86 614.80,106.78 615.00,104.72 615.20,104.95 615.40,108.05 615.60,115.32 615.80,131.70 616.00,134.13 616.20,115.93 616.40,108.02 616.60,104.51 616.80,103.81 617.00,105.50 617.20,109.56 617.40,116.69 617.60,133.39 617.80,140.45 618.00,119.89 618.20,111.35 618.40,106.13 618.60,103.29 618.80,102.77 619.00,104.30 619.20,108.97 619.40,117.45 619.60,137.12 619.80,134.04 620.00,114.99 620.20,106.64 620.40,102.80 620.60,101.71 620.80,104.09 621.00,111.39 621.20,129.79 621.40,132.13 621.60,111.97 621.80,103.98 622.00,100.91 622.20,101.39 622.40,104.98 622.60,112.63 622.80,126.74 623.00,143.08 623.20,117.04 623.40,107.40 623.60,102.38 623.80,99.74 624.00,99.43 624.20,101.20 624.40,105.79 624.60,115.37 624.80,143.15 625.00,123.81 625.20,107.91 625.40,100.71 625.60,98.04 625.80,99.20 626.00,105.53 626.20,121.05 626.40,143.86 626.60,114.47 626.80,103.16 627.00,97.89 627.20,96.69 627.40,99.04 627.60,105.24 627.80,118.51 628.00,163.72 628.20,117.83 628.40,103.89 628.60,97.72 628.80,95.24 629.00,95.63 629.20,98.89 629.40,106.55 629.60,123.07 629.80,137.99 630.00,111.16 630.20,100.71 630.40,95.28 630.60,93.41 630.80,95.19 631.00,101.90 631.20,118.47 631.40,143.05 631.60,110.26 631.80,97.75 632.00,92.58 632.20,92.28 632.40,96.08 632.60,104.52 632.80,118.51 633.00,158.39 633.20,116.31 633.40,103.19 633.60,96.18 633.80,91.87 634.00,90.03 634.20,90.35 634.40,92.93 634.60,99.35 634.80,112.89 635.00,148.49 635.20,110.87 635.40,98.58 635.60,92.52 635.80,88.74 636.00,87.86 636.20,89.61 636.40,94.57 636.60,103.58 636.80,116.64 637.00,158.94 637.20,116.70 637.40,100.62 637.60,93.23 637.80,88.71 638.00,86.07 638.20,85.02 638.40,86.06 638.60,90.95 638.80,102.39 639.00,134.77 639.20,111.18 639.40,93.02 639.60,84.92 639.80,82.91 640.00,86.26 640.20,95.01 640.40,111.64 640.60,143.23 640.80,106.65 641.00,92.08 641.20,84.50 641.40,81.28 641.60,80.39 641.80,81.97 642.00,88.10 642.20,103.66 642.40,158.69 642.60,106.28 642.80,88.78 643.00,80.38 643.20,78.27 643.40,82.14 643.60,93.57 643.80,120.38 644.00,117.54 644.20,93.80 644.40,82.61 644.60,77.83 644.80,76.18 645.00,76.27 645.20,77.93 645.40,81.62 645.60,88.41 645.80,103.35 646.00,156.74 646.20,105.57 646.40,88.56 646.60,79.50 646.80,74.44 647.00,73.75 647.20,77.21 647.40,85.38 647.60,103.75 647.80,129.89 648.00,94.21 648.20,81.99 648.40,75.11 648.60,71.99 648.80,71.43 649.00,72.94 649.20,76.82 649.40,83.77 649.60,96.91 649.80,141.71 650.00,95.04 650.20,79.82 650.40,71.93 650.60,69.19 650.80,70.89 651.00,78.12 651.20,96.68 651.40,126.46 651.60,88.16 651.80,74.43 652.00,68.47 652.20,68.06 652.40,73.33 652.60,87.12 652.80,129.82 653.00,94.90 653.20,76.82 653.40,69.01 653.60,66.22 653.80,66.92 654.00,70.78 654.20,80.48 654.40,99.67 654.60,114.42 654.80,83.40 655.00,70.91 655.20,65.29 655.40,65.97 655.60,74.54 655.80,99.70 656.00,103.89 656.20,76.13 656.40,66.58 656.60,63.82 656.80,66.53 657.00,75.12 657.20,97.23 657.40,101.98 657.60,75.11 657.80,65.00 658.00,62.89 658.20,67.91 658.40,83.15 658.60,109.61 658.80,75.05 659.00,65.35 659.20,61.97 659.40,63.83 659.60,71.96 659.80,92.19 660.00,98.29 660.20,71.28 660.40,63.09 660.60,61.09 660.80,65.57 661.00,79.65 661.20,127.40 661.40,79.36 661.60,64.78 661.80,60.60 662.00,61.34 662.20,67.87 662.40,84.86 662.60,116.78 662.80,77.63 663.00,65.00 663.20,60.34 663.40,60.43 663.60,65.51 663.80,80.72 664.00,137.21 664.20,80.34 664.40,64.71 664.60,59.80 664.80,61.12 665.00,68.44 665.20,83.95 665.40,132.65 665.60,83.39 665.80,68.07 666.00,61.65 666.20,59.66 666.40,60.38 666.60,63.98 666.80,71.72 667.00,89.54 667.20,99.81 667.40,74.20 667.60,64.56 667.80,60.31 668.00,59.97 668.20,63.58 668.40,72.18 668.60,92.80 668.80,92.81 669.00,72.16 669.20,64.23 669.40,60.36 669.60,59.75 669.80,61.42 670.00,65.11 670.20,72.49 670.40,84.78 670.60,118.39 670.80,88.66 671.00,72.35 671.20,64.64 671.40,60.71 671.60,59.80 671.80,62.61 672.00,69.35 672.20,87.53 672.40,103.67 672.60,74.60 672.80,64.24 673.00,60.21 673.20,60.55 673.40,66.18 673.60,80.03 673.80,123.54 674.00,80.00 674.20,66.50 674.40,61.15 674.60,60.01 674.80,62.43 675.00,68.64 675.20,81.34 675.40,122.29 675.60,77.14 675.80,65.61 676.00,60.86 676.20,60.46 676.40,64.24 676.60,76.00 676.80,107.69 677.00,73.39 677.20,64.21 677.40,60.60 677.60,61.49 677.80,67.88 678.00,85.43 678.20,92.63 678.40,71.24 678.60,63.24 678.80,60.66"/>
</g>
<g clip-path="url(#cb)" fill="none" stroke-linejoin="round">
<polyline stroke="#000" stroke-width="1.6" points="45.10,348.93 45.45,348.91 45.80,348.82 46.15,348.67 46.50,348.45 46.85,348.14 47.20,347.75 47.55,346.21 47.90,341.79 48.25,331.55 48.60,325.22 48.95,333.37 49.30,347.04 49.65,364.89 50.00,377.82 50.35,381.45 50.70,383.55 51.05,386.37 51.40,392.03 51.75,401.46 52.10,421.04 52.45,427.27 52.80,409.70 53.15,398.02 53.50,390.94 53.85,387.52 54.20,384.92 54.55,383.43 54.90,384.67 55.25,389.30 55.60,396.31 55.95,404.53 56.30,412.40 56.65,418.09 57.00,417.62 57.35,411.78 57.70,403.97 58.05,395.95 58.40,389.27 58.75,385.17 59.10,384.42 59.45,387.22 59.80,393.17 60.15,401.28 60.50,410.15 60.85,418.03 61.20,422.69 61.55,419.44 61.90,412.26 62.25,403.64 62.60,395.39 62.95,389.07 63.30,385.86 63.65,386.37 64.00,390.59 64.35,397.89 64.70,407.06 65.05,416.45 65.40,424.10 65.75,426.55 66.10,421.23 66.45,412.85 66.80,403.61 67.15,395.34 67.50,389.63 67.85,387.55 68.20,389.58 68.55,395.48 68.90,404.34 69.25,414.67 69.60,424.57 69.95,431.70 70.30,431.04 70.65,423.80 71.00,414.11 71.35,404.18 71.70,395.95 72.05,390.95 72.40,390.15 72.75,393.77 73.10,401.28 73.45,411.44 73.80,422.45 74.15,432.13 74.50,437.66 74.85,433.30 75.20,424.20 75.55,413.41 75.90,403.17 76.25,395.37 76.60,391.41 76.95,392.54 77.30,398.46 77.65,406.90 78.00,416.26 78.35,424.30 78.70,430.68 79.05,432.43 79.40,427.91 79.75,423.89 80.10,414.45 80.45,408.86 80.80,401.29 81.15,397.19 81.50,393.92 81.85,397.51 82.20,410.26 82.55,422.02 82.90,433.47 83.25,435.24 83.60,426.95 83.95,417.83 84.30,407.59 84.65,404.72 85.00,409.42 85.35,411.85 85.70,418.72 86.05,419.49 86.40,411.91 86.75,400.60 87.10,401.26 87.45,407.98 87.80,423.12 88.15,433.26 88.50,431.90 88.85,440.42 89.20,426.27 89.55,420.96 89.90,403.36 90.25,397.20 90.60,394.84 90.95,398.45 91.30,417.26 91.65,430.73 92.00,439.30 92.35,427.19 92.70,411.62 93.05,397.15 93.40,386.85 93.75,393.05 94.10,408.05 94.45,430.46 94.80,443.70 95.15,432.93 95.50,433.31 95.85,417.69 96.20,398.76 96.55,459.28 96.90,453.82 97.25,432.21 97.60,439.84 97.95,438.09 98.30,420.90 98.65,393.00 99.00,395.16 99.35,402.66 99.70,423.60 100.05,440.10 100.40,414.34 100.75,410.86 101.10,392.20 101.45,393.75 101.80,407.86 102.15,426.96 102.50,440.19 102.85,427.04 103.20,417.01 103.55,399.28 103.90,389.72 104.25,398.30 104.60,450.27 104.95,446.97 105.30,428.34 105.65,422.02 106.00,419.04 106.35,401.24 106.70,386.06 107.05,382.97 107.40,383.47 107.75,404.41 108.10,415.57 108.45,422.81 108.80,408.00 109.15,396.22 109.50,393.31 109.85,390.53 110.20,400.80 110.55,406.92 110.90,419.12 111.25,405.70 111.60,396.37 111.95,384.54 112.30,381.75 112.65,380.56 113.00,380.27 113.35,396.05 113.70,398.18 114.05,398.27 114.40,397.58 114.75,385.91 115.10,392.69 115.45,384.16 115.80,388.41 116.15,396.95 116.50,396.29 116.85,466.41 117.20,456.66 117.55,388.72 117.90,380.68 118.25,377.04 118.60,377.94 118.95,371.70 119.30,375.69 119.65,374.93 120.00,367.78 120.35,454.68 120.70,447.91 121.05,377.95 121.40,381.67 121.75,380.01 122.10,381.28 122.45,383.06 122.80,380.83 123.15,460.61 123.50,451.42 123.85,381.06 124.20,375.40 124.55,377.70 124.90,373.65 125.25,364.82 125.60,359.04 125.95,352.85 126.30,360.65 126.65,360.00 127.00,369.02 127.35,371.73 127.70,373.75 128.05,382.42 128.40,368.82 128.75,376.22 129.10,375.98 129.45,382.21 129.80,373.98 130.15,374.19 130.50,375.78 130.85,371.94 131.20,365.39 131.55,366.21 131.90,362.52 132.25,352.42 132.60,353.09 132.95,355.00 133.30,350.11 133.65,363.39 134.00,369.33 134.35,370.62 134.70,373.83 135.05,372.06 135.40,372.23 135.75,374.75 136.10,373.25 136.45,371.11 136.80,370.33 137.15,368.52 137.50,365.24 137.85,361.62 138.20,354.03 138.55,350.90 138.90,348.08 139.25,347.33 139.60,362.26 139.95,360.58 140.30,355.05 140.65,374.19 141.00,364.61 141.35,375.99 141.70,369.19 142.05,365.01 142.40,365.37 142.75,373.12 143.10,374.11 143.45,426.29 143.80,422.50 144.15,364.72 144.50,357.05 144.85,349.10 145.20,341.63 145.55,337.10 145.90,340.40 146.25,353.84 146.60,352.10 146.95,372.51 147.30,362.41 147.65,369.91 148.00,369.07 148.35,370.22 148.70,369.68 149.05,368.42 149.40,369.08 149.75,371.39 150.10,364.20 150.45,366.38 150.80,354.99 151.15,350.73 151.50,344.92 151.85,338.01 152.20,338.57 152.55,350.44 152.90,355.13 153.25,354.72 153.60,366.84 153.95,368.55 154.30,365.98 154.65,370.75 155.00,374.84 155.35,372.14 155.70,365.27 156.05,363.98 156.40,363.36 156.75,362.00 157.10,364.09 157.45,352.21 157.80,344.07 158.15,343.89 158.50,334.88 158.85,342.29 159.20,348.17 159.55,355.64 159.90,366.60 160.25,359.16 160.60,367.81 160.95,365.61 161.30,366.99 161.65,363.82 162.00,363.81 162.35,364.98 162.70,359.95 163.05,362.57 163.40,361.81 163.75,363.70 164.10,347.72 164.45,339.13 164.80,336.76 165.15,339.85 165.50,341.79 165.85,347.38 166.20,350.12 166.55,356.61 166.90,365.23 167.25,363.23 167.60,369.00 167.95,362.21 168.30,363.45 168.65,366.60 169.00,364.79 169.35,364.75 169.70,364.86 170.05,356.04 170.40,345.47 170.75,346.71 171.10,340.20 171.45,336.98 171.80,337.55 172.15,334.30 172.50,351.12 172.85,354.93 173.20,360.78 173.55,360.97 173.90,364.24 174.25,362.50 174.60,368.74 174.95,364.92 175.30,360.04 175.65,367.84 176.00,366.16 176.35,358.17 176.70,358.20 177.05,350.34 177.40,355.02 177.75,340.10 178.10,340.51 178.45,338.70 178.80,337.81 179.15,343.84 179.50,361.23 179.85,364.50 180.20,365.15 180.55,364.58 180.90,368.89 181.25,357.14 181.60,362.66 181.95,365.74 182.30,366.07 182.65,356.12 183.00,355.33 183.35,362.00 183.70,354.49 184.05,344.88 184.40,347.48 184.75,343.83 185.10,341.79 185.45,354.47 185.80,358.80 186.15,437.74 186.50,427.08 186.85,361.81 187.20,367.20 187.55,368.93 187.90,366.73 188.25,358.78 188.60,363.99 188.95,366.15 189.30,362.77 189.65,359.55 190.00,356.09 190.35,357.43 190.70,345.39 191.05,342.39 191.40,337.48 191.75,347.35 192.10,346.82 192.45,358.91 192.80,367.10 193.15,359.21 193.50,366.04 193.85,363.35 194.20,365.22 194.55,361.08 194.90,361.01 195.25,360.83 195.60,361.62 195.95,367.78 196.30,364.33 196.65,352.61 197.00,348.94 197.35,339.44 197.70,341.10 198.05,351.26 198.40,355.79 198.75,360.64 199.10,363.40 199.45,417.72 199.80,412.89 200.15,360.15 200.50,367.94 200.85,366.62 201.20,359.58 201.55,361.67 201.90,363.40 202.25,370.83 202.60,364.24 202.95,356.85 203.30,354.77 203.65,340.41 204.00,342.46 204.35,342.76 204.70,353.70 205.05,360.17 205.40,363.49 205.75,365.86 206.10,365.64 206.45,364.05 206.80,364.71 207.15,362.27 207.50,370.16 207.85,364.93 208.20,364.54 208.55,359.06 208.90,362.87 209.25,356.52 209.60,353.52 209.95,342.88 210.30,340.69 210.65,347.87 211.00,351.55 211.35,354.63 211.70,357.06 212.05,367.32 212.40,362.82 212.75,367.96 213.10,360.92 213.45,362.57 213.80,368.90 214.15,369.71 214.50,359.35 214.85,364.96 215.20,363.97 215.55,364.89 215.90,360.31 216.25,352.77 216.60,348.24 216.95,351.88 217.30,347.38 217.65,355.49 218.00,365.00 218.35,362.41 218.70,412.13 219.05,409.82 219.40,371.25 219.75,368.29 220.10,374.97 220.45,368.54 220.80,375.12 221.15,369.23 221.50,376.73 221.85,364.62 222.20,355.76 222.55,350.58 222.90,347.49 223.25,353.94 223.60,343.82 223.95,345.73 224.30,361.67 224.65,368.17 225.00,372.01 225.35,371.86 225.70,370.60 226.05,378.25 226.40,368.34 226.75,371.79 227.10,375.03 227.45,369.69 227.80,373.19 228.15,364.94 228.50,361.16 228.85,355.68 229.20,343.55 229.55,346.92 229.90,355.73 230.25,365.22 230.60,365.22 230.95,361.55 231.30,367.49 231.65,362.83 232.00,370.23 232.35,373.26 232.70,373.58 233.05,376.85 233.40,371.79 233.75,371.91 234.10,377.57 234.45,453.19 234.80,439.84 235.15,373.14 235.50,366.94 235.85,360.14 236.20,354.92 236.55,355.77 236.90,367.94 237.25,373.57 237.60,368.86 237.95,374.37 238.30,372.91 238.65,365.11 239.00,377.24 239.35,374.11 239.70,380.43 240.05,379.04 240.40,377.95 240.75,370.14 241.10,366.28 241.45,363.40 241.80,365.80 242.15,361.39 242.50,361.26 242.85,353.52 243.20,348.54 243.55,353.91 243.90,364.33 244.25,365.63 244.60,373.41 244.95,370.63 245.30,374.47 245.65,440.67 246.00,429.19 246.35,363.87 246.70,365.66 247.05,374.83 247.40,372.57 247.75,372.93 248.10,359.59 248.45,353.30 248.80,348.64 249.15,356.32 249.50,363.51 249.85,355.33 250.20,345.26 250.55,351.50 250.90,357.19 251.25,364.56 251.60,368.30 251.95,360.95 252.30,354.86 252.65,353.19 253.00,356.84 253.35,361.26 253.70,365.88 254.05,355.67 254.40,346.46 254.75,339.24 255.10,346.51 255.45,363.58 255.80,347.48 256.15,334.25 256.50,421.90 256.85,411.12 257.20,358.72 257.55,354.90 257.90,350.94 258.25,343.62 258.60,343.15 258.95,356.91 259.30,360.61 259.65,362.11 260.00,348.19 260.35,415.80 260.70,405.75 261.05,341.67 261.40,358.01 261.75,354.60 262.10,323.66 262.45,324.45 262.80,335.71 263.15,350.65 263.50,354.96 263.85,345.03 264.20,337.23 264.55,342.68 264.90,349.75 265.25,343.78 265.60,348.46 265.95,336.28 266.30,341.65 266.65,354.77 267.00,357.02 267.35,342.50 267.70,337.89 268.05,326.15 268.40,341.23 268.75,353.36 269.10,349.45 269.45,337.03 269.80,325.20 270.15,332.33 270.50,337.79 270.85,351.25 271.20,351.33 271.55,349.87 271.90,338.04 272.25,337.71 272.60,342.61 272.95,345.00 273.30,348.75 273.65,343.05 274.00,334.89 274.35,326.93 274.70,343.47 275.05,343.97 275.40,348.60 275.75,342.95 276.10,322.95 276.45,330.34 276.80,333.83 277.15,350.30 277.50,344.56 277.85,338.80 278.20,331.50 278.55,327.74 278.90,341.74 279.25,350.28 279.60,347.47 279.95,332.81 280.30,319.42 280.65,386.24 281.00,381.95 281.35,349.51 281.70,340.69 282.05,324.49 282.40,319.69 282.75,327.64 283.10,333.68 283.45,345.26 283.80,343.30 284.15,347.98 284.50,336.68 284.85,333.23 285.20,334.28 285.55,337.68 285.90,341.31 286.25,341.97 286.60,338.66 286.95,326.55 287.30,316.10 287.65,324.47 288.00,340.68 288.35,343.83 288.70,340.63 289.05,322.65 289.40,392.26 289.75,385.29 290.10,338.76 290.45,341.01 290.80,341.97 291.15,327.30 291.50,338.56 291.85,342.13 292.20,342.61 292.55,340.17 292.90,325.50 293.25,325.66 293.60,325.96 293.95,331.53 294.30,340.26 294.65,337.37 295.00,324.40 295.35,316.01 295.70,324.28 296.05,336.59 296.40,336.95 296.75,335.23 297.10,321.43 297.45,327.03 297.80,326.73 298.15,341.54 298.50,341.83 298.85,328.25 299.20,326.63 299.55,330.64 299.90,335.28 300.25,334.44 300.60,334.47 300.95,315.49 301.30,313.72 301.65,316.04 302.00,328.52 302.35,338.21 302.70,326.51 303.05,321.37 303.40,327.51 303.75,381.22 304.10,376.19 304.45,327.30 304.80,341.35 305.15,343.44 305.50,336.12 305.85,323.55 306.20,332.73 306.55,340.27 306.90,338.83 307.25,339.95 307.60,317.02 307.95,310.73 308.30,335.85 308.65,330.49 309.00,339.11 309.35,332.65 309.70,331.68 310.05,325.65 310.40,322.72 310.75,327.72 311.10,334.51 311.45,337.41 311.80,334.39 312.15,320.44 312.50,329.15 312.85,330.95 313.20,334.30 313.55,320.74 313.90,312.04 314.25,315.50 314.60,335.37 314.95,338.25 315.30,320.48 315.65,314.09 316.00,378.19 316.35,372.99 316.70,332.38 317.05,330.94 317.40,403.13 317.75,390.34 318.10,331.59 318.45,338.53 318.80,329.55 319.15,315.94 319.50,313.77 319.85,322.67 320.20,320.66 320.55,333.22 320.90,403.42 321.25,390.27 321.60,316.59 321.95,324.94 322.30,337.78 322.65,330.38 323.00,329.81 323.35,316.33 323.70,321.01 324.05,328.63 324.40,331.05 324.75,329.63 325.10,316.55 325.45,327.13 325.80,338.59 326.15,320.81 326.50,296.71 326.85,320.75 327.20,330.32 327.55,336.62 327.90,323.33 328.25,314.48 328.60,313.00 328.95,327.91 329.30,338.63 329.65,328.92 330.00,321.13 330.35,320.99 330.70,324.54 331.05,332.85 331.40,333.01 331.75,330.33 332.10,320.42 332.45,309.76 332.80,312.94 333.15,308.26 333.50,334.75 333.85,326.35 334.20,323.16 334.55,319.92 334.90,315.14 335.25,311.95 335.60,322.28 335.95,330.32 336.30,329.32 336.65,323.11 337.00,316.93 337.35,318.69 337.70,326.24 338.05,333.79 338.40,329.89 338.75,315.83 339.10,306.93 339.45,309.63 339.80,335.81 340.15,322.41 340.50,300.72 340.85,307.77 341.20,324.87 341.55,332.89 341.90,327.04 342.25,311.72 342.60,318.89 342.95,325.05 343.30,333.34 343.65,326.33 344.00,313.91 344.35,321.40 344.70,323.05 345.05,332.99 345.40,318.11 345.75,303.52 346.10,314.00 346.45,331.27 346.80,328.12 347.15,304.66 347.50,303.52 347.85,315.81 348.20,329.22 348.55,331.41 348.90,333.49 349.25,323.86 349.60,320.52 349.95,312.86 350.30,328.16 350.65,330.19 351.00,323.76 351.35,313.26 351.70,316.75 352.05,324.39 352.40,327.84 352.75,332.41 353.10,306.07 353.45,292.14 353.80,310.18 354.15,315.58 354.50,331.16 354.85,329.61 355.20,324.83 355.55,309.57 355.90,314.07 356.25,319.57 356.60,325.09 356.95,334.17 357.30,330.46 357.65,316.85 358.00,312.39 358.35,313.41 358.70,316.83 359.05,326.26 359.40,336.39 359.75,311.52 360.10,298.81 360.45,322.38 360.80,324.34 361.15,334.46 361.50,322.16 361.85,307.18 362.20,319.82 362.55,330.36 362.90,332.93 363.25,325.49 363.60,317.54 363.95,318.43 364.30,313.31 364.65,325.78 365.00,329.44 365.35,328.24 365.70,312.80 366.05,290.35 366.40,384.03 366.75,373.62 367.10,330.73 367.45,323.36 367.80,314.89 368.15,307.36 368.50,321.47 368.85,324.96 369.20,322.61 369.55,320.65 369.90,299.68 370.25,314.71 370.60,330.17 370.95,330.06 371.30,310.05 371.65,295.86 372.00,383.34 372.35,372.81 372.70,311.93 373.05,304.54 373.40,300.88 373.75,304.76 374.10,318.24 374.45,326.73 374.80,327.55 375.15,309.95 375.50,313.92 375.85,317.80 376.20,320.69 376.55,324.91 376.90,313.83 377.25,306.41 377.60,307.62 377.95,320.06 378.30,332.55 378.65,312.71 379.00,315.14 379.35,297.00 379.70,295.61 380.05,319.82 380.40,326.10 380.75,315.02 381.10,306.21 381.45,306.76 381.80,321.81 382.15,326.29 382.50,322.54 382.85,314.28 383.20,306.31 383.55,312.07 383.90,319.51 384.25,327.16 384.60,308.99 384.95,302.02 385.30,315.75 385.65,316.58 386.00,310.95 386.35,301.46 386.70,303.11 387.05,318.52 387.40,322.47 387.75,312.70 388.10,304.47 388.45,375.17 388.80,366.20 389.15,317.98 389.50,314.35 389.85,301.10 390.20,307.19 390.55,326.03 390.90,318.54 391.25,308.46 391.60,297.40 391.95,288.73 392.30,305.04 392.65,320.80 393.00,320.44 393.35,306.82 393.70,302.05 394.05,324.03 394.40,317.23 394.75,323.50 395.10,311.30 395.45,303.74 395.80,307.07 396.15,316.52 396.50,322.28 396.85,318.41 397.20,305.51 397.55,293.73 397.90,306.07 398.25,322.25 398.60,315.35 398.95,306.91 399.30,286.86 399.65,297.37 400.00,308.74 400.35,317.30 400.70,318.88 401.05,310.16 401.40,308.69 401.75,313.08 402.10,321.98 402.45,315.04 402.80,311.25 403.15,303.56 403.50,308.54 403.85,316.53 404.20,319.74 404.55,312.83 404.90,294.38 405.25,287.40 405.60,379.19 405.95,368.22 406.30,323.47 406.65,308.80 407.00,301.42 407.35,314.76 407.70,321.95 408.05,304.08 408.40,307.58 408.75,306.75 409.10,324.62 409.45,314.49 409.80,303.28 410.15,305.83 410.50,310.90 410.85,318.98 411.20,318.86 411.55,300.69 411.90,284.99 412.25,296.41 412.60,317.71 412.95,320.25 413.30,315.29 413.65,307.91 414.00,301.44 414.35,301.12 414.70,307.65 415.05,324.57 415.40,320.14 415.75,309.95 416.10,299.35 416.45,320.58 416.80,317.62 417.15,315.76 417.50,310.02 417.85,294.57 418.20,291.37 418.55,308.52 418.90,323.29 419.25,313.69 419.60,302.70 419.95,301.94 420.30,300.83 420.65,303.05 421.00,317.55 421.35,316.72 421.70,304.23 422.05,299.20 422.40,315.34 422.75,315.32 423.10,306.85 423.45,293.66 423.80,348.94 424.15,346.33 424.50,297.39 424.85,287.30 425.20,288.58 425.55,295.77 425.90,306.92 426.25,310.90 426.60,306.61 426.95,304.51 427.30,306.67 427.65,306.69 428.00,317.50 428.35,313.30 428.70,310.56 429.05,295.92 429.40,363.21 429.75,356.11 430.10,313.56 430.45,316.86 430.80,312.20 431.15,293.89 431.50,288.04 431.85,291.96 432.20,307.54 432.55,309.74 432.90,302.97 433.25,301.50 433.60,303.68 433.95,296.84 434.30,309.75 434.65,315.73 435.00,316.19 435.35,306.38 435.70,293.05 436.05,300.01 436.40,308.83 436.75,314.94 437.10,304.95 437.45,296.86 437.80,295.94 438.15,305.25 438.50,315.83 438.85,310.84 439.20,303.16 439.55,301.26 439.90,306.17 440.25,311.50 440.60,320.26 440.95,315.19 441.30,301.44 441.65,299.10 442.00,303.81 442.35,310.39 442.70,312.36 443.05,291.71 443.40,294.38 443.75,297.11 444.10,315.73 444.45,300.34 444.80,283.47 445.15,291.01 445.50,306.96 445.85,314.50 446.20,310.10 446.55,306.81 446.90,302.78 447.25,304.09 447.60,310.49 447.95,308.05 448.30,303.38 448.65,298.44 449.00,299.71 449.35,310.31 449.70,313.57 450.05,290.18 450.40,286.20 450.75,302.05 451.10,311.90 451.45,296.38 451.80,293.51 452.15,307.77 452.50,308.78 452.85,305.13 453.20,302.08 453.55,292.15 453.90,301.51 454.25,309.08 454.60,315.07 454.95,311.93 455.30,306.74 455.65,295.38 456.00,291.78 456.35,304.98 456.70,315.99 457.05,296.99 457.40,287.45 457.75,290.20 458.10,300.92 458.45,311.49 458.80,313.06 459.15,301.08 459.50,296.63 459.85,368.82 460.20,358.87 460.55,313.39 460.90,306.35 461.25,293.26 461.60,289.12 461.95,305.58 462.30,310.27 462.65,309.65 463.00,291.27 463.35,280.36 463.70,289.97 464.05,302.08 464.40,306.78 464.75,293.87 465.10,295.02 465.45,295.79 465.80,296.42 466.15,313.36 466.50,314.07 466.85,300.48 467.20,298.61 467.55,301.38 467.90,304.56 468.25,314.17 468.60,304.38 468.95,286.47 469.30,291.02 469.65,286.08 470.00,310.74 470.35,306.78 470.70,282.25 471.05,290.79 471.40,301.05 471.75,303.94 472.10,303.45 472.45,299.70 472.80,301.41 473.15,298.67 473.50,299.80 473.85,309.07 474.20,304.02 474.55,297.55 474.90,288.87 475.25,285.90 475.60,302.66 475.95,305.82 476.30,294.08 476.65,281.01 477.00,285.94 477.35,301.87 477.70,307.96 478.05,308.99 478.40,306.52 478.75,296.02 479.10,293.46 479.45,297.82 479.80,309.31 480.15,307.51 480.50,298.87 480.85,294.90 481.20,297.13 481.55,306.28 481.90,303.02 482.25,307.05 482.60,287.45 482.95,279.93 483.30,307.14 483.65,300.36 484.00,302.98 484.35,293.78 484.70,289.57 485.05,297.65 485.40,311.30 485.75,307.60 486.10,303.85 486.45,294.50 486.80,304.33 487.15,306.53 487.50,305.98 487.85,297.79 488.20,289.08 488.55,300.08 488.90,310.15 489.25,306.14 489.60,284.12 489.95,281.49 490.30,284.67 490.65,300.77 491.00,305.99 491.35,306.06 491.70,293.90 492.05,293.53 492.40,305.27 492.75,303.43 493.10,291.73 493.45,295.58 493.80,300.22 494.15,311.57 494.50,298.95 494.85,295.20 495.20,292.02 495.55,288.36 495.90,361.48 496.25,352.27 496.60,302.78 496.95,293.53 497.30,291.55 497.65,291.65 498.00,298.12 498.35,305.34 498.70,297.48 499.05,291.51 499.40,297.71 499.75,303.80 500.10,311.46 500.45,299.70 500.80,291.23 501.15,289.08 501.50,289.24 501.85,304.03 502.20,302.60 502.55,278.90 502.90,273.97 503.25,287.97 503.60,308.44 503.95,299.25 504.30,295.25 504.65,294.47 505.00,286.93 505.35,305.53 505.70,307.41 506.05,304.23 506.40,300.95 506.75,295.77 507.10,281.08 507.45,293.14 507.80,302.29 508.15,298.83 508.50,288.92 508.85,282.04 509.20,300.82 509.55,301.95 509.90,302.66 510.25,358.37 510.60,349.49 510.95,302.69 511.30,307.23 511.65,287.77 512.00,298.64 512.35,304.45 512.70,313.43 513.05,300.35 513.40,286.64 513.75,289.45 514.10,299.28 514.45,306.17 514.80,294.28 515.15,276.73 515.50,281.40 515.85,296.78 516.20,305.45 516.55,293.34 516.90,286.81 517.25,285.63 517.60,298.72 517.95,301.47 518.30,293.54 518.65,285.53 519.00,299.88 519.35,296.79 519.70,298.36 520.05,284.16 520.40,288.35 520.75,284.28 521.10,298.52 521.45,302.65 521.80,283.85 522.15,281.61 522.50,282.65 522.85,298.47 523.20,298.47 523.55,287.00 523.90,292.28 524.25,301.70 524.60,309.11 524.95,301.20 525.30,289.53 525.65,291.12 526.00,291.76 526.35,299.26 526.70,299.18 527.05,289.30 527.40,287.90 527.75,295.42 528.10,306.56 528.45,306.73 528.80,275.82 529.15,277.99 529.50,294.08 529.85,297.14 530.20,293.35 530.55,285.73 530.90,292.14 531.25,298.54 531.60,295.61 531.95,296.61 532.30,291.82 532.65,284.30 533.00,296.13 533.35,295.59 533.70,302.77 534.05,291.51 534.40,276.19 534.75,268.48 535.10,285.38 535.45,299.56 535.80,297.96 536.15,283.65 536.50,285.53 536.85,292.35 537.20,307.15 537.55,295.80 537.90,351.75 538.25,343.71 538.60,301.81 538.95,295.13 539.30,292.20 539.65,287.79 540.00,293.99 540.35,291.80 540.70,300.06 541.05,295.66 541.40,267.36 541.75,271.51 542.10,292.76 542.45,303.08 542.80,289.96 543.15,284.43 543.50,284.59 543.85,298.92 544.20,297.04 544.55,286.68 544.90,284.65 545.25,302.79 545.60,297.90 545.95,290.12 546.30,281.29 546.65,281.78 547.00,287.74 547.35,299.29 547.70,291.80 548.05,273.92 548.40,265.59 548.75,272.90 549.10,285.57 549.45,297.99 549.80,301.24 550.15,298.18 550.50,289.61 550.85,286.57 551.20,284.72 551.55,295.41 551.90,303.16 552.25,307.30 552.60,292.66 552.95,277.53 553.30,288.22 553.65,298.51 554.00,296.01 554.35,275.75 554.70,281.83 555.05,296.99 555.40,305.02 555.75,290.86 556.10,281.14 556.45,281.75 556.80,292.64 557.15,303.59 557.50,292.99 557.85,287.53 558.20,284.02 558.55,288.65 558.90,299.25 559.25,301.66 559.60,295.90 559.95,289.95 560.30,272.22 560.65,278.87 561.00,290.16 561.35,304.98 561.70,283.78 562.05,280.02 562.40,282.69 562.75,293.34 563.10,301.53 563.45,295.50 563.80,280.21 564.15,285.23 564.50,292.14 564.85,295.53 565.20,296.75 565.55,289.20 565.90,282.15 566.25,279.41 566.60,297.34 566.95,290.06 567.30,280.09 567.65,272.16 568.00,277.02 568.35,301.39 568.70,293.61 569.05,358.90 569.40,348.04 569.75,279.73 570.10,284.08 570.45,294.63 570.80,299.97 571.15,287.00 571.50,285.38 571.85,288.21 572.20,292.61 572.55,297.63 572.90,284.51 573.25,270.51 573.60,273.01 573.95,288.26 574.30,293.91 574.65,284.58 575.00,272.88 575.35,290.28 575.70,296.73 576.05,291.34 576.40,277.36 576.75,289.21 577.10,303.97 577.45,296.14 577.80,286.45 578.15,285.92 578.50,285.95 578.85,297.32 579.20,294.51 579.55,266.55 579.90,264.44 580.25,279.64 580.60,297.35 580.95,295.99 581.30,273.88 581.65,274.21 582.00,290.05 582.35,293.33 582.70,293.44 583.05,285.49 583.40,284.00 583.75,289.97 584.10,297.99 584.45,295.66 584.80,294.77 585.15,284.48 585.50,280.94 585.85,286.99 586.20,293.80 586.55,284.00 586.90,272.62 587.25,271.95 587.60,275.64 587.95,283.27 588.30,295.91 588.65,281.73 589.00,279.50 589.35,279.56 589.70,298.00 590.05,290.22 590.40,292.56 590.75,280.08 591.10,285.32 591.45,301.14 591.80,299.95 592.15,278.96 592.50,336.49 592.85,332.02 593.20,278.12 593.55,305.96 593.90,289.82 594.25,279.87 594.60,279.06 594.95,282.31 595.30,289.09 595.65,299.60 596.00,289.82 596.35,284.65 596.70,284.13 597.05,282.51 597.40,284.17 597.75,293.76 598.10,294.11 598.45,290.40 598.80,276.42 599.15,275.24 599.50,292.62 599.85,293.21 600.20,281.53 600.55,274.44 600.90,285.17 601.25,289.15 601.60,288.18 601.95,288.10 602.30,282.29 602.65,284.88 603.00,283.58 603.35,289.32 603.70,290.60 604.05,288.00 604.40,285.29 604.75,276.47 605.10,290.28 605.45,290.59 605.80,292.14 606.15,273.59 606.50,264.04 606.85,283.95 607.20,297.27 607.55,293.39 607.90,286.70 608.25,278.59 608.60,293.78 608.95,290.60 609.30,280.99 609.65,275.30 610.00,293.51 610.35,291.05 610.70,297.26 611.05,285.62 611.40,280.72 611.75,278.99 612.10,290.24 612.45,293.85 612.80,286.74 613.15,277.90 613.50,272.84 613.85,286.50 614.20,286.58 614.55,283.49 614.90,278.23 615.25,291.32 615.60,293.28 615.95,290.98 616.30,288.45 616.65,284.24 617.00,279.42 617.35,285.59 617.70,291.78 618.05,296.25 618.40,283.70 618.75,267.83 619.10,276.23 619.45,289.23 619.80,291.00 620.15,285.24 620.50,274.80 620.85,278.75 621.20,293.48 621.55,295.86 621.90,293.20 622.25,281.26 622.60,275.98 622.95,363.77 623.30,350.42 623.65,299.22 624.00,290.22 624.35,276.50 624.70,273.02 625.05,284.61 625.40,295.83 625.75,288.60 626.10,276.21 626.45,279.09 626.80,278.59 627.15,287.33 627.50,292.70 627.85,290.02 628.20,273.24 628.55,278.56 628.90,283.95 629.25,286.11 629.60,292.40 629.95,342.55 630.30,335.39 630.65,280.73 631.00,292.64 631.35,290.48 631.70,284.17 632.05,261.94 632.40,281.25 632.75,283.52 633.10,295.32 633.45,283.04 633.80,275.38 634.15,281.76 634.50,284.61 634.85,295.86 635.20,283.51 635.55,275.48 635.90,279.02 636.25,279.00 636.60,292.96 636.95,292.07 637.30,272.78 637.65,271.51 638.00,276.93 638.35,290.42 638.70,270.93 639.05,260.05 639.40,266.60 639.75,284.25 640.10,292.53 640.45,292.72 640.80,281.12 641.15,273.05 641.50,341.65 641.85,334.48 642.20,296.46 642.55,288.39 642.90,279.87 643.25,280.76 643.60,291.94 643.95,293.48 644.30,286.05 644.65,274.45 645.00,264.73 645.35,263.18 645.70,270.26 646.05,285.96 646.40,288.99 646.75,282.83 647.10,274.42 647.45,290.75 647.80,295.08 648.15,285.10 648.50,291.04 648.85,279.29 649.20,278.01 649.55,291.44 649.90,292.68 650.25,279.54 650.60,282.98 650.95,295.84 651.30,291.38 651.65,279.71 652.00,263.10 652.35,265.44 652.70,278.83 653.05,297.10 653.40,291.30 653.75,282.24 654.10,279.66 654.45,281.85 654.80,298.07 655.15,290.98 655.50,289.11 655.85,275.43 656.20,275.93 656.55,271.42 656.90,282.27 657.25,291.16 657.60,289.70 657.95,276.07 658.30,261.51 658.65,265.92 659.00,291.91 659.35,288.70 659.70,278.98 660.05,274.27 660.40,278.37 660.75,286.71 661.10,290.87 661.45,288.67 661.80,280.33 662.15,281.93 662.50,292.12 662.85,295.33 663.20,274.37 663.55,273.84 663.90,280.65 664.25,287.14 664.60,267.94 664.95,260.17 665.30,282.59 665.65,294.95 666.00,285.94 666.35,274.75 666.70,272.04 667.05,287.37 667.40,289.77 667.75,289.38 668.10,280.14 668.45,273.13 668.80,281.02 669.15,285.25 669.50,292.47 669.85,283.13 670.20,269.23 670.55,293.76 670.90,294.51 671.25,269.62 671.60,263.41 671.95,284.00 672.30,296.40 672.65,295.33 673.00,280.30 673.35,276.19 673.70,284.94 674.05,291.42 674.40,335.98 674.75,330.02 675.10,279.99 675.45,281.56 675.80,292.80 676.15,277.70 676.50,266.23 676.85,277.12 677.20,288.02 677.55,290.34 677.90,275.29"/>
<polyline stroke="#0000ff" stroke-width="1.6" points="45.10,352.88 45.45,352.86 45.80,352.79 46.15,352.65 46.50,352.43 46.85,352.12 47.20,351.70 47.55,348.57 47.90,341.21 48.25,330.94 48.60,325.22 48.95,333.37 49.30,347.04 49.65,364.89 50.00,377.82 50.35,381.45 50.70,383.55 51.05,386.37 51.40,392.03 51.75,401.46 52.10,421.04 52.45,427.27 52.80,409.70 53.15,398.02 53.50,390.94 53.85,387.52 54.20,384.92 54.55,383.43 54.90,383.98 55.25,387.84 55.60,394.34 55.95,402.39 56.30,410.53 56.65,417.01 57.00,418.61 57.35,413.65 57.70,406.16 58.05,398.02 58.40,390.84 58.75,385.97 59.10,384.29 59.45,386.19 59.80,391.39 60.15,399.07 60.50,407.91 60.85,416.24 61.20,422.06 61.55,420.90 61.90,414.42 62.25,405.99 62.60,397.47 62.95,390.50 63.30,386.38 63.65,385.89 64.00,389.19 64.35,395.79 64.70,404.62 65.05,414.15 65.40,422.49 65.75,427.10 66.10,423.12 66.45,415.31 66.80,406.08 67.15,397.38 67.50,390.86 67.85,387.75 68.20,388.70 68.55,393.66 68.90,401.88 69.25,412.02 69.60,422.25 69.95,430.38 70.30,432.32 70.65,426.14 71.00,416.85 71.35,406.76 71.70,397.90 72.05,391.93 72.40,389.97 72.75,392.45 73.10,399.04 73.45,408.67 73.80,419.66 74.15,429.92 74.50,436.93 74.85,435.14 75.20,426.89 75.55,416.30 75.90,405.70 76.25,397.09 76.60,392.03 76.95,392.02 77.30,396.48 77.65,404.14 78.00,413.19 78.35,422.15 78.70,430.50 79.05,435.36 79.40,433.22 79.75,428.06 80.10,417.10 80.45,408.23 80.80,400.48 81.15,391.93 81.50,393.23 81.85,401.59 82.20,411.23 82.55,423.76 82.90,430.45 83.25,435.56 83.60,429.28 83.95,420.71 84.30,410.06 84.65,407.26 85.00,407.98 85.35,414.76 85.70,415.14 86.05,414.48 86.40,409.78 86.75,401.48 87.10,400.23 87.45,411.35 87.80,433.65 88.15,440.24 88.50,435.18 88.85,426.94 89.20,410.93 89.55,466.37 89.90,456.81 90.25,410.31 90.60,422.59 90.95,433.17 91.30,437.78 91.65,421.20 92.00,401.76 92.35,397.69 92.70,395.03 93.05,415.48 93.40,435.85 93.75,437.65 94.10,437.58 94.45,427.44 94.80,412.94 95.15,402.36 95.50,397.37 95.85,402.55 96.20,405.64 96.55,426.19 96.90,437.99 97.25,437.00 97.60,429.01 97.95,419.66 98.30,405.33 98.65,390.17 99.00,402.22 99.35,424.11 99.70,445.14 100.05,423.05 100.40,398.19 100.75,385.95 101.10,396.43 101.45,402.26 101.80,423.91 102.15,434.62 102.50,429.71 102.85,410.86 103.20,402.00 103.55,393.74 103.90,401.95 104.25,420.62 104.60,424.69 104.95,421.94 105.30,423.22 105.65,405.46 106.00,393.33 106.35,387.00 106.70,390.48 107.05,406.02 107.40,418.24 107.75,424.47 108.10,418.56 108.45,409.12 108.80,395.20 109.15,394.37 109.50,406.08 109.85,417.46 110.20,422.89 110.55,419.66 110.90,400.53 111.25,401.28 111.60,386.56 111.95,394.62 112.30,402.71 112.65,405.16 113.00,408.05 113.35,405.63 113.70,398.70 114.05,386.78 114.40,390.76 114.75,394.84 115.10,400.08 115.45,406.01 115.80,407.66 116.15,395.92 116.50,393.19 116.85,392.03 117.20,388.56 117.55,390.29 117.90,395.00 118.25,400.31 118.60,389.28 118.95,378.57 119.30,374.42 119.65,384.00 120.00,386.49 120.35,387.70 120.70,390.78 121.05,390.09 121.40,386.50 121.75,392.00 122.10,389.81 122.45,388.18 122.80,382.06 123.15,387.94 123.50,383.49 123.85,393.18 124.20,383.61 124.55,380.25 124.90,377.02 125.25,381.90 125.60,372.20 125.95,381.45 126.30,374.51 126.65,374.46 127.00,381.28 127.35,453.99 127.70,445.61 128.05,381.22 128.40,386.22 128.75,380.54 129.10,385.37 129.45,381.18 129.80,385.05 130.15,388.47 130.50,378.15 130.85,381.59 131.20,378.30 131.55,375.52 131.90,374.18 132.25,373.79 132.60,449.71 132.95,441.08 133.30,373.77 133.65,378.15 134.00,378.00 134.35,373.76 134.70,374.77 135.05,434.36 135.40,429.68 135.75,376.26 136.10,376.04 136.45,377.48 136.80,375.52 137.15,377.04 137.50,371.43 137.85,368.63 138.20,364.08 138.55,361.56 138.90,362.55 139.25,370.10 139.60,374.20 139.95,372.42 140.30,375.53 140.65,372.83 141.00,377.79 141.35,377.33 141.70,380.16 142.05,376.09 142.40,376.88 142.75,371.71 143.10,374.95 143.45,369.94 143.80,375.51 144.15,376.08 144.50,364.65 144.85,364.16 145.20,358.12 145.55,364.99 145.90,370.32 146.25,362.82 146.60,369.88 146.95,374.57 147.30,366.34 147.65,373.39 148.00,376.20 148.35,372.20 148.70,375.04 149.05,375.89 149.40,371.69 149.75,372.54 150.10,372.69 150.45,370.77 150.80,421.74 151.15,418.23 151.50,355.08 151.85,360.80 152.20,358.73 152.55,358.58 152.90,368.31 153.25,371.91 153.60,374.16 153.95,373.12 154.30,369.16 154.65,372.14 155.00,367.75 155.35,373.56 155.70,365.96 156.05,371.86 156.40,370.06 156.75,367.30 157.10,365.43 157.45,361.25 157.80,354.57 158.15,353.14 158.50,350.68 158.85,358.57 159.20,364.55 159.55,371.15 159.90,366.73 160.25,372.68 160.60,368.87 160.95,370.02 161.30,369.94 161.65,371.03 162.00,368.36 162.35,368.48 162.70,364.47 163.05,369.85 163.40,368.84 163.75,369.00 164.10,355.49 164.45,363.10 164.80,358.33 165.15,360.32 165.50,368.36 165.85,368.30 166.20,365.40 166.55,368.88 166.90,373.52 167.25,369.16 167.60,364.75 167.95,368.53 168.30,367.87 168.65,365.48 169.00,362.54 169.35,369.10 169.70,370.48 170.05,367.29 170.40,366.52 170.75,368.10 171.10,363.43 171.45,365.07 171.80,357.84 172.15,363.48 172.50,373.95 172.85,370.93 173.20,367.78 173.55,371.46 173.90,372.47 174.25,371.71 174.60,372.67 174.95,368.01 175.30,371.47 175.65,372.82 176.00,366.79 176.35,372.66 176.70,366.19 177.05,366.19 177.40,359.42 177.75,357.43 178.10,360.49 178.45,361.46 178.80,357.79 179.15,369.10 179.50,361.15 179.85,366.41 180.20,364.69 180.55,371.67 180.90,366.61 181.25,369.48 181.60,363.45 181.95,371.42 182.30,365.59 182.65,370.70 183.00,362.60 183.35,366.07 183.70,364.71 184.05,359.66 184.40,352.70 184.75,345.57 185.10,359.72 185.45,363.94 185.80,366.53 186.15,368.27 186.50,368.66 186.85,364.68 187.20,370.82 187.55,374.93 187.90,367.74 188.25,371.51 188.60,370.76 188.95,369.15 189.30,363.11 189.65,362.01 190.00,362.23 190.35,360.49 190.70,354.34 191.05,354.87 191.40,358.76 191.75,359.73 192.10,359.63 192.45,369.24 192.80,370.63 193.15,364.91 193.50,365.13 193.85,365.14 194.20,372.59 194.55,368.39 194.90,365.52 195.25,366.39 195.60,370.20 195.95,367.40 196.30,365.35 196.65,361.49 197.00,355.30 197.35,354.68 197.70,359.69 198.05,356.87 198.40,361.58 198.75,361.39 199.10,369.89 199.45,368.66 199.80,377.22 200.15,367.44 200.50,368.10 200.85,367.19 201.20,369.87 201.55,369.84 201.90,369.98 202.25,365.29 202.60,371.60 202.95,366.90 203.30,362.98 203.65,365.55 204.00,367.96 204.35,367.21 204.70,366.35 205.05,363.41 205.40,371.28 205.75,414.54 206.10,410.79 206.45,370.62 206.80,368.74 207.15,371.13 207.50,370.94 207.85,377.01 208.20,368.36 208.55,372.66 208.90,365.10 209.25,370.57 209.60,356.36 209.95,355.63 210.30,360.63 210.65,355.03 211.00,360.22 211.35,365.55 211.70,372.96 212.05,363.92 212.40,373.70 212.75,369.22 213.10,380.84 213.45,370.83 213.80,371.34 214.15,373.09 214.50,368.86 214.85,374.38 215.20,369.50 215.55,368.19 215.90,363.09 216.25,364.11 216.60,358.04 216.95,360.85 217.30,365.41 217.65,368.17 218.00,372.85 218.35,374.98 218.70,374.83 219.05,373.42 219.40,378.85 219.75,375.47 220.10,370.29 220.45,373.04 220.80,378.08 221.15,370.30 221.50,378.58 221.85,372.18 222.20,365.80 222.55,363.82 222.90,360.28 223.25,362.65 223.60,367.10 223.95,365.37 224.30,372.13 224.65,370.78 225.00,379.40 225.35,380.25 225.70,378.29 226.05,382.42 226.40,378.89 226.75,379.08 227.10,379.79 227.45,372.53 227.80,369.85 228.15,375.14 228.50,374.22 228.85,366.67 229.20,369.08 229.55,378.01 229.90,376.85 230.25,376.96 230.60,377.98 230.95,376.65 231.30,380.51 231.65,374.82 232.00,434.41 232.35,426.42 232.70,383.38 233.05,381.13 233.40,372.79 233.75,379.47 234.10,376.19 234.45,375.80 234.80,384.23 235.15,374.89 235.50,368.94 235.85,367.00 236.20,382.01 236.55,381.22 236.90,385.33 237.25,374.24 237.60,382.79 237.95,376.48 238.30,383.72 238.65,382.27 239.00,386.58 239.35,383.23 239.70,378.59 240.05,373.55 240.40,372.54 240.75,377.89 241.10,385.13 241.45,378.15 241.80,380.70 242.15,367.31 242.50,363.53 242.85,367.71 243.20,371.05 243.55,381.93 243.90,381.63 244.25,381.68 244.60,376.25 244.95,373.00 245.30,370.21 245.65,375.73 246.00,374.32 246.35,377.44 246.70,383.73 247.05,374.07 247.40,367.87 247.75,368.10 248.10,365.80 248.45,368.07 248.80,375.06 249.15,372.82 249.50,366.83 249.85,363.99 250.20,363.18 250.55,375.89 250.90,370.74 251.25,377.04 251.60,371.93 251.95,364.27 252.30,360.84 252.65,370.53 253.00,372.52 253.35,369.72 253.70,359.65 254.05,361.62 254.40,359.48 254.75,371.40 255.10,372.36 255.45,368.83 255.80,358.28 256.15,352.51 256.50,358.53 256.85,365.20 257.20,374.78 257.55,362.09 257.90,360.39 258.25,354.82 258.60,364.95 258.95,366.84 259.30,365.84 259.65,355.41 260.00,352.78 260.35,351.46 260.70,364.75 261.05,365.64 261.40,359.84 261.75,345.07 262.10,341.22 262.45,354.34 262.80,364.27 263.15,365.57 263.50,352.10 263.85,354.07 264.20,361.05 264.55,362.85 264.90,364.25 265.25,357.34 265.60,352.37 265.95,346.27 266.30,356.87 266.65,361.56 267.00,365.66 267.35,355.20 267.70,346.64 268.05,349.30 268.40,349.08 268.75,372.24 269.10,363.17 269.45,345.09 269.80,346.35 270.15,356.56 270.50,367.81 270.85,361.32 271.20,352.71 271.55,342.14 271.90,350.46 272.25,350.39 272.60,349.57 272.95,364.81 273.30,356.77 273.65,350.08 274.00,338.63 274.35,353.30 274.70,362.35 275.05,363.96 275.40,347.65 275.75,340.95 276.10,341.48 276.45,348.20 276.80,354.60 277.15,363.18 277.50,359.20 277.85,351.03 278.20,346.90 278.55,350.60 278.90,352.08 279.25,355.44 279.60,354.32 279.95,344.80 280.30,343.12 280.65,415.47 281.00,402.41 281.35,354.46 281.70,349.31 282.05,332.63 282.40,331.56 282.75,341.07 283.10,359.11 283.45,357.28 283.80,350.03 284.15,350.20 284.50,343.43 284.85,340.09 285.20,339.98 285.55,352.39 285.90,354.77 286.25,347.44 286.60,340.02 286.95,344.28 287.30,351.12 287.65,356.00 288.00,340.48 288.35,337.66 288.70,335.37 289.05,341.78 289.40,353.59 289.75,350.01 290.10,347.26 290.45,340.40 290.80,337.52 291.15,351.06 291.50,355.45 291.85,348.41 292.20,340.01 292.55,337.12 292.90,338.50 293.25,357.73 293.60,351.51 293.95,342.58 294.30,324.00 294.65,335.40 295.00,345.43 295.35,353.50 295.70,335.86 296.05,333.93 296.40,328.75 296.75,343.76 297.10,350.96 297.45,351.02 297.80,351.34 298.15,340.34 298.50,330.76 298.85,337.25 299.20,347.86 299.55,347.88 299.90,348.66 300.25,337.85 300.60,326.58 300.95,324.01 301.30,341.59 301.65,345.79 302.00,352.57 302.35,334.04 302.70,335.48 303.05,339.23 303.40,351.49 303.75,399.22 304.10,388.79 304.45,338.20 304.80,331.65 305.15,328.90 305.50,343.57 305.85,347.41 306.20,338.33 306.55,326.75 306.90,330.93 307.25,334.99 307.60,349.53 307.95,341.88 308.30,323.64 308.65,339.85 309.00,338.18 309.35,347.59 309.70,340.93 310.05,340.96 310.40,329.32 310.75,329.66 311.10,339.07 311.45,339.20 311.80,350.96 312.15,343.55 312.50,333.05 312.85,333.51 313.20,390.04 313.55,381.53 313.90,336.17 314.25,316.98 314.60,329.39 314.95,348.53 315.30,338.62 315.65,331.53 316.00,336.47 316.35,335.98 316.70,351.68 317.05,348.95 317.40,339.79 317.75,331.72 318.10,338.12 318.45,345.60 318.80,346.53 319.15,337.20 319.50,322.21 319.85,328.51 320.20,341.95 320.55,340.67 320.90,332.46 321.25,326.71 321.60,334.59 321.95,343.43 322.30,345.41 322.65,345.63 323.00,331.63 323.35,326.08 323.70,347.59 324.05,350.07 324.40,346.54 324.75,340.02 325.10,335.61 325.45,327.07 325.80,332.20 326.15,346.90 326.50,346.55 326.85,339.33 327.20,319.18 327.55,317.39 327.90,329.97 328.25,338.75 328.60,348.92 328.95,338.97 329.30,328.92 329.65,331.59 330.00,347.49 330.35,343.70 330.70,340.88 331.05,368.35 331.40,364.96 331.75,344.49 332.10,342.47 332.45,337.96 332.80,320.75 333.15,326.73 333.50,339.29 333.85,338.52 334.20,319.38 334.55,321.62 334.90,340.09 335.25,339.03 335.60,327.25 335.95,329.17 336.30,332.67 336.65,329.91 337.00,337.94 337.35,344.91 337.70,337.11 338.05,326.12 338.40,326.28 338.75,340.56 339.10,399.33 339.45,386.08 339.80,336.57 340.15,318.62 340.50,312.37 340.85,329.98 341.20,388.19 341.55,378.14 341.90,334.63 342.25,330.67 342.60,327.37 342.95,328.01 343.30,340.98 343.65,338.90 344.00,342.31 344.35,329.21 344.70,328.41 345.05,336.72 345.40,342.29 345.75,334.92 346.10,315.29 346.45,313.99 346.80,329.16 347.15,341.10 347.50,321.16 347.85,321.62 348.20,332.51 348.55,339.75 348.90,341.29 349.25,341.98 349.60,338.72 349.95,333.47 350.30,330.14 350.65,326.91 351.00,335.07 351.35,344.33 351.70,331.55 352.05,316.13 352.40,315.98 352.75,331.53 353.10,342.12 353.45,342.64 353.80,321.35 354.15,328.31 354.50,344.03 354.85,337.90 355.20,338.60 355.55,328.33 355.90,389.49 356.25,378.09 356.60,336.78 356.95,339.86 357.30,333.48 357.65,324.38 358.00,325.92 358.35,334.24 358.70,342.68 359.05,339.07 359.40,327.25 359.75,308.81 360.10,317.48 360.45,336.92 360.80,398.06 361.15,383.78 361.50,320.32 361.85,323.92 362.20,333.65 362.55,341.55 362.90,341.03 363.25,377.88 363.60,369.51 363.95,339.85 364.30,341.96 364.65,329.76 365.00,322.99 365.35,310.47 365.70,334.85 366.05,336.92 366.40,333.92 366.75,313.38 367.10,330.39 367.45,340.41 367.80,335.89 368.15,329.55 368.50,321.68 368.85,330.44 369.20,337.67 369.55,339.06 369.90,332.13 370.25,326.27 370.60,339.56 370.95,342.90 371.30,325.71 371.65,311.31 372.00,307.67 372.35,311.53 372.70,331.69 373.05,344.27 373.40,327.12 373.75,319.92 374.10,324.66 374.45,324.18 374.80,338.46 375.15,334.96 375.50,324.43 375.85,324.41 376.20,328.20 376.55,338.64 376.90,335.60 377.25,329.29 377.60,321.51 377.95,327.22 378.30,337.82 378.65,332.20 379.00,322.26 379.35,302.20 379.70,327.32 380.05,337.67 380.40,334.01 380.75,336.02 381.10,320.72 381.45,324.52 381.80,336.08 382.15,332.85 382.50,324.41 382.85,318.62 383.20,321.93 383.55,323.71 383.90,334.55 384.25,332.11 384.60,318.39 384.95,306.34 385.30,315.55 385.65,331.48 386.00,330.79 386.35,326.61 386.70,312.57 387.05,327.32 387.40,335.22 387.75,327.67 388.10,318.65 388.45,321.84 388.80,327.87 389.15,337.79 389.50,322.61 389.85,320.76 390.20,318.40 390.55,317.20 390.90,331.37 391.25,331.02 391.60,334.28 391.95,311.28 392.30,309.19 392.65,320.59 393.00,338.21 393.35,317.54 393.70,316.71 394.05,320.50 394.40,336.00 394.75,329.43 395.10,321.99 395.45,319.32 395.80,322.59 396.15,333.37 396.50,330.08 396.85,334.21 397.20,318.83 397.55,309.91 397.90,310.81 398.25,332.04 398.60,335.56 398.95,326.64 399.30,306.51 399.65,320.36 400.00,329.91 400.35,328.38 400.70,317.22 401.05,322.40 401.40,329.37 401.75,328.46 402.10,324.78 402.45,321.90 402.80,318.83 403.15,317.63 403.50,324.77 403.85,330.78 404.20,327.34 404.55,307.90 404.90,305.15 405.25,324.03 405.60,334.83 405.95,314.63 406.30,315.04 406.65,315.82 407.00,315.19 407.35,324.31 407.70,330.01 408.05,322.23 408.40,316.14 408.75,315.32 409.10,364.88 409.45,358.05 409.80,329.89 410.15,325.25 410.50,324.48 410.85,301.34 411.20,305.60 411.55,315.14 411.90,330.45 412.25,319.27 412.60,319.94 412.95,312.44 413.30,316.12 413.65,317.76 414.00,335.57 414.35,333.11 414.70,317.78 415.05,313.64 415.40,322.94 415.75,328.11 416.10,323.06 416.45,310.21 416.80,307.56 417.15,322.77 417.50,325.39 417.85,324.74 418.20,310.33 418.55,301.96 418.90,306.25 419.25,319.17 419.60,332.92 419.95,327.98 420.30,319.76 420.65,309.26 421.00,312.90 421.35,319.39 421.70,330.85 422.05,325.84 422.40,309.28 422.75,322.41 423.10,328.94 423.45,324.49 423.80,321.06 424.15,303.61 424.50,300.42 424.85,313.33 425.20,326.75 425.55,329.22 425.90,321.71 426.25,311.85 426.60,317.41 426.95,322.89 427.30,329.78 427.65,318.33 428.00,320.15 428.35,314.91 428.70,316.33 429.05,311.00 429.40,321.66 429.75,318.05 430.10,304.56 430.45,306.51 430.80,311.07 431.15,313.94 431.50,327.43 431.85,325.85 432.20,312.27 432.55,310.15 432.90,318.60 433.25,326.58 433.60,318.19 433.95,315.24 434.30,312.94 434.65,325.41 435.00,329.45 435.35,311.66 435.70,309.83 436.05,308.25 436.40,324.48 436.75,323.15 437.10,306.86 437.45,292.78 437.80,305.51 438.15,323.55 438.50,318.99 438.85,318.33 439.20,304.75 439.55,309.13 439.90,316.85 440.25,319.80 440.60,322.02 440.95,318.94 441.30,308.23 441.65,320.25 442.00,321.08 442.35,316.35 442.70,305.54 443.05,305.99 443.40,315.87 443.75,327.93 444.10,307.83 444.45,300.09 444.80,308.16 445.15,313.17 445.50,320.68 445.85,375.47 446.20,364.08 446.55,311.39 446.90,315.28 447.25,319.35 447.60,320.93 447.95,302.44 448.30,314.55 448.65,316.36 449.00,322.56 449.35,309.66 449.70,297.82 450.05,303.46 450.40,318.43 450.75,324.25 451.10,319.02 451.45,307.98 451.80,298.03 452.15,313.38 452.50,321.02 452.85,323.28 453.20,298.74 453.55,308.34 453.90,317.82 454.25,325.54 454.60,327.57 454.95,315.80 455.30,311.53 455.65,321.07 456.00,318.28 456.35,306.17 456.70,296.56 457.05,295.95 457.40,324.17 457.75,312.35 458.10,307.89 458.45,302.99 458.80,313.18 459.15,324.18 459.50,319.63 459.85,308.79 460.20,305.78 460.55,316.25 460.90,326.19 461.25,317.81 461.60,316.58 461.95,306.17 462.30,300.61 462.65,310.08 463.00,319.15 463.35,309.74 463.70,301.98 464.05,301.02 464.40,313.44 464.75,320.08 465.10,312.21 465.45,302.99 465.80,309.77 466.15,318.09 466.50,316.93 466.85,317.72 467.20,309.26 467.55,306.09 467.90,315.95 468.25,318.25 468.60,317.99 468.95,314.54 469.30,300.30 469.65,296.61 470.00,311.34 470.35,320.93 470.70,313.35 471.05,299.00 471.40,303.93 471.75,311.32 472.10,319.33 472.45,306.05 472.80,307.30 473.15,307.85 473.50,312.73 473.85,319.58 474.20,320.39 474.55,319.00 474.90,299.25 475.25,308.55 475.60,315.75 475.95,319.43 476.30,313.59 476.65,296.78 477.00,303.49 477.35,311.65 477.70,316.00 478.05,317.64 478.40,303.43 478.75,309.06 479.10,313.21 479.45,317.79 479.80,317.39 480.15,306.84 480.50,306.67 480.85,312.80 481.20,316.28 481.55,317.15 481.90,294.09 482.25,293.84 482.60,313.86 482.95,313.86 483.30,306.14 483.65,305.34 484.00,307.14 484.35,316.03 484.70,320.14 485.05,311.91 485.40,305.97 485.75,301.84 486.10,301.84 486.45,319.39 486.80,318.18 487.15,306.30 487.50,297.04 487.85,291.71 488.20,302.57 488.55,320.63 488.90,316.08 489.25,308.84 489.60,289.60 489.95,299.81 490.30,309.68 490.65,316.90 491.00,320.07 491.35,316.32 491.70,305.30 492.05,301.01 492.40,313.84 492.75,321.78 493.10,321.33 493.45,300.00 493.80,303.92 494.15,321.14 494.50,323.30 494.85,302.39 495.20,290.87 495.55,294.46 495.90,302.54 496.25,311.50 496.60,309.55 496.95,299.52 497.30,296.63 497.65,314.76 498.00,315.06 498.35,315.77 498.70,307.61 499.05,300.19 499.40,303.39 499.75,310.99 500.10,307.70 500.45,313.85 500.80,301.41 501.15,302.24 501.50,311.28 501.85,317.69 502.20,309.98 502.55,299.97 502.90,290.74 503.25,301.50 503.60,304.30 503.95,318.20 504.30,310.73 504.65,304.01 505.00,296.97 505.35,304.68 505.70,311.25 506.05,313.99 506.40,302.66 506.75,301.85 507.10,308.84 507.45,355.88 507.80,347.88 508.15,297.23 508.50,285.87 508.85,292.46 509.20,305.18 509.55,316.89 509.90,298.76 510.25,294.77 510.60,306.66 510.95,313.79 511.30,313.51 511.65,298.70 512.00,295.97 512.35,304.71 512.70,316.47 513.05,311.93 513.40,301.81 513.75,294.85 514.10,301.13 514.45,310.95 514.80,315.22 515.15,304.65 515.50,289.83 515.85,288.56 516.20,302.80 516.55,313.29 516.90,351.69 517.25,344.52 517.60,303.28 517.95,292.61 518.30,302.22 518.65,313.49 519.00,317.04 519.35,315.06 519.70,303.65 520.05,295.25 520.40,289.69 520.75,304.48 521.10,314.55 521.45,295.28 521.80,289.90 522.15,291.09 522.50,303.45 522.85,312.98 523.20,307.84 523.55,300.58 523.90,306.52 524.25,314.67 524.60,304.73 524.95,299.48 525.30,300.90 525.65,304.98 526.00,306.75 526.35,315.28 526.70,302.28 527.05,295.26 527.40,296.84 527.75,318.10 528.10,315.49 528.45,293.16 528.80,295.66 529.15,303.76 529.50,309.30 529.85,308.68 530.20,306.83 530.55,298.84 530.90,300.90 531.25,303.82 531.60,307.89 531.95,302.91 532.30,296.21 532.65,299.66 533.00,307.38 533.35,314.44 533.70,308.03 534.05,294.67 534.40,284.25 534.75,288.79 535.10,311.32 535.45,301.82 535.80,291.32 536.15,290.95 536.50,299.25 536.85,307.96 537.20,307.64 537.55,346.54 537.90,340.07 538.25,299.07 538.60,309.80 538.95,306.84 539.30,306.92 539.65,295.07 540.00,291.96 540.35,302.62 540.70,305.95 541.05,305.11 541.40,279.93 541.75,293.09 542.10,299.17 542.45,306.67 542.80,311.44 543.15,313.49 543.50,297.17 543.85,298.86 544.20,305.21 544.55,303.43 544.90,295.68 545.25,293.54 545.60,293.99 545.95,300.40 546.30,303.68 546.65,310.04 547.00,293.66 547.35,279.26 547.70,285.18 548.05,304.14 548.40,308.22 548.75,294.34 549.10,292.99 549.45,304.71 549.80,314.46 550.15,309.34 550.50,301.03 550.85,290.86 551.20,288.61 551.55,303.15 551.90,302.42 552.25,305.60 552.60,297.18 552.95,285.49 553.30,293.51 553.65,302.59 554.00,308.51 554.35,292.24 554.70,289.28 555.05,284.97 555.40,303.20 555.75,309.17 556.10,307.04 556.45,298.92 556.80,292.08 557.15,306.72 557.50,313.86 557.85,300.08 558.20,293.00 558.55,300.96 558.90,314.42 559.25,309.21 559.60,294.35 559.95,286.65 560.30,292.81 560.65,309.02 561.00,306.82 561.35,293.22 561.70,284.37 562.05,295.14 562.40,303.38 562.75,306.10 563.10,293.42 563.45,298.73 563.80,331.75 564.15,329.11 564.50,305.76 564.85,295.24 565.20,292.99 565.55,301.06 565.90,360.15 566.25,348.97 566.60,305.30 566.95,288.02 567.30,278.93 567.65,280.24 568.00,303.80 568.35,314.90 568.70,299.05 569.05,289.61 569.40,293.37 569.75,307.44 570.10,311.90 570.45,296.54 570.80,284.10 571.15,290.15 571.50,304.13 571.85,351.35 572.20,342.72 572.55,294.75 572.90,287.06 573.25,302.62 573.60,307.95 573.95,284.19 574.30,284.95 574.65,306.27 575.00,315.13 575.35,300.49 575.70,300.53 576.05,302.93 576.40,294.08 576.75,310.52 577.10,299.06 577.45,293.85 577.80,293.86 578.15,298.94 578.50,304.34 578.85,296.04 579.20,288.52 579.55,293.59 579.90,312.64 580.25,303.21 580.60,283.87 580.95,287.70 581.30,289.51 581.65,301.71 582.00,310.33 582.35,298.56 582.70,292.33 583.05,290.78 583.40,296.82 583.75,299.61 584.10,303.29 584.45,290.77 584.80,291.03 585.15,286.63 585.50,297.20 585.85,302.46 586.20,298.74 586.55,292.89 586.90,273.45 587.25,288.06 587.60,308.49 587.95,306.60 588.30,301.08 588.65,288.97 589.00,300.90 589.35,306.59 589.70,301.70 590.05,298.77 590.40,295.66 590.75,294.10 591.10,311.92 591.45,297.45 591.80,366.70 592.15,353.18 592.50,296.86 592.85,301.60 593.20,301.81 593.55,288.17 593.90,292.01 594.25,300.93 594.60,305.86 594.95,309.53 595.30,296.65 595.65,288.01 596.00,298.88 596.35,315.00 596.70,291.44 597.05,286.71 597.40,299.84 597.75,297.15 598.10,308.70 598.45,293.97 598.80,280.90 599.15,298.82 599.50,303.41 599.85,304.66 600.20,290.11 600.55,289.96 600.90,291.28 601.25,304.64 601.60,302.00 601.95,300.91 602.30,291.67 602.65,293.47 603.00,284.51 603.35,299.62 603.70,306.31 604.05,304.55 604.40,295.96 604.75,281.84 605.10,298.62 605.45,303.54 605.80,305.86 606.15,286.37 606.50,282.37 606.85,299.12 607.20,306.44 607.55,297.65 607.90,284.41 608.25,291.89 608.60,303.36 608.95,306.63 609.30,299.48 609.65,286.89 610.00,290.80 610.35,300.59 610.70,306.04 611.05,299.33 611.40,286.43 611.75,283.92 612.10,294.44 612.45,300.78 612.80,306.44 613.15,291.02 613.50,281.67 613.85,293.03 614.20,308.82 614.55,297.50 614.90,302.29 615.25,289.47 615.60,293.50 615.95,306.37 616.30,300.35 616.65,305.61 617.00,295.34 617.35,293.74 617.70,276.35 618.05,285.50 618.40,300.88 618.75,298.92 619.10,290.90 619.45,273.74 619.80,294.16 620.15,303.34 620.50,306.73 620.85,293.76 621.20,290.06 621.55,294.11 621.90,310.29 622.25,304.27 622.60,296.80 622.95,285.61 623.30,287.87 623.65,294.50 624.00,300.61 624.35,302.90 624.70,294.18 625.05,276.99 625.40,359.27 625.75,347.20 626.10,340.22 626.45,333.86 626.80,292.74 627.15,289.11 627.50,284.12 627.85,294.45 628.20,304.94 628.55,300.41 628.90,290.91 629.25,291.37 629.60,307.04 629.95,297.58 630.30,295.28 630.65,285.78 631.00,304.50 631.35,299.99 631.70,284.28 632.05,277.08 632.40,288.81 632.75,312.24 633.10,306.75 633.45,295.46 633.80,344.32 634.15,336.53 634.50,296.44 634.85,302.07 635.20,306.32 635.55,290.25 635.90,292.42 636.25,298.61 636.60,299.21 636.95,296.76 637.30,289.17 637.65,282.25 638.00,291.96 638.35,307.86 638.70,299.10 639.05,278.59 639.40,283.36 639.75,295.13 640.10,303.54 640.45,293.87 640.80,283.89 641.15,289.50 641.50,300.00 641.85,306.11 642.20,300.32 642.55,285.26 642.90,291.88 643.25,301.44 643.60,299.05 643.95,295.58 644.30,277.77 644.65,280.52 645.00,298.20 645.35,307.34 645.70,288.89 646.05,288.13 646.40,286.68 646.75,299.56 647.10,301.59 647.45,295.61 647.80,288.02 648.15,295.99 648.50,295.49 648.85,299.33 649.20,304.97 649.55,290.82 649.90,284.11 650.25,286.07 650.60,306.48 650.95,294.94 651.30,288.07 651.65,273.09 652.00,280.31 652.35,293.87 652.70,300.26 653.05,297.40 653.40,293.27 653.75,289.47 654.10,282.67 654.45,299.51 654.80,304.45 655.15,296.61 655.50,291.31 655.85,292.32 656.20,298.64 656.55,297.76 656.90,286.52 657.25,289.17 657.60,292.76 657.95,302.92 658.30,334.61 658.65,329.26 659.00,287.86 659.35,296.32 659.70,299.03 660.05,290.48 660.40,289.52 660.75,283.70 661.10,302.06 661.45,305.88 661.80,288.98 662.15,292.08 662.50,296.13 662.85,306.48 663.20,295.32 663.55,286.01 663.90,281.30 664.25,275.71 664.60,298.31 664.95,302.39 665.30,292.65 665.65,281.75 666.00,290.71 666.35,294.53 666.70,300.35 667.05,298.50 667.40,284.91 667.75,283.50 668.10,294.41 668.45,304.36 668.80,296.15 669.15,291.78 669.50,285.64 669.85,286.07 670.20,303.22 670.55,299.67 670.90,292.43 671.25,279.90 671.60,286.70 671.95,299.82 672.30,304.93 672.65,301.51 673.00,294.12 673.35,287.55 673.70,290.91 674.05,302.78 674.40,302.43 674.75,294.88 675.10,358.80 675.45,345.98 675.80,295.34 676.15,295.70 676.50,299.07 676.85,284.74 677.20,275.67 677.55,284.94 677.90,299.77"/>
<polyline stroke="#ff0000" stroke-width="1.8" points="45.10,355.52 45.45,355.50 45.80,355.42 46.15,355.28 46.50,355.07 46.85,354.76 47.20,354.34 47.55,350.06 47.90,340.92 48.25,330.65 48.60,325.22 48.95,333.37 49.30,347.04 49.65,364.89 50.00,377.82 50.35,381.45 50.70,383.55 51.05,386.37 51.40,392.03 51.75,401.46 52.10,421.04 52.45,427.27 52.80,409.70 53.15,398.02 53.50,390.94 53.85,387.52 54.20,384.92 54.55,383.43 54.90,383.54 55.25,386.66 55.60,392.61 55.95,400.42 56.30,408.69 56.65,415.76 57.00,419.19 57.35,415.22 57.70,408.15 58.05,400.00 58.40,392.45 58.75,386.90 59.10,384.40 59.45,385.43 59.80,389.89 60.15,397.09 60.50,405.80 60.85,414.44 61.20,421.09 61.55,421.99 61.90,416.31 62.25,408.16 62.60,399.49 62.95,392.00 63.30,387.10 63.65,385.69 64.00,388.09 64.35,393.98 64.70,402.41 65.05,411.95 65.40,420.79 65.75,426.68 66.10,424.66 66.45,417.49 66.80,408.41 67.15,399.41 67.50,392.22 67.85,388.19 68.20,388.14 68.55,392.18 68.90,399.72 69.25,409.56 69.60,419.97 69.95,428.85 70.30,433.07 70.65,428.13 71.00,419.34 71.35,409.23 71.70,399.89 72.05,393.08 72.40,390.07 72.75,391.49 73.10,397.16 73.45,406.19 73.80,417.04 74.15,427.69 74.50,435.77 74.85,436.52 75.20,429.23 75.55,418.97 75.90,408.16 76.25,398.91 76.60,392.87 76.95,391.51 77.30,395.20 77.65,402.72 78.00,413.28 78.35,423.48 78.70,431.61 79.05,434.79 79.40,429.94 79.75,430.93 80.10,422.15 80.45,405.07 80.80,400.11 81.15,409.75 81.50,409.47 81.85,410.70 82.20,416.32 82.55,421.68 82.90,428.97 83.25,432.06 83.60,442.92 83.95,438.67 84.30,410.16 84.65,408.71 85.00,441.58 85.35,433.57 85.70,406.70 86.05,425.02 86.40,427.01 86.75,428.48 87.10,434.56 87.45,434.01 87.80,423.33 88.15,412.43 88.50,406.34 88.85,406.25 89.20,402.32 89.55,419.45 89.90,416.75 90.25,427.57 90.60,429.38 90.95,430.31 91.30,417.91 91.65,406.79 92.00,398.06 92.35,393.82 92.70,387.49 93.05,409.54 93.40,486.36 93.75,472.79 94.10,446.61 94.45,433.76 94.80,421.47 95.15,406.93 95.50,457.78 95.85,452.79 96.20,399.69 96.55,413.57 96.90,414.82 97.25,428.35 97.60,439.41 97.95,479.28 98.30,467.77 98.65,431.24 99.00,406.90 99.35,391.33 99.70,386.38 100.05,450.15 100.40,447.27 100.75,417.74 101.10,431.61 101.45,434.84 101.80,435.58 102.15,433.35 102.50,426.81 102.85,417.53 103.20,403.75 103.55,401.01 103.90,399.85 104.25,403.40 104.60,413.42 104.95,417.53 105.30,427.78 105.65,431.97 106.00,484.31 106.35,470.65 106.70,421.53 107.05,389.45 107.40,397.34 107.75,388.31 108.10,397.65 108.45,471.41 108.80,461.33 109.15,426.66 109.50,439.62 109.85,431.83 110.20,428.89 110.55,415.90 110.90,396.91 111.25,389.48 111.60,392.00 111.95,393.99 112.30,400.02 112.65,409.00 113.00,422.86 113.35,435.92 113.70,435.26 114.05,424.35 114.40,418.76 114.75,401.75 115.10,396.44 115.45,387.30 115.80,397.60 116.15,411.12 116.50,444.94 116.85,451.33 117.20,446.11 117.55,409.80 117.90,397.85 118.25,387.41 118.60,377.60 118.95,387.72 119.30,390.97 119.65,421.68 120.00,427.46 120.35,434.64 120.70,424.73 121.05,408.96 121.40,401.08 121.75,397.79 122.10,384.89 122.45,396.21 122.80,408.31 123.15,421.08 123.50,429.82 123.85,427.45 124.20,439.16 124.55,436.13 124.90,387.81 125.25,381.00 125.60,373.74 125.95,390.51 126.30,412.48 126.65,417.14 127.00,423.62 127.35,423.76 127.70,400.51 128.05,397.37 128.40,381.11 128.75,380.53 129.10,394.91 129.45,398.23 129.80,452.74 130.15,444.01 130.50,440.94 130.85,435.54 131.20,398.76 131.55,387.63 131.90,371.52 132.25,376.11 132.60,386.27 132.95,396.09 133.30,416.44 133.65,421.43 134.00,397.02 134.35,389.41 134.70,380.02 135.05,382.86 135.40,447.32 135.75,438.67 136.10,420.13 136.45,416.20 136.80,396.47 137.15,380.24 137.50,378.12 137.85,374.35 138.20,401.16 138.55,426.87 138.90,423.68 139.25,387.31 139.60,384.94 139.95,377.67 140.30,386.62 140.65,399.71 141.00,404.01 141.35,415.43 141.70,401.37 142.05,384.87 142.40,381.05 142.75,376.68 143.10,383.16 143.45,393.28 143.80,414.39 144.15,409.45 144.50,395.46 144.85,384.89 145.20,381.89 145.55,372.08 145.90,383.97 146.25,387.38 146.60,399.77 146.95,410.32 147.30,400.35 147.65,380.77 148.00,384.52 148.35,370.22 148.70,374.82 149.05,392.27 149.40,407.13 149.75,403.17 150.10,393.32 150.45,377.63 150.80,372.36 151.15,364.74 151.50,374.04 151.85,383.57 152.20,406.63 152.55,402.41 152.90,393.21 153.25,384.67 153.60,379.45 153.95,380.61 154.30,392.49 154.65,402.31 155.00,402.96 155.35,390.55 155.70,380.15 156.05,375.88 156.40,373.84 156.75,377.40 157.10,381.78 157.45,434.80 157.80,426.54 158.15,399.42 158.50,378.29 158.85,368.47 159.20,372.03 159.55,372.91 159.90,382.60 160.25,402.78 160.60,399.70 160.95,398.46 161.30,395.14 161.65,381.97 162.00,370.57 162.35,370.59 162.70,381.61 163.05,386.85 163.40,403.73 163.75,376.44 164.10,370.01 164.45,364.15 164.80,377.95 165.15,419.54 165.50,415.16 165.85,408.28 166.20,397.52 166.55,369.66 166.90,372.68 167.25,439.84 167.60,429.24 167.95,402.54 168.30,391.63 168.65,381.24 169.00,374.65 169.35,374.22 169.70,369.80 170.05,384.61 170.40,391.30 170.75,400.41 171.10,401.75 171.45,391.03 171.80,370.08 172.15,369.59 172.50,371.15 172.85,384.05 173.20,404.24 173.55,402.58 173.90,393.87 174.25,377.73 174.60,375.42 174.95,369.08 175.30,374.16 175.65,386.19 176.00,395.36 176.35,407.91 176.70,397.06 177.05,393.07 177.40,376.03 177.75,369.51 178.10,385.34 178.45,397.26 178.80,400.10 179.15,383.96 179.50,376.33 179.85,371.36 180.20,371.83 180.55,388.50 180.90,431.57 181.25,422.91 181.60,395.84 181.95,385.50 182.30,374.20 182.65,372.84 183.00,378.33 183.35,383.70 183.70,403.96 184.05,391.86 184.40,370.97 184.75,368.38 185.10,367.46 185.45,440.11 185.80,428.75 186.15,384.13 186.50,431.53 186.85,422.72 187.20,389.23 187.55,380.28 187.90,375.10 188.25,371.10 188.60,416.80 188.95,412.36 189.30,395.10 189.65,385.22 190.00,367.54 190.35,370.05 190.70,379.03 191.05,395.73 191.40,427.11 191.75,419.52 192.10,372.78 192.45,370.95 192.80,373.61 193.15,387.65 193.50,399.81 193.85,400.34 194.20,389.66 194.55,383.41 194.90,372.93 195.25,373.37 195.60,373.56 195.95,375.23 196.30,387.71 196.65,395.69 197.00,390.33 197.35,378.28 197.70,371.10 198.05,366.03 198.40,374.09 198.75,387.11 199.10,400.04 199.45,401.91 199.80,382.78 200.15,374.13 200.50,371.50 200.85,374.68 201.20,377.44 201.55,396.60 201.90,405.44 202.25,396.44 202.60,377.41 202.95,369.83 203.30,363.91 203.65,371.61 204.00,376.67 204.35,396.17 204.70,395.24 205.05,382.69 205.40,412.25 205.75,409.17 206.10,439.83 206.45,428.50 206.80,387.34 207.15,400.20 207.50,399.72 207.85,390.64 208.20,380.08 208.55,371.13 208.90,375.90 209.25,383.63 209.60,395.29 209.95,398.11 210.30,440.30 210.65,429.02 211.00,374.12 211.35,376.35 211.70,389.67 212.05,403.91 212.40,397.61 212.75,416.10 213.10,412.21 213.45,368.20 213.80,385.82 214.15,388.42 214.50,400.68 214.85,403.63 215.20,393.26 215.55,377.59 215.90,370.71 216.25,366.87 216.60,375.95 216.95,385.62 217.30,448.72 217.65,435.34 218.00,370.33 218.35,374.99 218.70,447.12 219.05,434.31 219.40,398.97 219.75,402.25 220.10,390.48 220.45,379.33 220.80,377.26 221.15,380.51 221.50,393.05 221.85,402.10 222.20,429.10 222.55,421.95 222.90,374.73 223.25,372.40 223.60,379.76 223.95,397.48 224.30,403.57 224.65,394.73 225.00,379.26 225.35,378.46 225.70,379.16 226.05,384.17 226.40,396.49 226.75,409.43 227.10,402.37 227.45,390.43 227.80,382.11 228.15,427.71 228.50,421.40 228.85,375.58 229.20,389.78 229.55,400.81 229.90,388.76 230.25,382.87 230.60,371.93 230.95,383.89 231.30,398.32 231.65,410.49 232.00,406.98 232.35,426.63 232.70,421.01 233.05,381.70 233.40,389.18 233.75,399.04 234.10,403.06 234.45,401.30 234.80,384.89 235.15,374.66 235.50,369.61 235.85,385.82 236.20,423.11 236.55,418.94 236.90,384.14 237.25,386.67 237.60,435.71 237.95,427.85 238.30,441.85 238.65,432.17 239.00,438.50 239.35,429.82 239.70,377.55 240.05,380.11 240.40,382.90 240.75,400.56 241.10,411.38 241.45,399.36 241.80,420.43 242.15,416.64 242.50,368.51 242.85,377.07 243.20,451.12 243.55,437.61 243.90,406.69 244.25,395.91 244.60,376.32 244.95,430.98 245.30,422.74 245.65,372.74 246.00,394.63 246.35,401.99 246.70,384.58 247.05,375.28 247.40,374.27 247.75,367.95 248.10,370.84 248.45,385.50 248.80,394.59 249.15,376.17 249.50,365.31 249.85,367.61 250.20,371.27 250.55,386.99 250.90,393.88 251.25,383.60 251.60,365.94 251.95,410.58 252.30,405.33 252.65,393.05 253.00,397.72 253.35,372.47 253.70,370.99 254.05,411.99 254.40,405.30 254.75,367.18 255.10,381.79 255.45,372.21 255.80,360.44 256.15,357.75 256.50,366.61 256.85,382.25 257.20,413.20 257.55,404.75 257.90,357.34 258.25,358.86 258.60,376.24 258.95,379.85 259.30,375.38 259.65,363.06 260.00,359.68 260.35,356.09 260.70,358.30 261.05,366.11 261.40,376.48 261.75,374.20 262.10,353.33 262.45,407.60 262.80,399.58 263.15,374.58 263.50,379.37 263.85,365.27 264.20,351.86 264.55,352.52 264.90,363.26 265.25,366.93 265.60,378.48 265.95,366.50 266.30,350.91 266.65,346.48 267.00,355.07 267.35,371.82 267.70,380.46 268.05,413.79 268.40,402.91 268.75,345.56 269.10,369.01 269.45,374.63 269.80,357.81 270.15,344.03 270.50,349.88 270.85,356.28 271.20,370.77 271.55,363.77 271.90,348.32 272.25,350.29 272.60,362.72 272.95,368.93 273.30,367.72 273.65,342.10 274.00,408.25 274.35,398.16 274.70,371.99 275.05,371.26 275.40,353.42 275.75,343.62 276.10,367.26 276.45,370.10 276.80,355.17 277.15,385.37 277.50,381.74 277.85,392.30 278.20,386.51 278.55,361.65 278.90,346.57 279.25,397.60 279.60,390.06 279.95,374.53 280.30,367.59 280.65,346.03 281.00,344.61 281.35,334.13 281.70,342.45 282.05,374.43 282.40,348.06 282.75,352.25 283.10,347.71 283.45,356.96 283.80,371.06 284.15,401.95 284.50,392.58 284.85,345.11 285.20,348.72 285.55,367.73 285.90,368.12 286.25,359.81 286.60,340.60 286.95,339.40 287.30,360.74 287.65,355.69 288.00,331.46 288.35,339.16 288.70,362.55 289.05,357.69 289.40,340.72 289.75,338.39 290.10,344.69 290.45,353.46 290.80,409.18 291.15,396.99 291.50,341.55 291.85,341.90 292.20,353.75 292.55,360.30 292.90,367.29 293.25,355.40 293.60,335.56 293.95,328.40 294.30,350.12 294.65,353.15 295.00,356.19 295.35,337.42 295.70,335.24 296.05,411.60 296.40,398.20 296.75,351.28 297.10,333.84 297.45,337.20 297.80,341.02 298.15,348.84 298.50,362.26 298.85,352.99 299.20,333.67 299.55,336.95 299.90,353.30 300.25,365.99 300.60,383.28 300.95,377.93 301.30,328.98 301.65,394.52 302.00,409.17 302.35,395.91 302.70,358.48 303.05,343.00 303.40,336.72 303.75,344.85 304.10,370.49 304.45,359.14 304.80,354.46 305.15,333.79 305.50,334.47 305.85,342.35 306.20,360.88 306.55,347.87 306.90,333.69 307.25,330.97 307.60,345.78 307.95,360.74 308.30,356.98 308.65,337.61 309.00,333.59 309.35,383.94 309.70,377.58 310.05,364.83 310.40,350.47 310.75,397.97 311.10,398.46 311.45,387.60 311.80,355.24 312.15,353.43 312.50,330.07 312.85,327.01 313.20,338.01 313.55,387.94 313.90,380.03 314.25,388.41 314.60,380.30 314.95,340.54 315.30,351.04 315.65,357.61 316.00,343.72 316.35,340.06 316.70,336.56 317.05,353.58 317.40,356.01 317.75,344.09 318.10,329.91 318.45,332.25 318.80,328.85 319.15,339.51 319.50,351.41 319.85,352.89 320.20,334.33 320.55,322.14 320.90,328.46 321.25,340.18 321.60,354.71 321.95,339.09 322.30,330.00 322.65,338.47 323.00,354.66 323.35,360.38 323.70,377.24 324.05,371.72 324.40,343.24 324.75,346.50 325.10,377.96 325.45,372.12 325.80,328.44 326.15,327.84 326.50,343.86 326.85,361.04 327.20,371.06 327.55,367.13 327.90,328.67 328.25,333.68 328.60,348.64 328.95,351.26 329.30,335.44 329.65,327.35 330.00,340.51 330.35,351.08 330.70,355.94 331.05,337.11 331.40,329.84 331.75,332.15 332.10,344.56 332.45,355.72 332.80,341.23 333.15,325.10 333.50,369.92 333.85,365.88 334.20,347.85 334.55,358.92 334.90,344.44 335.25,334.07 335.60,330.40 335.95,335.01 336.30,400.23 336.65,386.90 337.00,329.45 337.35,337.19 337.70,366.02 338.05,362.86 338.40,385.45 338.75,376.41 339.10,330.99 339.45,318.11 339.80,329.53 340.15,342.20 340.50,346.66 340.85,327.92 341.20,343.03 341.55,356.27 341.90,337.78 342.25,330.47 342.60,328.01 342.95,337.72 343.30,351.36 343.65,344.34 344.00,339.40 344.35,373.20 344.70,367.44 345.05,354.70 345.40,338.60 345.75,340.83 346.10,313.88 346.45,317.90 346.80,330.54 347.15,347.59 347.50,343.45 347.85,328.06 348.20,329.63 348.55,336.64 348.90,332.69 349.25,345.89 349.60,342.48 349.95,325.33 350.30,330.40 350.65,343.98 351.00,373.15 351.35,366.96 351.70,326.19 352.05,396.83 352.40,383.47 352.75,342.42 353.10,338.82 353.45,323.10 353.80,397.71 354.15,383.97 354.50,350.48 354.85,339.85 355.20,326.34 355.55,328.23 355.90,332.96 356.25,353.21 356.60,339.30 356.95,329.89 357.30,330.75 357.65,331.33 358.00,381.24 358.35,372.18 358.70,370.16 359.05,364.38 359.40,320.52 359.75,342.89 360.10,340.53 360.45,329.66 360.80,324.54 361.15,324.43 361.50,336.70 361.85,345.09 362.20,343.85 362.55,339.60 362.90,329.43 363.25,326.12 363.60,332.76 363.95,355.18 364.30,338.98 364.65,318.25 365.00,317.53 365.35,332.21 365.70,348.36 366.05,390.06 366.40,377.86 366.75,318.76 367.10,330.30 367.45,347.27 367.80,334.25 368.15,392.08 368.50,379.15 368.85,333.62 369.20,354.24 369.55,385.52 369.90,374.48 370.25,320.80 370.60,331.80 370.95,349.29 371.30,336.20 371.65,323.40 372.00,368.54 372.35,379.59 372.70,370.16 373.05,358.95 373.40,364.47 373.75,359.52 374.10,324.11 374.45,326.26 374.80,340.32 375.15,345.13 375.50,338.38 375.85,325.66 376.20,318.29 376.55,328.61 376.90,343.04 377.25,334.06 377.60,320.35 377.95,317.28 378.30,378.05 378.65,368.75 379.00,313.34 379.35,314.23 379.70,325.08 380.05,385.31 380.40,373.74 380.75,360.02 381.10,390.88 381.45,377.58 381.80,334.77 382.15,339.25 382.50,349.11 382.85,335.09 383.20,316.23 383.55,326.37 383.90,335.23 384.25,344.35 384.60,392.68 384.95,390.48 385.30,377.10 385.65,382.20 386.00,371.27 386.35,379.58 386.70,369.39 387.05,378.00 387.40,368.25 387.75,333.21 388.10,338.58 388.45,364.04 388.80,358.41 389.15,358.73 389.50,354.66 389.85,342.80 390.20,324.70 390.55,315.77 390.90,308.50 391.25,386.68 391.60,374.12 391.95,343.23 392.30,314.57 392.65,307.52 393.00,325.48 393.35,344.16 393.70,369.48 394.05,361.96 394.40,322.69 394.75,325.18 395.10,344.97 395.45,345.08 395.80,328.42 396.15,323.35 396.50,323.59 396.85,337.76 397.20,344.01 397.55,327.75 397.90,309.25 398.25,326.15 398.60,336.68 398.95,388.00 399.30,374.68 399.65,359.59 400.00,354.75 400.35,323.81 400.70,338.66 401.05,323.58 401.40,318.64 401.75,321.61 402.10,341.62 402.45,342.90 402.80,335.95 403.15,312.82 403.50,319.30 403.85,326.24 404.20,337.52 404.55,338.07 404.90,317.35 405.25,304.61 405.60,313.53 405.95,321.35 406.30,340.18 406.65,330.87 407.00,320.73 407.35,315.62 407.70,316.49 408.05,341.33 408.40,341.24 408.75,336.89 409.10,325.19 409.45,363.91 409.80,357.36 410.15,339.20 410.50,328.00 410.85,311.35 411.20,302.01 411.55,316.01 411.90,324.44 412.25,338.32 412.60,326.48 412.95,318.66 413.30,323.75 413.65,339.82 414.00,341.00 414.35,329.87 414.70,367.10 415.05,359.38 415.40,332.82 415.75,335.40 416.10,331.55 416.45,315.94 416.80,313.84 417.15,324.33 417.50,339.92 417.85,336.69 418.20,362.00 418.55,355.67 418.90,309.11 419.25,321.82 419.60,332.57 419.95,333.00 420.30,326.17 420.65,316.56 421.00,324.51 421.35,337.81 421.70,323.67 422.05,317.69 422.40,326.84 422.75,339.74 423.10,328.89 423.45,310.61 423.80,307.41 424.15,311.03 424.50,381.16 424.85,368.85 425.20,317.08 425.55,314.22 425.90,324.89 426.25,339.09 426.60,320.24 426.95,325.09 427.30,332.00 427.65,337.23 428.00,326.88 428.35,315.41 428.70,355.68 429.05,350.86 429.40,329.26 429.75,336.33 430.10,327.86 430.45,310.83 430.80,302.47 431.15,318.40 431.50,343.36 431.85,326.77 432.20,313.69 432.55,314.16 432.90,323.55 433.25,341.13 433.60,320.30 433.95,322.47 434.30,315.77 434.65,322.02 435.00,336.43 435.35,332.88 435.70,313.69 436.05,312.16 436.40,322.03 436.75,330.31 437.10,311.50 437.45,301.15 437.80,364.82 438.15,356.92 438.50,335.85 438.85,339.23 439.20,322.67 439.55,309.89 439.90,322.41 440.25,376.64 440.60,365.11 440.95,311.25 441.30,311.64 441.65,315.80 442.00,323.55 442.35,332.09 442.70,368.86 443.05,359.57 443.40,305.56 443.75,332.53 444.10,328.37 444.45,312.92 444.80,307.89 445.15,312.70 445.50,326.68 445.85,330.78 446.20,315.09 446.55,317.74 446.90,322.35 447.25,342.08 447.60,327.75 447.95,356.81 448.30,350.94 448.65,323.09 449.00,332.13 449.35,321.19 449.70,302.51 450.05,313.79 450.40,338.30 450.75,318.46 451.10,305.60 451.45,308.70 451.80,327.87 452.15,335.81 452.50,314.55 452.85,307.60 453.20,310.07 453.55,326.94 453.90,335.56 454.25,338.01 454.60,309.26 454.95,310.53 455.30,324.19 455.65,328.98 456.00,313.96 456.35,299.94 456.70,315.87 457.05,335.19 457.40,360.29 457.75,363.24 458.10,355.05 458.45,324.63 458.80,328.40 459.15,322.72 459.50,309.62 459.85,307.34 460.20,316.29 460.55,335.81 460.90,314.74 461.25,306.11 461.60,312.44 461.95,333.92 462.30,326.50 462.65,304.50 463.00,296.38 463.35,311.71 463.70,359.86 464.05,352.44 464.40,310.75 464.75,330.40 465.10,332.73 465.45,314.41 465.80,307.41 466.15,313.83 466.50,330.14 466.85,331.23 467.20,313.21 467.55,364.18 467.90,355.31 468.25,327.68 468.60,334.28 468.95,309.42 469.30,296.43 469.65,298.01 470.00,320.62 470.35,360.47 470.70,352.59 471.05,303.00 471.40,314.65 471.75,329.72 472.10,332.53 472.45,319.07 472.80,308.94 473.15,307.04 473.50,309.66 473.85,328.32 474.20,323.68 474.55,314.78 474.90,307.13 475.25,300.26 475.60,317.93 475.95,330.61 476.30,334.03 476.65,299.56 477.00,300.99 477.35,315.18 477.70,333.28 478.05,312.51 478.40,305.53 478.75,310.17 479.10,327.87 479.45,334.05 479.80,319.18 480.15,345.63 480.50,341.81 480.85,328.59 481.20,309.79 481.55,299.81 481.90,313.27 482.25,332.99 482.60,321.72 482.95,310.78 483.30,295.44 483.65,305.01 484.00,314.71 484.35,361.17 484.70,352.51 485.05,310.03 485.40,304.39 485.75,326.55 486.10,328.63 486.45,354.48 486.80,347.75 487.15,367.20 487.50,356.62 487.85,320.30 488.20,301.51 488.55,307.25 488.90,329.04 489.25,326.45 489.60,301.47 489.95,301.42 490.30,310.53 490.65,335.73 491.00,331.68 491.35,304.06 491.70,373.02 492.05,360.52 492.40,331.29 492.75,309.54 493.10,303.71 493.45,306.78 493.80,329.23 494.15,330.36 494.50,304.73 494.85,290.65 495.20,307.78 495.55,325.47 495.90,310.35 496.25,295.44 496.60,300.80 496.95,325.22 497.30,330.96 497.65,315.40 498.00,309.33 498.35,305.68 498.70,326.33 499.05,323.23 499.40,304.88 499.75,305.48 500.10,318.85 500.45,328.07 500.80,315.23 501.15,303.82 501.50,290.76 501.85,353.13 502.20,346.18 502.55,327.08 502.90,311.10 503.25,295.90 503.60,371.14 503.95,358.72 504.30,320.40 504.65,320.70 505.00,301.19 505.35,306.71 505.70,322.34 506.05,324.44 506.40,310.11 506.75,297.49 507.10,342.01 507.45,338.18 507.80,303.06 508.15,291.16 508.50,301.58 508.85,308.77 509.20,325.84 509.55,318.93 509.90,338.45 510.25,335.57 510.60,319.56 510.95,323.84 511.30,312.47 511.65,300.83 512.00,302.01 512.35,313.86 512.70,323.69 513.05,326.59 513.40,299.65 513.75,351.17 514.10,344.30 514.45,362.97 514.80,352.53 515.15,302.30 515.50,288.02 515.85,339.66 516.20,336.15 516.55,369.36 516.90,356.91 517.25,304.28 517.60,348.90 517.95,342.54 518.30,315.68 518.65,324.80 519.00,304.56 519.35,297.41 519.70,300.80 520.05,329.16 520.40,321.30 520.75,300.27 521.10,292.40 521.45,313.30 521.80,327.56 522.15,318.00 522.50,313.56 522.85,297.08 523.20,302.64 523.55,351.66 523.90,344.21 524.25,322.97 524.60,356.16 524.95,347.31 525.30,315.16 525.65,322.10 526.00,338.53 526.35,334.92 526.70,292.60 527.05,295.39 527.40,318.02 527.75,318.33 528.10,311.94 528.45,294.91 528.80,292.69 529.15,305.37 529.50,328.47 529.85,322.20 530.20,304.92 530.55,300.51 530.90,311.23 531.25,320.30 531.60,318.48 531.95,301.24 532.30,293.33 532.65,303.05 533.00,318.48 533.35,322.40 533.70,362.98 534.05,351.72 534.40,317.80 534.75,317.83 535.10,293.60 535.45,296.42 535.80,312.89 536.15,322.32 536.50,306.08 536.85,297.69 537.20,311.62 537.55,321.63 537.90,302.19 538.25,298.78 538.60,311.44 538.95,320.54 539.30,318.15 539.65,297.84 540.00,295.88 540.35,309.11 540.70,319.16 541.05,317.84 541.40,304.33 541.75,290.35 542.10,287.87 542.45,308.74 542.80,325.65 543.15,304.46 543.50,295.53 543.85,303.21 544.20,306.22 544.55,320.62 544.90,337.04 545.25,361.30 545.60,365.12 545.95,352.83 546.30,305.37 546.65,324.77 547.00,303.27 547.35,288.06 547.70,290.43 548.05,313.65 548.40,319.61 548.75,317.41 549.10,295.62 549.45,292.21 549.80,308.63 550.15,316.75 550.50,358.39 550.85,348.01 551.20,313.72 551.55,321.68 551.90,298.97 552.25,300.80 552.60,305.15 552.95,322.97 553.30,308.67 553.65,287.31 554.00,303.59 554.35,315.31 554.70,316.68 555.05,307.47 555.40,299.86 555.75,295.84 556.10,314.03 556.45,318.84 556.80,299.43 557.15,295.27 557.50,317.08 557.85,318.67 558.20,306.77 558.55,300.89 558.90,296.90 559.25,314.73 559.60,321.94 559.95,297.28 560.30,281.49 560.65,361.01 561.00,349.65 561.35,318.13 561.70,313.27 562.05,308.79 562.40,293.56 562.75,317.61 563.10,318.80 563.45,300.02 563.80,297.91 564.15,298.35 564.50,307.72 564.85,322.49 565.20,309.25 565.55,288.67 565.90,296.53 566.25,317.27 566.60,312.19 566.95,287.50 567.30,291.50 567.65,298.46 568.00,298.84 568.35,316.09 568.70,319.42 569.05,297.89 569.40,294.62 569.75,321.87 570.10,318.81 570.45,302.52 570.80,295.67 571.15,298.41 571.50,308.90 571.85,321.24 572.20,302.74 572.55,291.69 572.90,284.17 573.25,290.61 573.60,324.87 573.95,319.26 574.30,292.59 574.65,289.92 575.00,305.58 575.35,313.61 575.70,308.13 576.05,333.89 576.40,330.44 576.75,306.54 577.10,321.88 577.45,318.05 577.80,304.38 578.15,292.04 578.50,293.40 578.85,312.33 579.20,312.38 579.55,299.92 579.90,285.39 580.25,288.56 580.60,317.20 580.95,314.77 581.30,306.58 581.65,292.82 582.00,303.15 582.35,317.89 582.70,316.92 583.05,303.49 583.40,338.42 583.75,333.51 584.10,338.06 584.45,333.24 584.80,291.20 585.15,297.40 585.50,319.25 585.85,314.93 586.20,314.57 586.55,289.20 586.90,279.63 587.25,291.85 587.60,359.61 587.95,348.28 588.30,308.03 588.65,297.42 589.00,289.95 589.35,303.19 589.70,352.22 590.05,343.08 590.40,291.12 590.75,297.20 591.10,312.06 591.45,326.45 591.80,301.00 592.15,284.07 592.50,294.94 592.85,314.75 593.20,312.11 593.55,335.23 593.90,331.12 594.25,288.57 594.60,299.21 594.95,319.48 595.30,311.15 595.65,297.68 596.00,293.53 596.35,318.35 596.70,335.70 597.05,331.39 597.40,295.72 597.75,322.65 598.10,314.10 598.45,299.29 598.80,281.12 599.15,289.57 599.50,319.56 599.85,310.20 600.20,290.24 600.55,286.89 600.90,293.44 601.25,321.21 601.60,312.16 601.95,303.32 602.30,295.19 602.65,294.81 603.00,296.17 603.35,303.51 603.70,316.49 604.05,311.70 604.40,294.80 604.75,297.90 605.10,319.55 605.45,289.18 605.80,278.79 606.15,295.08 606.50,304.94 606.85,319.12 607.20,304.05 607.55,292.37 607.90,298.40 608.25,364.09 608.60,351.02 608.95,299.84 609.30,290.42 609.65,301.37 610.00,324.32 610.35,309.76 610.70,343.03 611.05,336.22 611.40,301.74 611.75,311.55 612.10,301.45 612.45,281.56 612.80,283.49 613.15,295.69 613.50,297.14 613.85,314.83 614.20,316.90 614.55,298.05 614.90,288.06 615.25,297.53 615.60,314.21 615.95,322.26 616.30,313.15 616.65,309.67 617.00,297.05 617.35,286.07 617.70,294.76 618.05,299.38 618.40,314.98 618.75,300.07 619.10,283.72 619.45,289.13 619.80,308.52 620.15,312.29 620.50,300.46 620.85,291.84 621.20,300.60 621.55,311.47 621.90,317.99 622.25,351.16 622.60,341.61 622.95,297.46 623.30,307.29 623.65,311.47 624.00,290.41 624.35,283.55 624.70,290.88 625.05,312.02 625.40,308.84 625.75,293.58 626.10,283.53 626.45,300.68 626.80,317.07 627.15,310.97 627.50,296.69 627.85,285.42 628.20,299.66 628.55,319.79 628.90,306.34 629.25,293.17 629.60,298.97 629.95,319.89 630.30,297.79 630.65,288.43 631.00,296.18 631.35,310.49 631.70,320.00 632.05,279.04 632.40,350.87 632.75,341.15 633.10,320.36 633.45,304.15 633.80,291.11 634.15,291.88 634.50,305.61 634.85,316.41 635.20,308.15 635.55,290.88 635.90,293.03 636.25,307.50 636.60,319.83 636.95,291.92 637.30,288.11 637.65,292.78 638.00,315.54 638.35,303.88 638.70,285.94 639.05,289.68 639.40,309.53 639.75,309.86 640.10,345.33 640.45,337.09 640.80,302.90 641.15,321.14 641.50,308.05 641.85,293.75 642.20,289.47 642.55,322.28 642.90,307.14 643.25,285.58 643.60,285.85 643.95,302.77 644.30,306.25 644.65,293.49 645.00,286.01 645.35,283.70 645.70,299.77 646.05,305.08 646.40,314.67 646.75,291.88 647.10,284.96 647.45,302.38 647.80,310.43 648.15,303.76 648.50,295.56 648.85,298.94 649.20,321.36 649.55,299.84 649.90,288.09 650.25,293.51 650.60,302.29 650.95,313.22 651.30,286.21 651.65,281.75 652.00,300.68 652.35,314.90 652.70,308.59 653.05,298.91 653.40,348.61 653.75,339.14 654.10,307.19 654.45,296.31 654.80,287.22 655.15,304.40 655.50,320.74 655.85,306.07 656.20,296.04 656.55,282.22 656.90,304.56 657.25,314.66 657.60,310.25 657.95,288.68 658.30,287.70 658.65,287.53 659.00,306.66 659.35,309.15 659.70,289.36 660.05,291.34 660.40,312.33 660.75,312.71 661.10,289.33 661.45,290.51 661.80,297.70 662.15,308.22 662.50,298.48 662.85,285.98 663.20,287.43 663.55,315.84 663.90,310.03 664.25,279.51 664.60,283.68 664.95,294.88 665.30,330.62 665.65,326.37 666.00,302.70 666.35,292.37 666.70,298.23 667.05,301.90 667.40,312.78 667.75,291.83 668.10,286.64 668.45,293.19 668.80,299.21 669.15,310.90 669.50,305.22 669.85,282.02 670.20,276.38 670.55,298.39 670.90,311.59 671.25,295.19 671.60,286.05 671.95,302.95 672.30,307.52 672.65,293.51 673.00,288.92 673.35,297.84 673.70,309.70 674.05,316.07 674.40,297.55 674.75,289.75 675.10,312.75 675.45,320.12 675.80,292.38 676.15,294.61 676.50,281.56 676.85,301.78 677.20,307.10 677.55,281.71 677.90,282.82"/>
</g>
<g stroke="#8c8c8c" stroke-width="1" fill="none">
<rect x="46.0" y="19.4" width="632.9" height="185.1"/>
<path d="M96.42 204.5v-3M96.42 19.4v3M125.92 204.5v-3M125.92 19.4v3M146.85 204.5v-3M146.85 19.4v3M163.08 204.5v-3M163.08 19.4v3M176.34 204.5v-3M176.34 19.4v3M187.55 204.5v-3M187.55 19.4v3M197.27 204.5v-3M197.27 19.4v3M205.84 204.5v-3M205.84 19.4v3M213.50 204.5v-6M213.50 19.4v6M263.92 204.5v-3M263.92 19.4v3M293.42 204.5v-3M293.42 19.4v3M314.35 204.5v-3M314.35 19.4v3M330.58 204.5v-3M330.58 19.4v3M343.84 204.5v-3M343.84 19.4v3M355.05 204.5v-3M355.05 19.4v3M364.77 204.5v-3M364.77 19.4v3M373.34 204.5v-3M373.34 19.4v3M381.00 204.5v-6M381.00 19.4v6M431.42 204.5v-3M431.42 19.4v3M460.92 204.5v-3M460.92 19.4v3M481.85 204.5v-3M481.85 19.4v3M498.08 204.5v-3M498.08 19.4v3M511.34 204.5v-3M511.34 19.4v3M522.55 204.5v-3M522.55 19.4v3M532.27 204.5v-3M532.27 19.4v3M540.84 204.5v-3M540.84 19.4v3M548.50 204.5v-6M548.50 19.4v6M598.92 204.5v-3M598.92 19.4v3M628.42 204.5v-3M628.42 19.4v3M649.35 204.5v-3M649.35 19.4v3M665.58 204.5v-3M665.58 19.4v3M678.84 204.5v-3M678.84 19.4v3M46.0 158.22h6M678.9 158.22h-6M46.0 111.95h6M678.9 111.95h-6M46.0 65.68h6M678.9 65.68h-6"/>
</g>
<g stroke="#8c8c8c" stroke-width="1" fill="none">
<rect x="45.1" y="262.0" width="633.0" height="184.4"/>
<path d="M124.22 446.4v-6M124.22 262.0v6M203.35 446.4v-6M203.35 262.0v6M282.48 446.4v-6M282.48 262.0v6M361.60 446.4v-6M361.60 262.0v6M440.73 446.4v-6M440.73 262.0v6M519.85 446.4v-6M519.85 262.0v6M598.98 446.4v-6M598.98 262.0v6M45.1 420.06h6M678.1 420.06h-6M45.1 393.71h6M678.1 393.71h-6M45.1 367.37h6M678.1 367.37h-6M45.1 341.03h6M678.1 341.03h-6M45.1 314.69h6M678.1 314.69h-6M45.1 288.34h6M678.1 288.34h-6"/>
</g>
<g font-family="Liberation Serif, serif" fill="#262626" font-size="14.2" text-anchor="end">
<text x="41" y="209.9" textLength="7.2" lengthAdjust="spacingAndGlyphs">0</text>
<text x="41" y="163.6" textLength="14.6" lengthAdjust="spacingAndGlyphs">20</text>
<text x="41" y="117.4" textLength="14.6" lengthAdjust="spacingAndGlyphs">40</text>
<text x="41" y="71.1" textLength="14.6" lengthAdjust="spacingAndGlyphs">60</text>
<text x="41" y="24.8" textLength="14.6" lengthAdjust="spacingAndGlyphs">80</text>
<text x="41" y="451.7" textLength="7.2" lengthAdjust="spacingAndGlyphs">0</text>
<text x="41" y="425.4" textLength="14.6" lengthAdjust="spacingAndGlyphs">20</text>
<text x="41" y="399.0" textLength="14.6" lengthAdjust="spacingAndGlyphs">40</text>
<text x="41" y="372.7" textLength="14.6" lengthAdjust="spacingAndGlyphs">60</text>
<text x="41" y="346.3" textLength="14.6" lengthAdjust="spacingAndGlyphs">80</text>
<text x="41" y="320.0" textLength="22.9" lengthAdjust="spacingAndGlyphs">100</text>
<text x="41" y="293.6" textLength="22.9" lengthAdjust="spacingAndGlyphs">120</text>
<text x="41" y="267.3" textLength="22.9" lengthAdjust="spacingAndGlyphs">140</text>
</g>
<g font-family="Liberation Serif, serif" fill="#262626" font-size="14.2">
<text x="35.0" y="226.8">10<tspan font-size="11.2" dx="0.5" dy="-6.4">0</tspan></text>
<text x="202.5" y="226.8">10<tspan font-size="11.2" dx="0.5" dy="-6.4">1</tspan></text>
<text x="370.0" y="226.8">10<tspan font-size="11.2" dx="0.5" dy="-6.4">2</tspan></text>
<text x="537.5" y="226.8">10<tspan font-size="11.2" dx="0.5" dy="-6.4">3</tspan></text>
</g>
<g font-family="Liberation Serif, serif" fill="#262626" font-size="14.2" text-anchor="middle">
<text x="45.3" y="463.7">0</text>
<text x="124.4" y="463.7">5</text>
<text x="203.5" y="463.7">10</text>
<text x="282.7" y="463.7">15</text>
<text x="361.8" y="463.7">20</text>
<text x="440.9" y="463.7">25</text>
<text x="520.1" y="463.7">30</text>
<text x="599.2" y="463.7">35</text>
<text x="678.3" y="463.7">40</text>
</g>
<text font-family="Liberation Serif, serif" fill="#262626" font-size="14.5" x="326.7" y="233.7" textLength="95.5" lengthAdjust="spacingAndGlyphs">Frequency[Hz]</text>
<text font-family="Liberation Serif, serif" fill="#262626" font-size="14.3" transform="translate(11.7,120.3) rotate(-90)" text-anchor="middle">TL[dB]</text>
<text font-family="Liberation Serif, serif" fill="#262626" font-size="14.5" transform="translate(12.9,354.6) rotate(-90)" text-anchor="middle">NR[dB]</text>
<text font-family="Liberation Serif, serif" fill="#262626" font-size="15" font-style="italic" x="343.6" y="480.1">k</text>
<text font-family="Liberation Serif, serif" fill="#262626" font-size="10" x="349.8" y="482.6">1</text>
<text font-family="Liberation Serif, serif" fill="#262626" font-size="15" font-style="italic" x="356.0" y="480.1">R</text>
<text font-family="Liberation Serif, serif" fill="#262626" font-size="10" x="367.2" y="482.6">2</text>
<text font-family="Liberation Serif, serif" fill="#262626" font-size="10.5" font-style="italic" x="373.6" y="482.6">o</text>
<text font-family="Liberation Serif, serif" font-weight="bold" font-size="19" fill="#000" x="8.6" y="13.2">(a)</text>
<text font-family="Liberation Serif, serif" font-weight="bold" font-size="19" fill="#000" x="10.4" y="252.6">(b)</text>
<rect x="66.5" y="126.3" width="116.8" height="64.0" fill="#fff" stroke="#8c8c8c" stroke-width="1"/><line x1="68.5" x2="89.0" y1="138.0" y2="138.0" stroke="#000" stroke-width="2"/><text font-family="Liberation Sans, sans-serif" font-style="italic" fill="#000" font-size="12.8" x="90.75" y="139.5" textLength="7.6" lengthAdjust="spacingAndGlyphs">B</text><text font-family="Liberation Sans, sans-serif" font-style="italic" fill="#000" font-size="9.6" letter-spacing="0.9" x="98.35" y="145.3">ri</text><text font-family="Liberation Serif, serif" fill="#000" font-size="13" x="107.8" y="139.5">=</text><text font-family="Liberation Sans, sans-serif" font-style="italic" fill="#000" font-size="12.8" x="117.75" y="139.5" textLength="7.6" lengthAdjust="spacingAndGlyphs">B</text><text font-family="Liberation Sans, sans-serif" font-style="italic" fill="#000" font-size="9.2" x="125.30" y="145.3">si</text><text font-family="Liberation Serif, serif" fill="#000" font-size="13" x="134.2" y="139.5">=</text><text font-family="Liberation Serif, serif" fill="#000" font-size="13" x="145.0" y="139.5">10 mm</text><line x1="68.5" x2="89.0" y1="158.7" y2="158.7" stroke="#0000ff" stroke-width="2" stroke-dasharray="4.5 3.7"/><text font-family="Liberation Sans, sans-serif" font-style="italic" fill="#000" font-size="12.8" x="90.75" y="160.2" textLength="7.6" lengthAdjust="spacingAndGlyphs">B</text><text font-family="Liberation Sans, sans-serif" font-style="italic" fill="#000" font-size="9.6" letter-spacing="0.9" x="98.35" y="166.0">ri</text><text font-family="Liberation Serif, serif" fill="#000" font-size="13" x="107.8" y="160.2">=</text><text font-family="Liberation Sans, sans-serif" font-style="italic" fill="#000" font-size="12.8" x="117.75" y="160.2" textLength="7.6" lengthAdjust="spacingAndGlyphs">B</text><text font-family="Liberation Sans, sans-serif" font-style="italic" fill="#000" font-size="9.2" x="125.30" y="166.0">si</text><text font-family="Liberation Serif, serif" fill="#000" font-size="13" x="134.2" y="160.2">=</text><text font-family="Liberation Serif, serif" fill="#000" font-size="13" x="145.0" y="160.2">25 mm</text><line x1="68.5" x2="89.0" y1="179.4" y2="179.4" stroke="#ff0000" stroke-width="1.5" stroke-dasharray="1 0.8"/><text font-family="Liberation Sans, sans-serif" font-style="italic" fill="#000" font-size="12.8" x="90.75" y="180.9" textLength="7.6" lengthAdjust="spacingAndGlyphs">B</text><text font-family="Liberation Sans, sans-serif" font-style="italic" fill="#000" font-size="9.6" letter-spacing="0.9" x="98.35" y="186.7">ri</text><text font-family="Liberation Serif, serif" fill="#000" font-size="13" x="107.8" y="180.9">=</text><text font-family="Liberation Sans, sans-serif" font-style="italic" fill="#000" font-size="12.8" x="117.75" y="180.9" textLength="7.6" lengthAdjust="spacingAndGlyphs">B</text><text font-family="Liberation Sans, sans-serif" font-style="italic" fill="#000" font-size="9.2" x="125.30" y="186.7">si</text><text font-family="Liberation Serif, serif" fill="#000" font-size="13" x="134.2" y="180.9">=</text><text font-family="Liberation Serif, serif" fill="#000" font-size="13" x="145.0" y="180.9">50 mm</text>
<rect x="65.7" y="275.6" width="117.3" height="63.8" fill="#fff" stroke="#8c8c8c" stroke-width="1"/><line x1="67.7" x2="88.2" y1="286.9" y2="286.9" stroke="#000" stroke-width="2"/><text font-family="Liberation Sans, sans-serif" font-style="italic" fill="#000" font-size="12.8" x="89.85" y="288.7" textLength="7.6" lengthAdjust="spacingAndGlyphs">B</text><text font-family="Liberation Sans, sans-serif" font-style="italic" fill="#000" font-size="9.6" letter-spacing="0.9" x="97.45" y="294.5">ri</text><text font-family="Liberation Serif, serif" fill="#000" font-size="13" x="106.9" y="288.7">=</text><text font-family="Liberation Sans, sans-serif" font-style="italic" fill="#000" font-size="12.8" x="116.85" y="288.7" textLength="7.6" lengthAdjust="spacingAndGlyphs">B</text><text font-family="Liberation Sans, sans-serif" font-style="italic" fill="#000" font-size="9.2" x="124.40" y="294.5">si</text><text font-family="Liberation Serif, serif" fill="#000" font-size="13" x="133.3" y="288.7">=</text><text font-family="Liberation Serif, serif" fill="#000" font-size="13" x="144.1" y="288.7">10 mm</text><line x1="67.7" x2="88.2" y1="307.7" y2="307.7" stroke="#0000ff" stroke-width="2"/><text font-family="Liberation Sans, sans-serif" font-style="italic" fill="#000" font-size="12.8" x="89.85" y="309.5" textLength="7.6" lengthAdjust="spacingAndGlyphs">B</text><text font-family="Liberation Sans, sans-serif" font-style="italic" fill="#000" font-size="9.6" letter-spacing="0.9" x="97.45" y="315.3">ri</text><text font-family="Liberation Serif, serif" fill="#000" font-size="13" x="106.9" y="309.5">=</text><text font-family="Liberation Sans, sans-serif" font-style="italic" fill="#000" font-size="12.8" x="116.85" y="309.5" textLength="7.6" lengthAdjust="spacingAndGlyphs">B</text><text font-family="Liberation Sans, sans-serif" font-style="italic" fill="#000" font-size="9.2" x="124.40" y="315.3">si</text><text font-family="Liberation Serif, serif" fill="#000" font-size="13" x="133.3" y="309.5">=</text><text font-family="Liberation Serif, serif" fill="#000" font-size="13" x="144.1" y="309.5">25 mm</text><line x1="67.7" x2="88.2" y1="328.6" y2="328.6" stroke="#ff0000" stroke-width="2"/><text font-family="Liberation Sans, sans-serif" font-style="italic" fill="#000" font-size="12.8" x="89.85" y="330.4" textLength="7.6" lengthAdjust="spacingAndGlyphs">B</text><text font-family="Liberation Sans, sans-serif" font-style="italic" fill="#000" font-size="9.6" letter-spacing="0.9" x="97.45" y="336.2">ri</text><text font-family="Liberation Serif, serif" fill="#000" font-size="13" x="106.9" y="330.4">=</text><text font-family="Liberation Sans, sans-serif" font-style="italic" fill="#000" font-size="12.8" x="116.85" y="330.4" textLength="7.6" lengthAdjust="spacingAndGlyphs">B</text><text font-family="Liberation Sans, sans-serif" font-style="italic" fill="#000" font-size="9.2" x="124.40" y="336.2">si</text><text font-family="Liberation Serif, serif" fill="#000" font-size="13" x="133.3" y="330.4">=</text><text font-family="Liberation Serif, serif" fill="#000" font-size="13" x="144.1" y="330.4">50 mm</text>
</svg>
</body></html>
